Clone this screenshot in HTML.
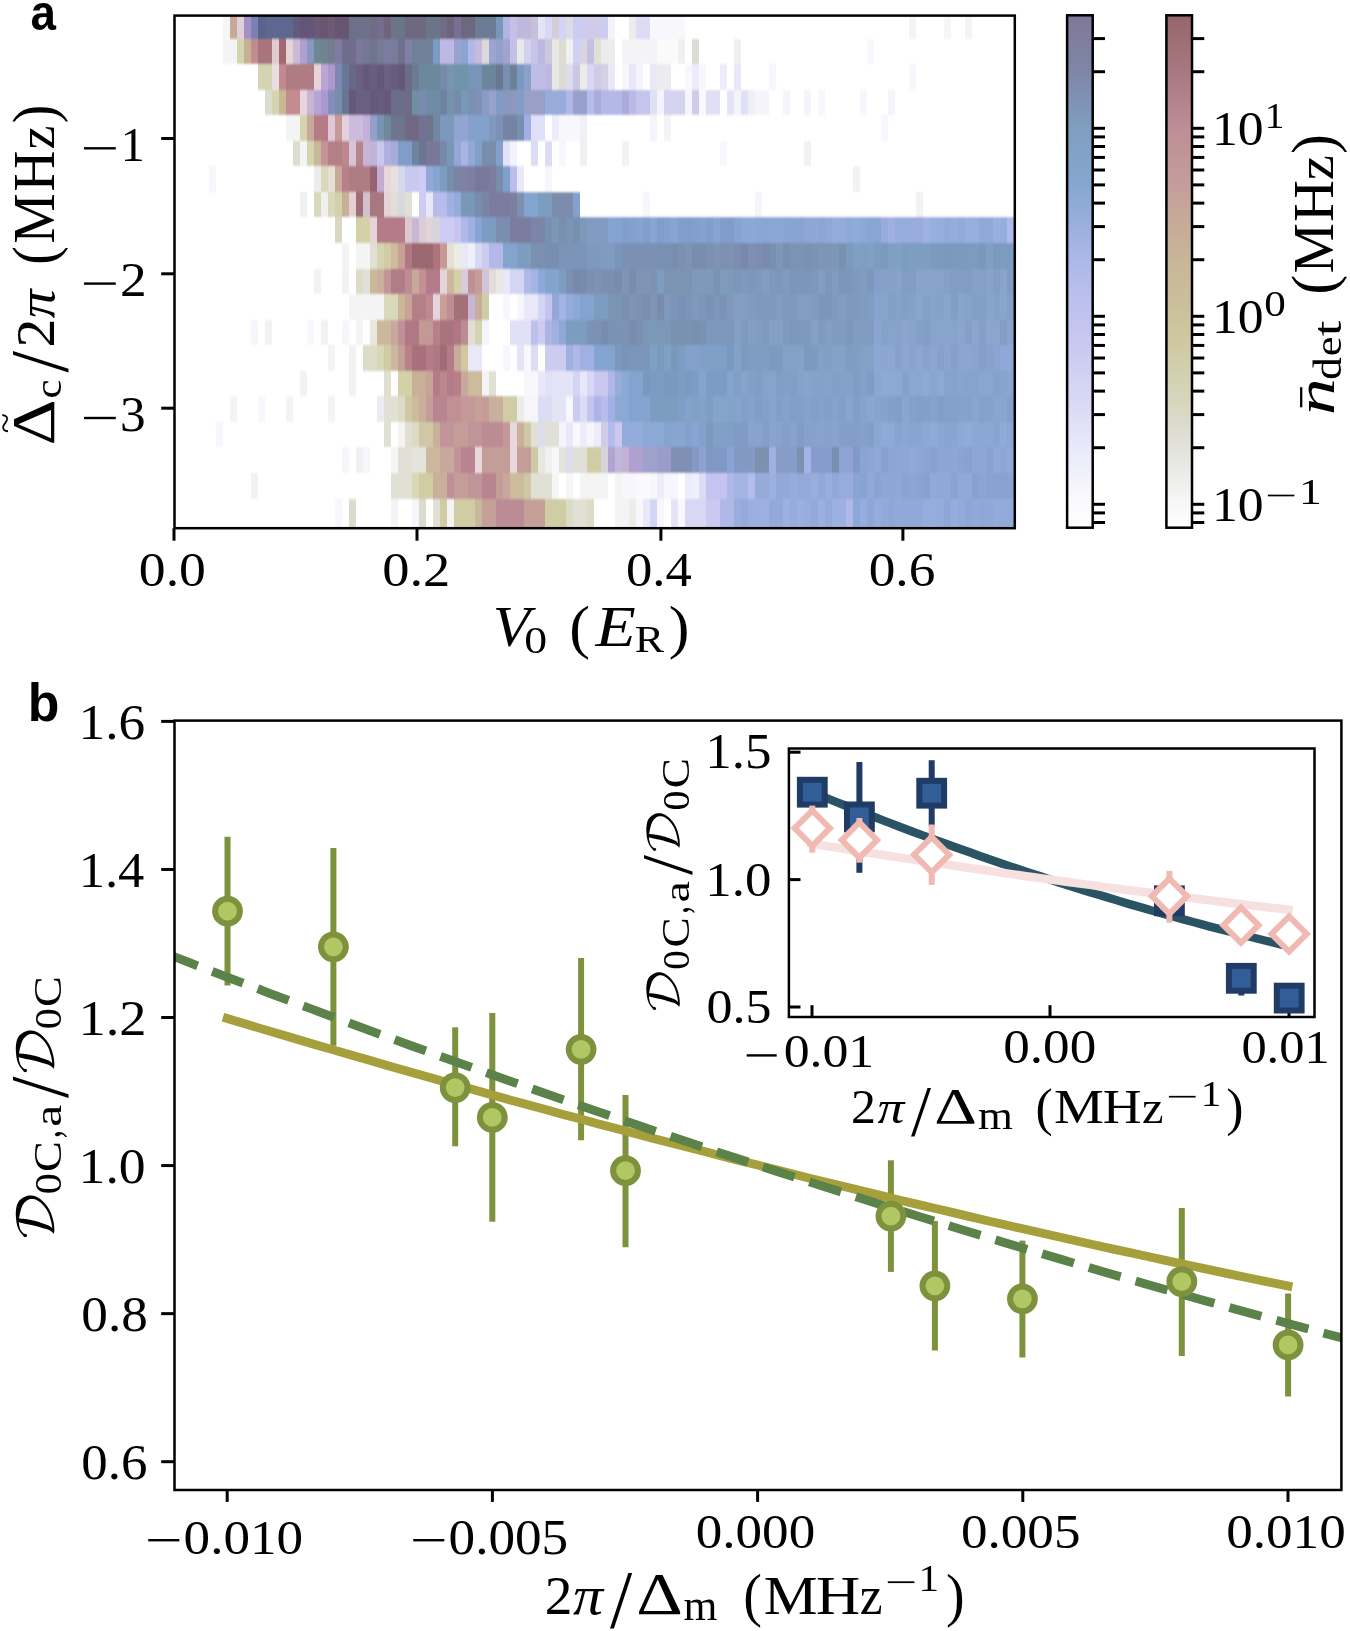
<!DOCTYPE html>
<html><head><meta charset="utf-8"><title>figure</title><style>html,body{margin:0;padding:0;background:#fff}svg{display:block}text{font-kerning:none;white-space:pre}</style>
</head><body>
<svg width="1350" height="1631" viewBox="0 0 1350 1631">
<rect width="1350" height="1631" fill="#fff"/>
<defs><filter id="vb" x="0" y="0" width="1350" height="560" filterUnits="userSpaceOnUse"><feGaussianBlur stdDeviation="0 1.3"/></filter><clipPath id="ca"><rect x="174.5" y="15.6" width="840.3" height="512.6"/></clipPath></defs>
<g clip-path="url(#ca)"><g filter="url(#vb)" shape-rendering="crispEdges">
<rect x="172.50" y="0.00" width="844.30" height="545.00" fill="#fff" stroke="none" stroke-width="0" />
<rect x="223.20" y="8.00" width="7.00" height="30.50" fill="#f6f6f6" stroke="none" stroke-width="0" />
<rect x="230.20" y="8.00" width="7.00" height="30.50" fill="#c8a896" stroke="none" stroke-width="0" />
<rect x="237.20" y="8.00" width="7.00" height="30.50" fill="#e0d0d8" stroke="none" stroke-width="0" />
<rect x="244.20" y="8.00" width="7.00" height="30.50" fill="#a490c4" stroke="none" stroke-width="0" />
<rect x="251.20" y="8.00" width="7.00" height="30.50" fill="#7c80b8" stroke="none" stroke-width="0" />
<rect x="258.20" y="8.00" width="7.00" height="30.50" fill="#5a648c" stroke="none" stroke-width="0" />
<rect x="265.20" y="8.00" width="28.00" height="30.50" fill="#5c6890" stroke="none" stroke-width="0" />
<rect x="293.20" y="8.00" width="7.00" height="30.50" fill="#605c80" stroke="none" stroke-width="0" />
<rect x="300.20" y="8.00" width="14.00" height="30.50" fill="#645478" stroke="none" stroke-width="0" />
<rect x="314.20" y="8.00" width="7.00" height="30.50" fill="#6b5975" stroke="none" stroke-width="0" />
<rect x="321.20" y="8.00" width="7.00" height="30.50" fill="#685672" stroke="none" stroke-width="0" />
<rect x="328.20" y="8.00" width="7.00" height="30.50" fill="#6c5a76" stroke="none" stroke-width="0" />
<rect x="335.20" y="8.00" width="7.00" height="30.50" fill="#665470" stroke="none" stroke-width="0" />
<rect x="342.20" y="8.00" width="7.00" height="30.50" fill="#675571" stroke="none" stroke-width="0" />
<rect x="349.20" y="8.00" width="21.00" height="30.50" fill="#6c7088" stroke="none" stroke-width="0" />
<rect x="370.20" y="8.00" width="7.00" height="30.50" fill="#706c84" stroke="none" stroke-width="0" />
<rect x="377.20" y="8.00" width="7.00" height="30.50" fill="#746c90" stroke="none" stroke-width="0" />
<rect x="384.20" y="8.00" width="7.00" height="30.50" fill="#70647c" stroke="none" stroke-width="0" />
<rect x="391.20" y="8.00" width="14.00" height="30.50" fill="#6c7488" stroke="none" stroke-width="0" />
<rect x="405.20" y="8.00" width="21.00" height="30.50" fill="#6e6880" stroke="none" stroke-width="0" />
<rect x="426.20" y="8.00" width="14.00" height="30.50" fill="#6c7488" stroke="none" stroke-width="0" />
<rect x="440.20" y="8.00" width="7.00" height="30.50" fill="#706c88" stroke="none" stroke-width="0" />
<rect x="447.20" y="8.00" width="7.00" height="30.50" fill="#6c647c" stroke="none" stroke-width="0" />
<rect x="454.20" y="8.00" width="7.00" height="30.50" fill="#787094" stroke="none" stroke-width="0" />
<rect x="461.20" y="8.00" width="14.00" height="30.50" fill="#6c6880" stroke="none" stroke-width="0" />
<rect x="475.20" y="8.00" width="21.00" height="30.50" fill="#6c7c94" stroke="none" stroke-width="0" />
<rect x="496.20" y="8.00" width="7.00" height="30.50" fill="#7898b8" stroke="none" stroke-width="0" />
<rect x="503.20" y="8.00" width="7.00" height="30.50" fill="#b4b4e4" stroke="none" stroke-width="0" />
<rect x="510.20" y="8.00" width="7.00" height="30.50" fill="#c4c0e8" stroke="none" stroke-width="0" />
<rect x="517.20" y="8.00" width="14.00" height="30.50" fill="#c0b8dc" stroke="none" stroke-width="0" />
<rect x="531.20" y="8.00" width="7.00" height="30.50" fill="#c8c0d8" stroke="none" stroke-width="0" />
<rect x="538.20" y="8.00" width="7.00" height="30.50" fill="#e4e4f8" stroke="none" stroke-width="0" />
<rect x="545.20" y="8.00" width="7.00" height="30.50" fill="#d8d8f4" stroke="none" stroke-width="0" />
<rect x="552.20" y="8.00" width="7.00" height="30.50" fill="#d4ccd8" stroke="none" stroke-width="0" />
<rect x="559.20" y="8.00" width="7.00" height="30.50" fill="#d4d4f4" stroke="none" stroke-width="0" />
<rect x="566.20" y="8.00" width="7.00" height="30.50" fill="#dcdce8" stroke="none" stroke-width="0" />
<rect x="573.20" y="8.00" width="14.00" height="30.50" fill="#ccccf0" stroke="none" stroke-width="0" />
<rect x="587.20" y="8.00" width="14.00" height="30.50" fill="#d0cce8" stroke="none" stroke-width="0" />
<rect x="601.20" y="8.00" width="7.00" height="30.50" fill="#ccccf0" stroke="none" stroke-width="0" />
<rect x="608.20" y="8.00" width="7.00" height="30.50" fill="#f4f4f8" stroke="none" stroke-width="0" />
<rect x="629.20" y="8.00" width="7.00" height="30.50" fill="#ececec" stroke="none" stroke-width="0" />
<rect x="636.20" y="8.00" width="14.00" height="30.50" fill="#dcdcf4" stroke="none" stroke-width="0" />
<rect x="650.20" y="8.00" width="35.00" height="30.50" fill="#f8f8fc" stroke="none" stroke-width="0" />
<rect x="909.20" y="8.00" width="7.00" height="30.50" fill="#f4f4f4" stroke="none" stroke-width="0" />
<rect x="944.20" y="8.00" width="7.00" height="30.50" fill="#f6f6f6" stroke="none" stroke-width="0" />
<rect x="965.20" y="8.00" width="7.00" height="30.50" fill="#f4f4f4" stroke="none" stroke-width="0" />
<rect x="223.20" y="38.50" width="14.00" height="25.56" fill="#f4f4f4" stroke="none" stroke-width="0" />
<rect x="237.20" y="38.50" width="7.00" height="25.56" fill="#d4d4b0" stroke="none" stroke-width="0" />
<rect x="244.20" y="38.50" width="7.00" height="25.56" fill="#c8b094" stroke="none" stroke-width="0" />
<rect x="251.20" y="38.50" width="7.00" height="25.56" fill="#c08c90" stroke="none" stroke-width="0" />
<rect x="258.20" y="38.50" width="14.00" height="25.56" fill="#a8747c" stroke="none" stroke-width="0" />
<rect x="272.20" y="38.50" width="7.00" height="25.56" fill="#e0ccd0" stroke="none" stroke-width="0" />
<rect x="279.20" y="38.50" width="7.00" height="25.56" fill="#a06870" stroke="none" stroke-width="0" />
<rect x="286.20" y="38.50" width="7.00" height="25.56" fill="#e4d4d8" stroke="none" stroke-width="0" />
<rect x="293.20" y="38.50" width="7.00" height="25.56" fill="#ccb8d8" stroke="none" stroke-width="0" />
<rect x="300.20" y="38.50" width="7.00" height="25.56" fill="#b0a0d0" stroke="none" stroke-width="0" />
<rect x="307.20" y="38.50" width="7.00" height="25.56" fill="#8898c0" stroke="none" stroke-width="0" />
<rect x="314.20" y="38.50" width="7.00" height="25.56" fill="#6c8894" stroke="none" stroke-width="0" />
<rect x="321.20" y="38.50" width="7.00" height="25.56" fill="#708490" stroke="none" stroke-width="0" />
<rect x="328.20" y="38.50" width="7.00" height="25.56" fill="#747c90" stroke="none" stroke-width="0" />
<rect x="335.20" y="38.50" width="7.00" height="25.56" fill="#807ca0" stroke="none" stroke-width="0" />
<rect x="342.20" y="38.50" width="14.00" height="25.56" fill="#706c8c" stroke="none" stroke-width="0" />
<rect x="356.20" y="38.50" width="7.00" height="25.56" fill="#7c789c" stroke="none" stroke-width="0" />
<rect x="363.20" y="38.50" width="7.00" height="25.56" fill="#747894" stroke="none" stroke-width="0" />
<rect x="370.20" y="38.50" width="7.00" height="25.56" fill="#70748c" stroke="none" stroke-width="0" />
<rect x="377.20" y="38.50" width="7.00" height="25.56" fill="#747c94" stroke="none" stroke-width="0" />
<rect x="384.20" y="38.50" width="7.00" height="25.56" fill="#7c7ca0" stroke="none" stroke-width="0" />
<rect x="391.20" y="38.50" width="7.00" height="25.56" fill="#787c9c" stroke="none" stroke-width="0" />
<rect x="398.20" y="38.50" width="7.00" height="25.56" fill="#70708c" stroke="none" stroke-width="0" />
<rect x="405.20" y="38.50" width="7.00" height="25.56" fill="#8080a4" stroke="none" stroke-width="0" />
<rect x="412.20" y="38.50" width="21.00" height="25.56" fill="#708098" stroke="none" stroke-width="0" />
<rect x="433.20" y="38.50" width="7.00" height="25.56" fill="#7c9cc4" stroke="none" stroke-width="0" />
<rect x="440.20" y="38.50" width="14.00" height="25.56" fill="#c0b8e4" stroke="none" stroke-width="0" />
<rect x="454.20" y="38.50" width="7.00" height="25.56" fill="#98a4d0" stroke="none" stroke-width="0" />
<rect x="461.20" y="38.50" width="7.00" height="25.56" fill="#8ca4d4" stroke="none" stroke-width="0" />
<rect x="468.20" y="38.50" width="7.00" height="25.56" fill="#b0b8e8" stroke="none" stroke-width="0" />
<rect x="475.20" y="38.50" width="7.00" height="25.56" fill="#c4bcdc" stroke="none" stroke-width="0" />
<rect x="482.20" y="38.50" width="7.00" height="25.56" fill="#dcd8dc" stroke="none" stroke-width="0" />
<rect x="489.20" y="38.50" width="7.00" height="25.56" fill="#9ca4d0" stroke="none" stroke-width="0" />
<rect x="496.20" y="38.50" width="7.00" height="25.56" fill="#94a0cc" stroke="none" stroke-width="0" />
<rect x="503.20" y="38.50" width="7.00" height="25.56" fill="#a0a4d0" stroke="none" stroke-width="0" />
<rect x="510.20" y="38.50" width="7.00" height="25.56" fill="#c4c0e4" stroke="none" stroke-width="0" />
<rect x="517.20" y="38.50" width="7.00" height="25.56" fill="#e8e8e8" stroke="none" stroke-width="0" />
<rect x="524.20" y="38.50" width="7.00" height="25.56" fill="#d4d0f0" stroke="none" stroke-width="0" />
<rect x="531.20" y="38.50" width="7.00" height="25.56" fill="#c8c4e8" stroke="none" stroke-width="0" />
<rect x="538.20" y="38.50" width="7.00" height="25.56" fill="#bcb8e0" stroke="none" stroke-width="0" />
<rect x="545.20" y="38.50" width="7.00" height="25.56" fill="#ccc8dc" stroke="none" stroke-width="0" />
<rect x="552.20" y="38.50" width="7.00" height="25.56" fill="#e8e8e4" stroke="none" stroke-width="0" />
<rect x="559.20" y="38.50" width="7.00" height="25.56" fill="#dcdcd4" stroke="none" stroke-width="0" />
<rect x="566.20" y="38.50" width="7.00" height="25.56" fill="#f0f0f0" stroke="none" stroke-width="0" />
<rect x="573.20" y="38.50" width="7.00" height="25.56" fill="#d0d0f4" stroke="none" stroke-width="0" />
<rect x="580.20" y="38.50" width="7.00" height="25.56" fill="#d8d4e4" stroke="none" stroke-width="0" />
<rect x="587.20" y="38.50" width="7.00" height="25.56" fill="#c4c0e0" stroke="none" stroke-width="0" />
<rect x="594.20" y="38.50" width="7.00" height="25.56" fill="#e0e0d4" stroke="none" stroke-width="0" />
<rect x="601.20" y="38.50" width="14.00" height="25.56" fill="#ececec" stroke="none" stroke-width="0" />
<rect x="622.20" y="38.50" width="35.00" height="25.56" fill="#f4f4f6" stroke="none" stroke-width="0" />
<rect x="657.20" y="38.50" width="21.00" height="25.56" fill="#fafafa" stroke="none" stroke-width="0" />
<rect x="678.20" y="38.50" width="7.00" height="25.56" fill="#f0f0f0" stroke="none" stroke-width="0" />
<rect x="692.20" y="38.50" width="7.00" height="25.56" fill="#dcdcd4" stroke="none" stroke-width="0" />
<rect x="734.20" y="38.50" width="7.00" height="25.56" fill="#f0f0f0" stroke="none" stroke-width="0" />
<rect x="867.20" y="38.50" width="7.00" height="25.56" fill="#f8f8fc" stroke="none" stroke-width="0" />
<rect x="258.20" y="64.06" width="14.00" height="25.56" fill="#d4d4b4" stroke="none" stroke-width="0" />
<rect x="272.20" y="64.06" width="7.00" height="25.56" fill="#e8e0e0" stroke="none" stroke-width="0" />
<rect x="279.20" y="64.06" width="7.00" height="25.56" fill="#c48890" stroke="none" stroke-width="0" />
<rect x="286.20" y="64.06" width="28.00" height="25.56" fill="#b07c84" stroke="none" stroke-width="0" />
<rect x="314.20" y="64.06" width="7.00" height="25.56" fill="#e8d4d8" stroke="none" stroke-width="0" />
<rect x="321.20" y="64.06" width="7.00" height="25.56" fill="#bca4d4" stroke="none" stroke-width="0" />
<rect x="328.20" y="64.06" width="7.00" height="25.56" fill="#ac98cc" stroke="none" stroke-width="0" />
<rect x="335.20" y="64.06" width="7.00" height="25.56" fill="#7c88b4" stroke="none" stroke-width="0" />
<rect x="342.20" y="64.06" width="7.00" height="25.56" fill="#687898" stroke="none" stroke-width="0" />
<rect x="349.20" y="64.06" width="7.00" height="25.56" fill="#686888" stroke="none" stroke-width="0" />
<rect x="356.20" y="64.06" width="7.00" height="25.56" fill="#6c6080" stroke="none" stroke-width="0" />
<rect x="363.20" y="64.06" width="7.00" height="25.56" fill="#655979" stroke="none" stroke-width="0" />
<rect x="370.20" y="64.06" width="7.00" height="25.56" fill="#695d7d" stroke="none" stroke-width="0" />
<rect x="377.20" y="64.06" width="7.00" height="25.56" fill="#645878" stroke="none" stroke-width="0" />
<rect x="384.20" y="64.06" width="7.00" height="25.56" fill="#6c6080" stroke="none" stroke-width="0" />
<rect x="391.20" y="64.06" width="7.00" height="25.56" fill="#675b7b" stroke="none" stroke-width="0" />
<rect x="398.20" y="64.06" width="7.00" height="25.56" fill="#645878" stroke="none" stroke-width="0" />
<rect x="405.20" y="64.06" width="7.00" height="25.56" fill="#6c6c84" stroke="none" stroke-width="0" />
<rect x="412.20" y="64.06" width="7.00" height="25.56" fill="#6c7c90" stroke="none" stroke-width="0" />
<rect x="419.20" y="64.06" width="21.00" height="25.56" fill="#6c889c" stroke="none" stroke-width="0" />
<rect x="440.20" y="64.06" width="7.00" height="25.56" fill="#748ca8" stroke="none" stroke-width="0" />
<rect x="447.20" y="64.06" width="7.00" height="25.56" fill="#7894b0" stroke="none" stroke-width="0" />
<rect x="454.20" y="64.06" width="14.00" height="25.56" fill="#7094ac" stroke="none" stroke-width="0" />
<rect x="468.20" y="64.06" width="14.00" height="25.56" fill="#7894b8" stroke="none" stroke-width="0" />
<rect x="482.20" y="64.06" width="14.00" height="25.56" fill="#6c849c" stroke="none" stroke-width="0" />
<rect x="496.20" y="64.06" width="7.00" height="25.56" fill="#687890" stroke="none" stroke-width="0" />
<rect x="503.20" y="64.06" width="7.00" height="25.56" fill="#788eb2" stroke="none" stroke-width="0" />
<rect x="510.20" y="64.06" width="7.00" height="25.56" fill="#6c8098" stroke="none" stroke-width="0" />
<rect x="517.20" y="64.06" width="7.00" height="25.56" fill="#7c98c0" stroke="none" stroke-width="0" />
<rect x="524.20" y="64.06" width="7.00" height="25.56" fill="#88a0cc" stroke="none" stroke-width="0" />
<rect x="531.20" y="64.06" width="14.00" height="25.56" fill="#c0bce8" stroke="none" stroke-width="0" />
<rect x="545.20" y="64.06" width="7.00" height="25.56" fill="#bcb8e0" stroke="none" stroke-width="0" />
<rect x="552.20" y="64.06" width="7.00" height="25.56" fill="#e8e8e4" stroke="none" stroke-width="0" />
<rect x="559.20" y="64.06" width="7.00" height="25.56" fill="#dcdcd4" stroke="none" stroke-width="0" />
<rect x="566.20" y="64.06" width="7.00" height="25.56" fill="#dcdcec" stroke="none" stroke-width="0" />
<rect x="573.20" y="64.06" width="7.00" height="25.56" fill="#ccc8e4" stroke="none" stroke-width="0" />
<rect x="580.20" y="64.06" width="7.00" height="25.56" fill="#ecece8" stroke="none" stroke-width="0" />
<rect x="587.20" y="64.06" width="7.00" height="25.56" fill="#d8d8f4" stroke="none" stroke-width="0" />
<rect x="594.20" y="64.06" width="7.00" height="25.56" fill="#d0cce8" stroke="none" stroke-width="0" />
<rect x="601.20" y="64.06" width="7.00" height="25.56" fill="#d4d0e8" stroke="none" stroke-width="0" />
<rect x="608.20" y="64.06" width="7.00" height="25.56" fill="#e8e8f8" stroke="none" stroke-width="0" />
<rect x="622.20" y="64.06" width="7.00" height="25.56" fill="#f8f8fc" stroke="none" stroke-width="0" />
<rect x="629.20" y="64.06" width="7.00" height="25.56" fill="#e8e8f8" stroke="none" stroke-width="0" />
<rect x="636.20" y="64.06" width="7.00" height="25.56" fill="#f4f4fc" stroke="none" stroke-width="0" />
<rect x="650.20" y="64.06" width="7.00" height="25.56" fill="#e8e8f8" stroke="none" stroke-width="0" />
<rect x="657.20" y="64.06" width="14.00" height="25.56" fill="#ececf0" stroke="none" stroke-width="0" />
<rect x="685.20" y="64.06" width="7.00" height="25.56" fill="#f8f8fc" stroke="none" stroke-width="0" />
<rect x="692.20" y="64.06" width="7.00" height="25.56" fill="#ececfa" stroke="none" stroke-width="0" />
<rect x="699.20" y="64.06" width="7.00" height="25.56" fill="#f8f8fc" stroke="none" stroke-width="0" />
<rect x="720.20" y="64.06" width="7.00" height="25.56" fill="#ececfa" stroke="none" stroke-width="0" />
<rect x="734.20" y="64.06" width="7.00" height="25.56" fill="#e8e8f8" stroke="none" stroke-width="0" />
<rect x="769.20" y="64.06" width="7.00" height="25.56" fill="#f6f6fc" stroke="none" stroke-width="0" />
<rect x="909.20" y="64.06" width="7.00" height="25.56" fill="#f6f6fc" stroke="none" stroke-width="0" />
<rect x="265.20" y="89.62" width="7.00" height="25.56" fill="#dcdccc" stroke="none" stroke-width="0" />
<rect x="272.20" y="89.62" width="7.00" height="25.56" fill="#d4d4b0" stroke="none" stroke-width="0" />
<rect x="279.20" y="89.62" width="7.00" height="25.56" fill="#c8b894" stroke="none" stroke-width="0" />
<rect x="286.20" y="89.62" width="14.00" height="25.56" fill="#c48c90" stroke="none" stroke-width="0" />
<rect x="300.20" y="89.62" width="7.00" height="25.56" fill="#e8d4dc" stroke="none" stroke-width="0" />
<rect x="307.20" y="89.62" width="7.00" height="25.56" fill="#c8b4d4" stroke="none" stroke-width="0" />
<rect x="314.20" y="89.62" width="7.00" height="25.56" fill="#b8a4d4" stroke="none" stroke-width="0" />
<rect x="321.20" y="89.62" width="7.00" height="25.56" fill="#ac98d0" stroke="none" stroke-width="0" />
<rect x="328.20" y="89.62" width="7.00" height="25.56" fill="#848cbc" stroke="none" stroke-width="0" />
<rect x="335.20" y="89.62" width="7.00" height="25.56" fill="#788cac" stroke="none" stroke-width="0" />
<rect x="342.20" y="89.62" width="7.00" height="25.56" fill="#687494" stroke="none" stroke-width="0" />
<rect x="349.20" y="89.62" width="7.00" height="25.56" fill="#655979" stroke="none" stroke-width="0" />
<rect x="356.20" y="89.62" width="14.00" height="25.56" fill="#6a5e7e" stroke="none" stroke-width="0" />
<rect x="370.20" y="89.62" width="7.00" height="25.56" fill="#655979" stroke="none" stroke-width="0" />
<rect x="377.20" y="89.62" width="7.00" height="25.56" fill="#675b7b" stroke="none" stroke-width="0" />
<rect x="384.20" y="89.62" width="7.00" height="25.56" fill="#655979" stroke="none" stroke-width="0" />
<rect x="391.20" y="89.62" width="21.00" height="25.56" fill="#6c6c88" stroke="none" stroke-width="0" />
<rect x="412.20" y="89.62" width="7.00" height="25.56" fill="#7090a0" stroke="none" stroke-width="0" />
<rect x="419.20" y="89.62" width="7.00" height="25.56" fill="#788cb0" stroke="none" stroke-width="0" />
<rect x="426.20" y="89.62" width="14.00" height="25.56" fill="#708ca4" stroke="none" stroke-width="0" />
<rect x="440.20" y="89.62" width="7.00" height="25.56" fill="#7080a0" stroke="none" stroke-width="0" />
<rect x="447.20" y="89.62" width="7.00" height="25.56" fill="#7494ac" stroke="none" stroke-width="0" />
<rect x="454.20" y="89.62" width="7.00" height="25.56" fill="#748cac" stroke="none" stroke-width="0" />
<rect x="461.20" y="89.62" width="7.00" height="25.56" fill="#7898b8" stroke="none" stroke-width="0" />
<rect x="468.20" y="89.62" width="7.00" height="25.56" fill="#7c90b4" stroke="none" stroke-width="0" />
<rect x="475.20" y="89.62" width="7.00" height="25.56" fill="#8090b8" stroke="none" stroke-width="0" />
<rect x="482.20" y="89.62" width="7.00" height="25.56" fill="#889cc4" stroke="none" stroke-width="0" />
<rect x="489.20" y="89.62" width="7.00" height="25.56" fill="#98a0cc" stroke="none" stroke-width="0" />
<rect x="496.20" y="89.62" width="7.00" height="25.56" fill="#809cc4" stroke="none" stroke-width="0" />
<rect x="503.20" y="89.62" width="7.00" height="25.56" fill="#8898c0" stroke="none" stroke-width="0" />
<rect x="510.20" y="89.62" width="7.00" height="25.56" fill="#8c98c0" stroke="none" stroke-width="0" />
<rect x="517.20" y="89.62" width="7.00" height="25.56" fill="#849cc8" stroke="none" stroke-width="0" />
<rect x="524.20" y="89.62" width="21.00" height="25.56" fill="#98a0c8" stroke="none" stroke-width="0" />
<rect x="545.20" y="89.62" width="21.00" height="25.56" fill="#98acdc" stroke="none" stroke-width="0" />
<rect x="566.20" y="89.62" width="7.00" height="25.56" fill="#b0b8e8" stroke="none" stroke-width="0" />
<rect x="573.20" y="89.62" width="14.00" height="25.56" fill="#98a0cc" stroke="none" stroke-width="0" />
<rect x="587.20" y="89.62" width="7.00" height="25.56" fill="#b8bcec" stroke="none" stroke-width="0" />
<rect x="594.20" y="89.62" width="7.00" height="25.56" fill="#a8acd8" stroke="none" stroke-width="0" />
<rect x="601.20" y="89.62" width="21.00" height="25.56" fill="#b4b8e8" stroke="none" stroke-width="0" />
<rect x="622.20" y="89.62" width="7.00" height="25.56" fill="#acacdc" stroke="none" stroke-width="0" />
<rect x="629.20" y="89.62" width="7.00" height="25.56" fill="#bcb8e8" stroke="none" stroke-width="0" />
<rect x="636.20" y="89.62" width="14.00" height="25.56" fill="#c4c4ec" stroke="none" stroke-width="0" />
<rect x="650.20" y="89.62" width="7.00" height="25.56" fill="#e0e0f4" stroke="none" stroke-width="0" />
<rect x="657.20" y="89.62" width="7.00" height="25.56" fill="#f4f4fc" stroke="none" stroke-width="0" />
<rect x="664.20" y="89.62" width="21.00" height="25.56" fill="#d4d4f0" stroke="none" stroke-width="0" />
<rect x="685.20" y="89.62" width="7.00" height="25.56" fill="#f4f4fc" stroke="none" stroke-width="0" />
<rect x="692.20" y="89.62" width="7.00" height="25.56" fill="#d0cce8" stroke="none" stroke-width="0" />
<rect x="699.20" y="89.62" width="7.00" height="25.56" fill="#f8f8fc" stroke="none" stroke-width="0" />
<rect x="706.20" y="89.62" width="14.00" height="25.56" fill="#e0e0f4" stroke="none" stroke-width="0" />
<rect x="727.20" y="89.62" width="7.00" height="25.56" fill="#e4e4f8" stroke="none" stroke-width="0" />
<rect x="734.20" y="89.62" width="7.00" height="25.56" fill="#f4f4fa" stroke="none" stroke-width="0" />
<rect x="741.20" y="89.62" width="7.00" height="25.56" fill="#e0e0f6" stroke="none" stroke-width="0" />
<rect x="748.20" y="89.62" width="7.00" height="25.56" fill="#f0f0f4" stroke="none" stroke-width="0" />
<rect x="755.20" y="89.62" width="14.00" height="25.56" fill="#f4f4fc" stroke="none" stroke-width="0" />
<rect x="783.20" y="89.62" width="7.00" height="25.56" fill="#f4f4fc" stroke="none" stroke-width="0" />
<rect x="804.20" y="89.62" width="7.00" height="25.56" fill="#f4f4fc" stroke="none" stroke-width="0" />
<rect x="818.20" y="89.62" width="7.00" height="25.56" fill="#f6f6fc" stroke="none" stroke-width="0" />
<rect x="860.20" y="89.62" width="7.00" height="25.56" fill="#f6f6fc" stroke="none" stroke-width="0" />
<rect x="888.20" y="89.62" width="7.00" height="25.56" fill="#f4f4fc" stroke="none" stroke-width="0" />
<rect x="286.20" y="115.18" width="14.00" height="25.56" fill="#f4f4f4" stroke="none" stroke-width="0" />
<rect x="300.20" y="115.18" width="7.00" height="25.56" fill="#d4d4b0" stroke="none" stroke-width="0" />
<rect x="307.20" y="115.18" width="7.00" height="25.56" fill="#c8a898" stroke="none" stroke-width="0" />
<rect x="314.20" y="115.18" width="14.00" height="25.56" fill="#b47c84" stroke="none" stroke-width="0" />
<rect x="328.20" y="115.18" width="7.00" height="25.56" fill="#e0c8d8" stroke="none" stroke-width="0" />
<rect x="335.20" y="115.18" width="7.00" height="25.56" fill="#c89894" stroke="none" stroke-width="0" />
<rect x="342.20" y="115.18" width="7.00" height="25.56" fill="#e4d0e0" stroke="none" stroke-width="0" />
<rect x="349.20" y="115.18" width="14.00" height="25.56" fill="#ccbcdc" stroke="none" stroke-width="0" />
<rect x="363.20" y="115.18" width="7.00" height="25.56" fill="#c4b0d8" stroke="none" stroke-width="0" />
<rect x="370.20" y="115.18" width="7.00" height="25.56" fill="#94a0cc" stroke="none" stroke-width="0" />
<rect x="377.20" y="115.18" width="7.00" height="25.56" fill="#7894b0" stroke="none" stroke-width="0" />
<rect x="384.20" y="115.18" width="7.00" height="25.56" fill="#70889c" stroke="none" stroke-width="0" />
<rect x="391.20" y="115.18" width="14.00" height="25.56" fill="#6c748c" stroke="none" stroke-width="0" />
<rect x="405.20" y="115.18" width="14.00" height="25.56" fill="#706884" stroke="none" stroke-width="0" />
<rect x="419.20" y="115.18" width="7.00" height="25.56" fill="#747094" stroke="none" stroke-width="0" />
<rect x="426.20" y="115.18" width="7.00" height="25.56" fill="#6c748c" stroke="none" stroke-width="0" />
<rect x="433.20" y="115.18" width="7.00" height="25.56" fill="#7088a0" stroke="none" stroke-width="0" />
<rect x="440.20" y="115.18" width="14.00" height="25.56" fill="#7c98bc" stroke="none" stroke-width="0" />
<rect x="454.20" y="115.18" width="14.00" height="25.56" fill="#94a4d0" stroke="none" stroke-width="0" />
<rect x="468.20" y="115.18" width="21.00" height="25.56" fill="#84a0cc" stroke="none" stroke-width="0" />
<rect x="489.20" y="115.18" width="7.00" height="25.56" fill="#8098c0" stroke="none" stroke-width="0" />
<rect x="496.20" y="115.18" width="7.00" height="25.56" fill="#7c90b8" stroke="none" stroke-width="0" />
<rect x="503.20" y="115.18" width="14.00" height="25.56" fill="#7484a4" stroke="none" stroke-width="0" />
<rect x="517.20" y="115.18" width="7.00" height="25.56" fill="#7890b0" stroke="none" stroke-width="0" />
<rect x="524.20" y="115.18" width="7.00" height="25.56" fill="#a0b0e4" stroke="none" stroke-width="0" />
<rect x="531.20" y="115.18" width="14.00" height="25.56" fill="#e0e0f8" stroke="none" stroke-width="0" />
<rect x="552.20" y="115.18" width="7.00" height="25.56" fill="#ececfa" stroke="none" stroke-width="0" />
<rect x="559.20" y="115.18" width="21.00" height="25.56" fill="#f8f8fc" stroke="none" stroke-width="0" />
<rect x="580.20" y="115.18" width="7.00" height="25.56" fill="#f0f0f8" stroke="none" stroke-width="0" />
<rect x="650.20" y="115.18" width="7.00" height="25.56" fill="#f4f4fa" stroke="none" stroke-width="0" />
<rect x="664.20" y="115.18" width="7.00" height="25.56" fill="#f4f4f8" stroke="none" stroke-width="0" />
<rect x="881.20" y="115.18" width="7.00" height="25.56" fill="#f8f8fe" stroke="none" stroke-width="0" />
<rect x="293.20" y="140.74" width="7.00" height="25.56" fill="#dcdcd0" stroke="none" stroke-width="0" />
<rect x="300.20" y="140.74" width="7.00" height="25.56" fill="#f4f4f4" stroke="none" stroke-width="0" />
<rect x="307.20" y="140.74" width="7.00" height="25.56" fill="#d4d4b0" stroke="none" stroke-width="0" />
<rect x="314.20" y="140.74" width="7.00" height="25.56" fill="#c8b898" stroke="none" stroke-width="0" />
<rect x="321.20" y="140.74" width="7.00" height="25.56" fill="#c49494" stroke="none" stroke-width="0" />
<rect x="328.20" y="140.74" width="14.00" height="25.56" fill="#b48088" stroke="none" stroke-width="0" />
<rect x="342.20" y="140.74" width="7.00" height="25.56" fill="#bc888c" stroke="none" stroke-width="0" />
<rect x="349.20" y="140.74" width="7.00" height="25.56" fill="#d8c4d8" stroke="none" stroke-width="0" />
<rect x="356.20" y="140.74" width="7.00" height="25.56" fill="#b8848c" stroke="none" stroke-width="0" />
<rect x="363.20" y="140.74" width="7.00" height="25.56" fill="#c8b4d4" stroke="none" stroke-width="0" />
<rect x="370.20" y="140.74" width="7.00" height="25.56" fill="#c0b4d8" stroke="none" stroke-width="0" />
<rect x="377.20" y="140.74" width="7.00" height="25.56" fill="#ccc8ec" stroke="none" stroke-width="0" />
<rect x="384.20" y="140.74" width="7.00" height="25.56" fill="#b0b0e0" stroke="none" stroke-width="0" />
<rect x="391.20" y="140.74" width="7.00" height="25.56" fill="#a8acd8" stroke="none" stroke-width="0" />
<rect x="398.20" y="140.74" width="14.00" height="25.56" fill="#809cc8" stroke="none" stroke-width="0" />
<rect x="412.20" y="140.74" width="7.00" height="25.56" fill="#6c84a0" stroke="none" stroke-width="0" />
<rect x="419.20" y="140.74" width="7.00" height="25.56" fill="#6c7494" stroke="none" stroke-width="0" />
<rect x="426.20" y="140.74" width="14.00" height="25.56" fill="#787898" stroke="none" stroke-width="0" />
<rect x="440.20" y="140.74" width="7.00" height="25.56" fill="#7888a8" stroke="none" stroke-width="0" />
<rect x="447.20" y="140.74" width="7.00" height="25.56" fill="#7898b8" stroke="none" stroke-width="0" />
<rect x="454.20" y="140.74" width="7.00" height="25.56" fill="#94a8d8" stroke="none" stroke-width="0" />
<rect x="461.20" y="140.74" width="7.00" height="25.56" fill="#a8b4e4" stroke="none" stroke-width="0" />
<rect x="468.20" y="140.74" width="7.00" height="25.56" fill="#94a8d8" stroke="none" stroke-width="0" />
<rect x="475.20" y="140.74" width="7.00" height="25.56" fill="#80a0c8" stroke="none" stroke-width="0" />
<rect x="482.20" y="140.74" width="14.00" height="25.56" fill="#788cac" stroke="none" stroke-width="0" />
<rect x="496.20" y="140.74" width="7.00" height="25.56" fill="#84a0cc" stroke="none" stroke-width="0" />
<rect x="503.20" y="140.74" width="7.00" height="25.56" fill="#e4e4f8" stroke="none" stroke-width="0" />
<rect x="510.20" y="140.74" width="7.00" height="25.56" fill="#f4f4fc" stroke="none" stroke-width="0" />
<rect x="531.20" y="140.74" width="7.00" height="25.56" fill="#dcdcf4" stroke="none" stroke-width="0" />
<rect x="545.20" y="140.74" width="7.00" height="25.56" fill="#dcdcf4" stroke="none" stroke-width="0" />
<rect x="559.20" y="140.74" width="7.00" height="25.56" fill="#f6f6fc" stroke="none" stroke-width="0" />
<rect x="580.20" y="140.74" width="7.00" height="25.56" fill="#f0f0f0" stroke="none" stroke-width="0" />
<rect x="622.20" y="140.74" width="7.00" height="25.56" fill="#f2f2f2" stroke="none" stroke-width="0" />
<rect x="720.20" y="140.74" width="7.00" height="25.56" fill="#f8f8fc" stroke="none" stroke-width="0" />
<rect x="804.20" y="140.74" width="7.00" height="25.56" fill="#f2f2f2" stroke="none" stroke-width="0" />
<rect x="209.20" y="166.30" width="7.00" height="25.56" fill="#f6f6fc" stroke="none" stroke-width="0" />
<rect x="314.20" y="166.30" width="7.00" height="25.56" fill="#ececec" stroke="none" stroke-width="0" />
<rect x="321.20" y="166.30" width="7.00" height="25.56" fill="#d8d8bc" stroke="none" stroke-width="0" />
<rect x="328.20" y="166.30" width="7.00" height="25.56" fill="#e4e0d4" stroke="none" stroke-width="0" />
<rect x="335.20" y="166.30" width="7.00" height="25.56" fill="#c8a898" stroke="none" stroke-width="0" />
<rect x="342.20" y="166.30" width="7.00" height="25.56" fill="#b88088" stroke="none" stroke-width="0" />
<rect x="349.20" y="166.30" width="21.00" height="25.56" fill="#b07c84" stroke="none" stroke-width="0" />
<rect x="370.20" y="166.30" width="7.00" height="25.56" fill="#986470" stroke="none" stroke-width="0" />
<rect x="377.20" y="166.30" width="7.00" height="25.56" fill="#c4acd0" stroke="none" stroke-width="0" />
<rect x="384.20" y="166.30" width="7.00" height="25.56" fill="#e8d8dc" stroke="none" stroke-width="0" />
<rect x="391.20" y="166.30" width="7.00" height="25.56" fill="#e8e0dc" stroke="none" stroke-width="0" />
<rect x="398.20" y="166.30" width="7.00" height="25.56" fill="#d8d8ec" stroke="none" stroke-width="0" />
<rect x="405.20" y="166.30" width="14.00" height="25.56" fill="#c8c8f0" stroke="none" stroke-width="0" />
<rect x="419.20" y="166.30" width="7.00" height="25.56" fill="#ccccf4" stroke="none" stroke-width="0" />
<rect x="426.20" y="166.30" width="7.00" height="25.56" fill="#94a8d8" stroke="none" stroke-width="0" />
<rect x="433.20" y="166.30" width="7.00" height="25.56" fill="#88a4d0" stroke="none" stroke-width="0" />
<rect x="440.20" y="166.30" width="7.00" height="25.56" fill="#7c9cc0" stroke="none" stroke-width="0" />
<rect x="447.20" y="166.30" width="7.00" height="25.56" fill="#788cac" stroke="none" stroke-width="0" />
<rect x="454.20" y="166.30" width="7.00" height="25.56" fill="#7884a4" stroke="none" stroke-width="0" />
<rect x="461.20" y="166.30" width="7.00" height="25.56" fill="#8080a4" stroke="none" stroke-width="0" />
<rect x="468.20" y="166.30" width="7.00" height="25.56" fill="#7e7ea2" stroke="none" stroke-width="0" />
<rect x="475.20" y="166.30" width="7.00" height="25.56" fill="#78789c" stroke="none" stroke-width="0" />
<rect x="482.20" y="166.30" width="7.00" height="25.56" fill="#79799d" stroke="none" stroke-width="0" />
<rect x="489.20" y="166.30" width="7.00" height="25.56" fill="#7b7b9f" stroke="none" stroke-width="0" />
<rect x="496.20" y="166.30" width="7.00" height="25.56" fill="#788cac" stroke="none" stroke-width="0" />
<rect x="503.20" y="166.30" width="7.00" height="25.56" fill="#80a0cc" stroke="none" stroke-width="0" />
<rect x="510.20" y="166.30" width="7.00" height="25.56" fill="#bcbcec" stroke="none" stroke-width="0" />
<rect x="517.20" y="166.30" width="7.00" height="25.56" fill="#e8e8f8" stroke="none" stroke-width="0" />
<rect x="545.20" y="166.30" width="7.00" height="25.56" fill="#f6f6fc" stroke="none" stroke-width="0" />
<rect x="853.20" y="166.30" width="7.00" height="25.56" fill="#f2f2f2" stroke="none" stroke-width="0" />
<rect x="300.20" y="191.86" width="7.00" height="25.56" fill="#f0f0f0" stroke="none" stroke-width="0" />
<rect x="314.20" y="191.86" width="7.00" height="25.56" fill="#d8d8bc" stroke="none" stroke-width="0" />
<rect x="321.20" y="191.86" width="7.00" height="25.56" fill="#f0f0ec" stroke="none" stroke-width="0" />
<rect x="328.20" y="191.86" width="7.00" height="25.56" fill="#d8d8bc" stroke="none" stroke-width="0" />
<rect x="335.20" y="191.86" width="7.00" height="25.56" fill="#d4d0ac" stroke="none" stroke-width="0" />
<rect x="342.20" y="191.86" width="7.00" height="25.56" fill="#c8b098" stroke="none" stroke-width="0" />
<rect x="349.20" y="191.86" width="7.00" height="25.56" fill="#e4d0d4" stroke="none" stroke-width="0" />
<rect x="356.20" y="191.86" width="7.00" height="25.56" fill="#a06c74" stroke="none" stroke-width="0" />
<rect x="363.20" y="191.86" width="7.00" height="25.56" fill="#d4c0c8" stroke="none" stroke-width="0" />
<rect x="370.20" y="191.86" width="14.00" height="25.56" fill="#a87880" stroke="none" stroke-width="0" />
<rect x="384.20" y="191.86" width="7.00" height="25.56" fill="#e4d4d8" stroke="none" stroke-width="0" />
<rect x="391.20" y="191.86" width="7.00" height="25.56" fill="#e4dcd8" stroke="none" stroke-width="0" />
<rect x="398.20" y="191.86" width="7.00" height="25.56" fill="#d8d8e0" stroke="none" stroke-width="0" />
<rect x="405.20" y="191.86" width="7.00" height="25.56" fill="#e0e0d4" stroke="none" stroke-width="0" />
<rect x="419.20" y="191.86" width="7.00" height="25.56" fill="#ccccf4" stroke="none" stroke-width="0" />
<rect x="426.20" y="191.86" width="7.00" height="25.56" fill="#e8e8f8" stroke="none" stroke-width="0" />
<rect x="433.20" y="191.86" width="14.00" height="25.56" fill="#b8bcec" stroke="none" stroke-width="0" />
<rect x="447.20" y="191.86" width="7.00" height="25.56" fill="#a0b0e4" stroke="none" stroke-width="0" />
<rect x="454.20" y="191.86" width="7.00" height="25.56" fill="#94acdc" stroke="none" stroke-width="0" />
<rect x="461.20" y="191.86" width="14.00" height="25.56" fill="#7898b8" stroke="none" stroke-width="0" />
<rect x="475.20" y="191.86" width="7.00" height="25.56" fill="#788cac" stroke="none" stroke-width="0" />
<rect x="482.20" y="191.86" width="7.00" height="25.56" fill="#7c84a4" stroke="none" stroke-width="0" />
<rect x="489.20" y="191.86" width="21.00" height="25.56" fill="#7c7ca0" stroke="none" stroke-width="0" />
<rect x="510.20" y="191.86" width="7.00" height="25.56" fill="#7c80a0" stroke="none" stroke-width="0" />
<rect x="517.20" y="191.86" width="7.00" height="25.56" fill="#7c90b0" stroke="none" stroke-width="0" />
<rect x="524.20" y="191.86" width="14.00" height="25.56" fill="#84a4d0" stroke="none" stroke-width="0" />
<rect x="538.20" y="191.86" width="14.00" height="25.56" fill="#7c9cc0" stroke="none" stroke-width="0" />
<rect x="552.20" y="191.86" width="21.00" height="25.56" fill="#7c8cac" stroke="none" stroke-width="0" />
<rect x="573.20" y="191.86" width="7.00" height="25.56" fill="#84a0cc" stroke="none" stroke-width="0" />
<rect x="643.20" y="191.86" width="7.00" height="25.56" fill="#f6f6fc" stroke="none" stroke-width="0" />
<rect x="755.20" y="191.86" width="7.00" height="25.56" fill="#f6f6fa" stroke="none" stroke-width="0" />
<rect x="916.20" y="191.86" width="7.00" height="25.56" fill="#f2f2f2" stroke="none" stroke-width="0" />
<rect x="335.20" y="217.42" width="7.00" height="25.56" fill="#d8d8c4" stroke="none" stroke-width="0" />
<rect x="356.20" y="217.42" width="14.00" height="25.56" fill="#d4d0a8" stroke="none" stroke-width="0" />
<rect x="370.20" y="217.42" width="7.00" height="25.56" fill="#e8d4d8" stroke="none" stroke-width="0" />
<rect x="377.20" y="217.42" width="28.00" height="25.56" fill="#b47c88" stroke="none" stroke-width="0" />
<rect x="405.20" y="217.42" width="7.00" height="25.56" fill="#dcc8d0" stroke="none" stroke-width="0" />
<rect x="412.20" y="217.42" width="7.00" height="25.56" fill="#c8b8d4" stroke="none" stroke-width="0" />
<rect x="419.20" y="217.42" width="7.00" height="25.56" fill="#dcccd4" stroke="none" stroke-width="0" />
<rect x="426.20" y="217.42" width="7.00" height="25.56" fill="#e0d4d8" stroke="none" stroke-width="0" />
<rect x="433.20" y="217.42" width="7.00" height="25.56" fill="#d8d4dc" stroke="none" stroke-width="0" />
<rect x="440.20" y="217.42" width="14.00" height="25.56" fill="#ccccf4" stroke="none" stroke-width="0" />
<rect x="454.20" y="217.42" width="7.00" height="25.56" fill="#c8c4f0" stroke="none" stroke-width="0" />
<rect x="461.20" y="217.42" width="7.00" height="25.56" fill="#b0b8e8" stroke="none" stroke-width="0" />
<rect x="468.20" y="217.42" width="7.00" height="25.56" fill="#a0b0e4" stroke="none" stroke-width="0" />
<rect x="475.20" y="217.42" width="7.00" height="25.56" fill="#88a4d4" stroke="none" stroke-width="0" />
<rect x="482.20" y="217.42" width="14.00" height="25.56" fill="#7c9cc0" stroke="none" stroke-width="0" />
<rect x="496.20" y="217.42" width="14.00" height="25.56" fill="#7a8eb0" stroke="none" stroke-width="0" />
<rect x="510.20" y="217.42" width="21.00" height="25.56" fill="#7c7ca0" stroke="none" stroke-width="0" />
<rect x="531.20" y="217.42" width="14.00" height="25.56" fill="#7c84a8" stroke="none" stroke-width="0" />
<rect x="545.20" y="217.42" width="7.00" height="25.56" fill="#7890b0" stroke="none" stroke-width="0" />
<rect x="552.20" y="217.42" width="7.00" height="25.56" fill="#7e96b6" stroke="none" stroke-width="0" />
<rect x="559.20" y="217.42" width="7.00" height="25.56" fill="#7890b0" stroke="none" stroke-width="0" />
<rect x="566.20" y="217.42" width="7.00" height="25.56" fill="#7b93b3" stroke="none" stroke-width="0" />
<rect x="573.20" y="217.42" width="7.00" height="25.56" fill="#7890b0" stroke="none" stroke-width="0" />
<rect x="580.20" y="217.42" width="7.00" height="25.56" fill="#8098b8" stroke="none" stroke-width="0" />
<rect x="587.20" y="217.42" width="21.00" height="25.56" fill="#809cc4" stroke="none" stroke-width="0" />
<rect x="608.20" y="217.42" width="14.00" height="25.56" fill="#84a4d0" stroke="none" stroke-width="0" />
<rect x="622.20" y="217.42" width="7.00" height="25.56" fill="#829eca" stroke="none" stroke-width="0" />
<rect x="629.20" y="217.42" width="7.00" height="25.56" fill="#84a0cc" stroke="none" stroke-width="0" />
<rect x="636.20" y="217.42" width="7.00" height="25.56" fill="#86a2ce" stroke="none" stroke-width="0" />
<rect x="643.20" y="217.42" width="7.00" height="25.56" fill="#829eca" stroke="none" stroke-width="0" />
<rect x="650.20" y="217.42" width="7.00" height="25.56" fill="#88a4d0" stroke="none" stroke-width="0" />
<rect x="657.20" y="217.42" width="7.00" height="25.56" fill="#819dc9" stroke="none" stroke-width="0" />
<rect x="664.20" y="217.42" width="7.00" height="25.56" fill="#84a0cc" stroke="none" stroke-width="0" />
<rect x="671.20" y="217.42" width="7.00" height="25.56" fill="#88a4d0" stroke="none" stroke-width="0" />
<rect x="678.20" y="217.42" width="7.00" height="25.56" fill="#829eca" stroke="none" stroke-width="0" />
<rect x="685.20" y="217.42" width="7.00" height="25.56" fill="#819dc9" stroke="none" stroke-width="0" />
<rect x="692.20" y="217.42" width="7.00" height="25.56" fill="#839fcb" stroke="none" stroke-width="0" />
<rect x="699.20" y="217.42" width="7.00" height="25.56" fill="#85a1cd" stroke="none" stroke-width="0" />
<rect x="706.20" y="217.42" width="7.00" height="25.56" fill="#819dc9" stroke="none" stroke-width="0" />
<rect x="713.20" y="217.42" width="7.00" height="25.56" fill="#88a4d0" stroke="none" stroke-width="0" />
<rect x="720.20" y="217.42" width="7.00" height="25.56" fill="#819dc9" stroke="none" stroke-width="0" />
<rect x="727.20" y="217.42" width="7.00" height="25.56" fill="#809cc8" stroke="none" stroke-width="0" />
<rect x="734.20" y="217.42" width="7.00" height="25.56" fill="#87a3cf" stroke="none" stroke-width="0" />
<rect x="741.20" y="217.42" width="7.00" height="25.56" fill="#8ba7d3" stroke="none" stroke-width="0" />
<rect x="748.20" y="217.42" width="7.00" height="25.56" fill="#8ca8d4" stroke="none" stroke-width="0" />
<rect x="755.20" y="217.42" width="7.00" height="25.56" fill="#8aa6d2" stroke="none" stroke-width="0" />
<rect x="762.20" y="217.42" width="7.00" height="25.56" fill="#89a5d1" stroke="none" stroke-width="0" />
<rect x="769.20" y="217.42" width="14.00" height="25.56" fill="#8ba7d3" stroke="none" stroke-width="0" />
<rect x="783.20" y="217.42" width="7.00" height="25.56" fill="#89a5d1" stroke="none" stroke-width="0" />
<rect x="790.20" y="217.42" width="7.00" height="25.56" fill="#88a4d0" stroke="none" stroke-width="0" />
<rect x="797.20" y="217.42" width="7.00" height="25.56" fill="#87a3cf" stroke="none" stroke-width="0" />
<rect x="804.20" y="217.42" width="7.00" height="25.56" fill="#8ea6d6" stroke="none" stroke-width="0" />
<rect x="811.20" y="217.42" width="7.00" height="25.56" fill="#8fa7d7" stroke="none" stroke-width="0" />
<rect x="818.20" y="217.42" width="7.00" height="25.56" fill="#8da5d5" stroke="none" stroke-width="0" />
<rect x="825.20" y="217.42" width="7.00" height="25.56" fill="#90a8d8" stroke="none" stroke-width="0" />
<rect x="832.20" y="217.42" width="7.00" height="25.56" fill="#94acdc" stroke="none" stroke-width="0" />
<rect x="839.20" y="217.42" width="7.00" height="25.56" fill="#93abdb" stroke="none" stroke-width="0" />
<rect x="846.20" y="217.42" width="7.00" height="25.56" fill="#8da9d5" stroke="none" stroke-width="0" />
<rect x="853.20" y="217.42" width="7.00" height="25.56" fill="#8fabd7" stroke="none" stroke-width="0" />
<rect x="860.20" y="217.42" width="7.00" height="25.56" fill="#8ca8d4" stroke="none" stroke-width="0" />
<rect x="867.20" y="217.42" width="14.00" height="25.56" fill="#89a5d1" stroke="none" stroke-width="0" />
<rect x="881.20" y="217.42" width="7.00" height="25.56" fill="#98acdc" stroke="none" stroke-width="0" />
<rect x="888.20" y="217.42" width="7.00" height="25.56" fill="#a0b0e4" stroke="none" stroke-width="0" />
<rect x="895.20" y="217.42" width="28.00" height="25.56" fill="#98acdc" stroke="none" stroke-width="0" />
<rect x="923.20" y="217.42" width="7.00" height="25.56" fill="#a0b0e4" stroke="none" stroke-width="0" />
<rect x="930.20" y="217.42" width="7.00" height="25.56" fill="#98b0e0" stroke="none" stroke-width="0" />
<rect x="937.20" y="217.42" width="7.00" height="25.56" fill="#96aede" stroke="none" stroke-width="0" />
<rect x="944.20" y="217.42" width="7.00" height="25.56" fill="#92aada" stroke="none" stroke-width="0" />
<rect x="951.20" y="217.42" width="7.00" height="25.56" fill="#95addd" stroke="none" stroke-width="0" />
<rect x="958.20" y="217.42" width="7.00" height="25.56" fill="#92aada" stroke="none" stroke-width="0" />
<rect x="965.20" y="217.42" width="7.00" height="25.56" fill="#97afdf" stroke="none" stroke-width="0" />
<rect x="972.20" y="217.42" width="7.00" height="25.56" fill="#96aede" stroke="none" stroke-width="0" />
<rect x="979.20" y="217.42" width="7.00" height="25.56" fill="#90a8d8" stroke="none" stroke-width="0" />
<rect x="986.20" y="217.42" width="7.00" height="25.56" fill="#91a9d9" stroke="none" stroke-width="0" />
<rect x="993.20" y="217.42" width="7.00" height="25.56" fill="#98b0e0" stroke="none" stroke-width="0" />
<rect x="1000.20" y="217.42" width="7.00" height="25.56" fill="#95addd" stroke="none" stroke-width="0" />
<rect x="1007.20" y="217.42" width="7.00" height="25.56" fill="#b0b8ec" stroke="none" stroke-width="0" />
<rect x="342.20" y="242.98" width="7.00" height="25.56" fill="#f4f4f4" stroke="none" stroke-width="0" />
<rect x="356.20" y="242.98" width="14.00" height="25.56" fill="#f4f4f4" stroke="none" stroke-width="0" />
<rect x="370.20" y="242.98" width="7.00" height="25.56" fill="#e0e0d4" stroke="none" stroke-width="0" />
<rect x="377.20" y="242.98" width="7.00" height="25.56" fill="#d4d4b0" stroke="none" stroke-width="0" />
<rect x="384.20" y="242.98" width="7.00" height="25.56" fill="#d0cca4" stroke="none" stroke-width="0" />
<rect x="391.20" y="242.98" width="7.00" height="25.56" fill="#ccbc9c" stroke="none" stroke-width="0" />
<rect x="398.20" y="242.98" width="7.00" height="25.56" fill="#c8a098" stroke="none" stroke-width="0" />
<rect x="405.20" y="242.98" width="7.00" height="25.56" fill="#b07880" stroke="none" stroke-width="0" />
<rect x="412.20" y="242.98" width="21.00" height="25.56" fill="#9c6870" stroke="none" stroke-width="0" />
<rect x="433.20" y="242.98" width="7.00" height="25.56" fill="#ac747c" stroke="none" stroke-width="0" />
<rect x="440.20" y="242.98" width="7.00" height="25.56" fill="#c89894" stroke="none" stroke-width="0" />
<rect x="447.20" y="242.98" width="7.00" height="25.56" fill="#e4e0d8" stroke="none" stroke-width="0" />
<rect x="454.20" y="242.98" width="7.00" height="25.56" fill="#ecece4" stroke="none" stroke-width="0" />
<rect x="461.20" y="242.98" width="7.00" height="25.56" fill="#e8e8f8" stroke="none" stroke-width="0" />
<rect x="468.20" y="242.98" width="7.00" height="25.56" fill="#f0f0fa" stroke="none" stroke-width="0" />
<rect x="475.20" y="242.98" width="7.00" height="25.56" fill="#d8d8f4" stroke="none" stroke-width="0" />
<rect x="482.20" y="242.98" width="7.00" height="25.56" fill="#ccccf0" stroke="none" stroke-width="0" />
<rect x="489.20" y="242.98" width="14.00" height="25.56" fill="#b4b8e8" stroke="none" stroke-width="0" />
<rect x="503.20" y="242.98" width="14.00" height="25.56" fill="#84a4d0" stroke="none" stroke-width="0" />
<rect x="517.20" y="242.98" width="14.00" height="25.56" fill="#7c9cc0" stroke="none" stroke-width="0" />
<rect x="531.20" y="242.98" width="14.00" height="25.56" fill="#7c90b0" stroke="none" stroke-width="0" />
<rect x="545.20" y="242.98" width="14.00" height="25.56" fill="#788eb2" stroke="none" stroke-width="0" />
<rect x="559.20" y="242.98" width="28.00" height="25.56" fill="#7c94b8" stroke="none" stroke-width="0" />
<rect x="587.20" y="242.98" width="14.00" height="25.56" fill="#7d99bd" stroke="none" stroke-width="0" />
<rect x="601.20" y="242.98" width="14.00" height="25.56" fill="#7f9bbf" stroke="none" stroke-width="0" />
<rect x="615.20" y="242.98" width="7.00" height="25.56" fill="#7995b9" stroke="none" stroke-width="0" />
<rect x="622.20" y="242.98" width="28.00" height="25.56" fill="#7c90b4" stroke="none" stroke-width="0" />
<rect x="650.20" y="242.98" width="21.00" height="25.56" fill="#7a90b2" stroke="none" stroke-width="0" />
<rect x="671.20" y="242.98" width="7.00" height="25.56" fill="#798dad" stroke="none" stroke-width="0" />
<rect x="678.20" y="242.98" width="7.00" height="25.56" fill="#7c90b0" stroke="none" stroke-width="0" />
<rect x="685.20" y="242.98" width="7.00" height="25.56" fill="#7f93b3" stroke="none" stroke-width="0" />
<rect x="692.20" y="242.98" width="7.00" height="25.56" fill="#798dad" stroke="none" stroke-width="0" />
<rect x="699.20" y="242.98" width="7.00" height="25.56" fill="#788cac" stroke="none" stroke-width="0" />
<rect x="706.20" y="242.98" width="7.00" height="25.56" fill="#7c90b0" stroke="none" stroke-width="0" />
<rect x="713.20" y="242.98" width="7.00" height="25.56" fill="#7f93b3" stroke="none" stroke-width="0" />
<rect x="720.20" y="242.98" width="7.00" height="25.56" fill="#7c90b0" stroke="none" stroke-width="0" />
<rect x="727.20" y="242.98" width="7.00" height="25.56" fill="#7e92b2" stroke="none" stroke-width="0" />
<rect x="734.20" y="242.98" width="7.00" height="25.56" fill="#7d8db1" stroke="none" stroke-width="0" />
<rect x="741.20" y="242.98" width="7.00" height="25.56" fill="#7888ac" stroke="none" stroke-width="0" />
<rect x="748.20" y="242.98" width="7.00" height="25.56" fill="#7f8fb3" stroke="none" stroke-width="0" />
<rect x="755.20" y="242.98" width="7.00" height="25.56" fill="#7d8db1" stroke="none" stroke-width="0" />
<rect x="762.20" y="242.98" width="7.00" height="25.56" fill="#7a8aae" stroke="none" stroke-width="0" />
<rect x="769.20" y="242.98" width="7.00" height="25.56" fill="#7991b1" stroke="none" stroke-width="0" />
<rect x="776.20" y="242.98" width="7.00" height="25.56" fill="#7f97b7" stroke="none" stroke-width="0" />
<rect x="783.20" y="242.98" width="7.00" height="25.56" fill="#7890b0" stroke="none" stroke-width="0" />
<rect x="790.20" y="242.98" width="7.00" height="25.56" fill="#7b93b3" stroke="none" stroke-width="0" />
<rect x="797.20" y="242.98" width="7.00" height="25.56" fill="#7c94b4" stroke="none" stroke-width="0" />
<rect x="804.20" y="242.98" width="7.00" height="25.56" fill="#7a92b2" stroke="none" stroke-width="0" />
<rect x="811.20" y="242.98" width="7.00" height="25.56" fill="#7b93b3" stroke="none" stroke-width="0" />
<rect x="818.20" y="242.98" width="14.00" height="25.56" fill="#7e96b6" stroke="none" stroke-width="0" />
<rect x="832.20" y="242.98" width="7.00" height="25.56" fill="#7f97b7" stroke="none" stroke-width="0" />
<rect x="839.20" y="242.98" width="7.00" height="25.56" fill="#7991b1" stroke="none" stroke-width="0" />
<rect x="846.20" y="242.98" width="7.00" height="25.56" fill="#7a9abe" stroke="none" stroke-width="0" />
<rect x="853.20" y="242.98" width="7.00" height="25.56" fill="#7f9fc3" stroke="none" stroke-width="0" />
<rect x="860.20" y="242.98" width="7.00" height="25.56" fill="#7e9ec2" stroke="none" stroke-width="0" />
<rect x="867.20" y="242.98" width="7.00" height="25.56" fill="#80a0c4" stroke="none" stroke-width="0" />
<rect x="874.20" y="242.98" width="7.00" height="25.56" fill="#7c9cc0" stroke="none" stroke-width="0" />
<rect x="881.20" y="242.98" width="7.00" height="25.56" fill="#7a9abe" stroke="none" stroke-width="0" />
<rect x="888.20" y="242.98" width="7.00" height="25.56" fill="#7e9ec2" stroke="none" stroke-width="0" />
<rect x="895.20" y="242.98" width="7.00" height="25.56" fill="#80a0c4" stroke="none" stroke-width="0" />
<rect x="902.20" y="242.98" width="7.00" height="25.56" fill="#7c9cc0" stroke="none" stroke-width="0" />
<rect x="909.20" y="242.98" width="7.00" height="25.56" fill="#7e9ec2" stroke="none" stroke-width="0" />
<rect x="916.20" y="242.98" width="7.00" height="25.56" fill="#7d9dc1" stroke="none" stroke-width="0" />
<rect x="923.20" y="242.98" width="7.00" height="25.56" fill="#7e9ec2" stroke="none" stroke-width="0" />
<rect x="930.20" y="242.98" width="7.00" height="25.56" fill="#7b9bbf" stroke="none" stroke-width="0" />
<rect x="937.20" y="242.98" width="7.00" height="25.56" fill="#7a9abe" stroke="none" stroke-width="0" />
<rect x="944.20" y="242.98" width="7.00" height="25.56" fill="#7999bd" stroke="none" stroke-width="0" />
<rect x="951.20" y="242.98" width="14.00" height="25.56" fill="#7a9abe" stroke="none" stroke-width="0" />
<rect x="965.20" y="242.98" width="14.00" height="25.56" fill="#7b9bbf" stroke="none" stroke-width="0" />
<rect x="979.20" y="242.98" width="7.00" height="25.56" fill="#7898bc" stroke="none" stroke-width="0" />
<rect x="986.20" y="242.98" width="7.00" height="25.56" fill="#7f9fc3" stroke="none" stroke-width="0" />
<rect x="993.20" y="242.98" width="7.00" height="25.56" fill="#7a9abe" stroke="none" stroke-width="0" />
<rect x="1000.20" y="242.98" width="14.00" height="25.56" fill="#7c9cc0" stroke="none" stroke-width="0" />
<rect x="314.20" y="268.54" width="7.00" height="25.56" fill="#f2f2f2" stroke="none" stroke-width="0" />
<rect x="342.20" y="268.54" width="7.00" height="25.56" fill="#f2f2f2" stroke="none" stroke-width="0" />
<rect x="356.20" y="268.54" width="7.00" height="25.56" fill="#dcdcc8" stroke="none" stroke-width="0" />
<rect x="363.20" y="268.54" width="7.00" height="25.56" fill="#e0e0d8" stroke="none" stroke-width="0" />
<rect x="370.20" y="268.54" width="7.00" height="25.56" fill="#ccb898" stroke="none" stroke-width="0" />
<rect x="377.20" y="268.54" width="7.00" height="25.56" fill="#c8b09c" stroke="none" stroke-width="0" />
<rect x="384.20" y="268.54" width="7.00" height="25.56" fill="#c49498" stroke="none" stroke-width="0" />
<rect x="391.20" y="268.54" width="14.00" height="25.56" fill="#b07c88" stroke="none" stroke-width="0" />
<rect x="405.20" y="268.54" width="7.00" height="25.56" fill="#c08c94" stroke="none" stroke-width="0" />
<rect x="412.20" y="268.54" width="7.00" height="25.56" fill="#c8a898" stroke="none" stroke-width="0" />
<rect x="419.20" y="268.54" width="7.00" height="25.56" fill="#c49094" stroke="none" stroke-width="0" />
<rect x="426.20" y="268.54" width="14.00" height="25.56" fill="#b47c88" stroke="none" stroke-width="0" />
<rect x="440.20" y="268.54" width="7.00" height="25.56" fill="#e4d4dc" stroke="none" stroke-width="0" />
<rect x="447.20" y="268.54" width="7.00" height="25.56" fill="#ccb89c" stroke="none" stroke-width="0" />
<rect x="454.20" y="268.54" width="7.00" height="25.56" fill="#d4d0a8" stroke="none" stroke-width="0" />
<rect x="461.20" y="268.54" width="7.00" height="25.56" fill="#d8ccdc" stroke="none" stroke-width="0" />
<rect x="468.20" y="268.54" width="7.00" height="25.56" fill="#c09094" stroke="none" stroke-width="0" />
<rect x="475.20" y="268.54" width="7.00" height="25.56" fill="#c49c98" stroke="none" stroke-width="0" />
<rect x="482.20" y="268.54" width="7.00" height="25.56" fill="#d0c4d8" stroke="none" stroke-width="0" />
<rect x="489.20" y="268.54" width="7.00" height="25.56" fill="#e4dcd8" stroke="none" stroke-width="0" />
<rect x="496.20" y="268.54" width="7.00" height="25.56" fill="#e8e8e4" stroke="none" stroke-width="0" />
<rect x="503.20" y="268.54" width="7.00" height="25.56" fill="#e8e8f8" stroke="none" stroke-width="0" />
<rect x="510.20" y="268.54" width="14.00" height="25.56" fill="#d4d4f4" stroke="none" stroke-width="0" />
<rect x="524.20" y="268.54" width="7.00" height="25.56" fill="#b0b8e8" stroke="none" stroke-width="0" />
<rect x="531.20" y="268.54" width="7.00" height="25.56" fill="#a4b4e4" stroke="none" stroke-width="0" />
<rect x="538.20" y="268.54" width="7.00" height="25.56" fill="#90a8d8" stroke="none" stroke-width="0" />
<rect x="545.20" y="268.54" width="14.00" height="25.56" fill="#84a4d0" stroke="none" stroke-width="0" />
<rect x="559.20" y="268.54" width="7.00" height="25.56" fill="#7c9cc0" stroke="none" stroke-width="0" />
<rect x="566.20" y="268.54" width="7.00" height="25.56" fill="#7c90b4" stroke="none" stroke-width="0" />
<rect x="573.20" y="268.54" width="7.00" height="25.56" fill="#768aac" stroke="none" stroke-width="0" />
<rect x="580.20" y="268.54" width="7.00" height="25.56" fill="#788cae" stroke="none" stroke-width="0" />
<rect x="587.20" y="268.54" width="7.00" height="25.56" fill="#7c90b2" stroke="none" stroke-width="0" />
<rect x="594.20" y="268.54" width="7.00" height="25.56" fill="#7e92b4" stroke="none" stroke-width="0" />
<rect x="601.20" y="268.54" width="14.00" height="25.56" fill="#7b8fb1" stroke="none" stroke-width="0" />
<rect x="615.20" y="268.54" width="7.00" height="25.56" fill="#788cae" stroke="none" stroke-width="0" />
<rect x="622.20" y="268.54" width="7.00" height="25.56" fill="#8094b4" stroke="none" stroke-width="0" />
<rect x="629.20" y="268.54" width="7.00" height="25.56" fill="#788cac" stroke="none" stroke-width="0" />
<rect x="636.20" y="268.54" width="7.00" height="25.56" fill="#7f93b3" stroke="none" stroke-width="0" />
<rect x="643.20" y="268.54" width="7.00" height="25.56" fill="#8094b4" stroke="none" stroke-width="0" />
<rect x="650.20" y="268.54" width="7.00" height="25.56" fill="#7e92b2" stroke="none" stroke-width="0" />
<rect x="657.20" y="268.54" width="7.00" height="25.56" fill="#7c9cc0" stroke="none" stroke-width="0" />
<rect x="664.20" y="268.54" width="28.00" height="25.56" fill="#7c94b4" stroke="none" stroke-width="0" />
<rect x="692.20" y="268.54" width="21.00" height="25.56" fill="#7e9aba" stroke="none" stroke-width="0" />
<rect x="713.20" y="268.54" width="7.00" height="25.56" fill="#7995b5" stroke="none" stroke-width="0" />
<rect x="720.20" y="268.54" width="7.00" height="25.56" fill="#7f9bbb" stroke="none" stroke-width="0" />
<rect x="727.20" y="268.54" width="7.00" height="25.56" fill="#7e9aba" stroke="none" stroke-width="0" />
<rect x="734.20" y="268.54" width="7.00" height="25.56" fill="#7a96ba" stroke="none" stroke-width="0" />
<rect x="741.20" y="268.54" width="7.00" height="25.56" fill="#7d99bd" stroke="none" stroke-width="0" />
<rect x="748.20" y="268.54" width="7.00" height="25.56" fill="#7b97bb" stroke="none" stroke-width="0" />
<rect x="755.20" y="268.54" width="7.00" height="25.56" fill="#7d99bd" stroke="none" stroke-width="0" />
<rect x="762.20" y="268.54" width="7.00" height="25.56" fill="#819dc1" stroke="none" stroke-width="0" />
<rect x="769.20" y="268.54" width="7.00" height="25.56" fill="#7c98bc" stroke="none" stroke-width="0" />
<rect x="776.20" y="268.54" width="7.00" height="25.56" fill="#7b97bb" stroke="none" stroke-width="0" />
<rect x="783.20" y="268.54" width="7.00" height="25.56" fill="#7f9bbf" stroke="none" stroke-width="0" />
<rect x="790.20" y="268.54" width="7.00" height="25.56" fill="#7a96ba" stroke="none" stroke-width="0" />
<rect x="797.20" y="268.54" width="7.00" height="25.56" fill="#7b97bb" stroke="none" stroke-width="0" />
<rect x="804.20" y="268.54" width="7.00" height="25.56" fill="#7a96ba" stroke="none" stroke-width="0" />
<rect x="811.20" y="268.54" width="7.00" height="25.56" fill="#7c98bc" stroke="none" stroke-width="0" />
<rect x="818.20" y="268.54" width="7.00" height="25.56" fill="#829ec2" stroke="none" stroke-width="0" />
<rect x="825.20" y="268.54" width="7.00" height="25.56" fill="#7b97bb" stroke="none" stroke-width="0" />
<rect x="832.20" y="268.54" width="7.00" height="25.56" fill="#7f9bbf" stroke="none" stroke-width="0" />
<rect x="839.20" y="268.54" width="7.00" height="25.56" fill="#7a96ba" stroke="none" stroke-width="0" />
<rect x="846.20" y="268.54" width="7.00" height="25.56" fill="#7b97bb" stroke="none" stroke-width="0" />
<rect x="853.20" y="268.54" width="7.00" height="25.56" fill="#7d99bd" stroke="none" stroke-width="0" />
<rect x="860.20" y="268.54" width="7.00" height="25.56" fill="#809cc0" stroke="none" stroke-width="0" />
<rect x="867.20" y="268.54" width="7.00" height="25.56" fill="#7c98bc" stroke="none" stroke-width="0" />
<rect x="874.20" y="268.54" width="7.00" height="25.56" fill="#84a0c8" stroke="none" stroke-width="0" />
<rect x="881.20" y="268.54" width="14.00" height="25.56" fill="#85a1c9" stroke="none" stroke-width="0" />
<rect x="895.20" y="268.54" width="7.00" height="25.56" fill="#87a3cb" stroke="none" stroke-width="0" />
<rect x="902.20" y="268.54" width="14.00" height="25.56" fill="#819dc5" stroke="none" stroke-width="0" />
<rect x="916.20" y="268.54" width="28.00" height="25.56" fill="#87a3cb" stroke="none" stroke-width="0" />
<rect x="944.20" y="268.54" width="7.00" height="25.56" fill="#84a0c8" stroke="none" stroke-width="0" />
<rect x="951.20" y="268.54" width="7.00" height="25.56" fill="#819dc5" stroke="none" stroke-width="0" />
<rect x="958.20" y="268.54" width="7.00" height="25.56" fill="#829ec6" stroke="none" stroke-width="0" />
<rect x="965.20" y="268.54" width="7.00" height="25.56" fill="#819dc5" stroke="none" stroke-width="0" />
<rect x="972.20" y="268.54" width="7.00" height="25.56" fill="#85a1c9" stroke="none" stroke-width="0" />
<rect x="979.20" y="268.54" width="7.00" height="25.56" fill="#84a0c8" stroke="none" stroke-width="0" />
<rect x="986.20" y="268.54" width="7.00" height="25.56" fill="#87a3cb" stroke="none" stroke-width="0" />
<rect x="993.20" y="268.54" width="7.00" height="25.56" fill="#829ec6" stroke="none" stroke-width="0" />
<rect x="1000.20" y="268.54" width="7.00" height="25.56" fill="#88a4cc" stroke="none" stroke-width="0" />
<rect x="1007.20" y="268.54" width="7.00" height="25.56" fill="#809cc4" stroke="none" stroke-width="0" />
<rect x="349.20" y="294.10" width="35.00" height="25.56" fill="#f4f4f4" stroke="none" stroke-width="0" />
<rect x="384.20" y="294.10" width="14.00" height="25.56" fill="#d8d8bc" stroke="none" stroke-width="0" />
<rect x="398.20" y="294.10" width="7.00" height="25.56" fill="#ccb898" stroke="none" stroke-width="0" />
<rect x="405.20" y="294.10" width="7.00" height="25.56" fill="#c8a498" stroke="none" stroke-width="0" />
<rect x="412.20" y="294.10" width="14.00" height="25.56" fill="#b48088" stroke="none" stroke-width="0" />
<rect x="426.20" y="294.10" width="7.00" height="25.56" fill="#c08890" stroke="none" stroke-width="0" />
<rect x="433.20" y="294.10" width="7.00" height="25.56" fill="#e4d4dc" stroke="none" stroke-width="0" />
<rect x="440.20" y="294.10" width="7.00" height="25.56" fill="#c8a098" stroke="none" stroke-width="0" />
<rect x="447.20" y="294.10" width="7.00" height="25.56" fill="#c08c94" stroke="none" stroke-width="0" />
<rect x="454.20" y="294.10" width="14.00" height="25.56" fill="#a47078" stroke="none" stroke-width="0" />
<rect x="468.20" y="294.10" width="7.00" height="25.56" fill="#c8b4d4" stroke="none" stroke-width="0" />
<rect x="475.20" y="294.10" width="7.00" height="25.56" fill="#c8ac9c" stroke="none" stroke-width="0" />
<rect x="482.20" y="294.10" width="7.00" height="25.56" fill="#d0cca4" stroke="none" stroke-width="0" />
<rect x="503.20" y="294.10" width="7.00" height="25.56" fill="#f6f6fc" stroke="none" stroke-width="0" />
<rect x="517.20" y="294.10" width="7.00" height="25.56" fill="#f6f6fc" stroke="none" stroke-width="0" />
<rect x="524.20" y="294.10" width="14.00" height="25.56" fill="#e8e8f8" stroke="none" stroke-width="0" />
<rect x="538.20" y="294.10" width="7.00" height="25.56" fill="#d4d4f4" stroke="none" stroke-width="0" />
<rect x="545.20" y="294.10" width="7.00" height="25.56" fill="#c4c4f0" stroke="none" stroke-width="0" />
<rect x="552.20" y="294.10" width="7.00" height="25.56" fill="#94a8d8" stroke="none" stroke-width="0" />
<rect x="559.20" y="294.10" width="7.00" height="25.56" fill="#a4b4e4" stroke="none" stroke-width="0" />
<rect x="566.20" y="294.10" width="7.00" height="25.56" fill="#94acdc" stroke="none" stroke-width="0" />
<rect x="573.20" y="294.10" width="7.00" height="25.56" fill="#8ca8d4" stroke="none" stroke-width="0" />
<rect x="580.20" y="294.10" width="14.00" height="25.56" fill="#84a4d0" stroke="none" stroke-width="0" />
<rect x="594.20" y="294.10" width="14.00" height="25.56" fill="#7c9cc0" stroke="none" stroke-width="0" />
<rect x="608.20" y="294.10" width="14.00" height="25.56" fill="#7c94b4" stroke="none" stroke-width="0" />
<rect x="622.20" y="294.10" width="7.00" height="25.56" fill="#7b8faf" stroke="none" stroke-width="0" />
<rect x="629.20" y="294.10" width="7.00" height="25.56" fill="#8094b4" stroke="none" stroke-width="0" />
<rect x="636.20" y="294.10" width="7.00" height="25.56" fill="#7d91b1" stroke="none" stroke-width="0" />
<rect x="643.20" y="294.10" width="7.00" height="25.56" fill="#7a8eae" stroke="none" stroke-width="0" />
<rect x="650.20" y="294.10" width="7.00" height="25.56" fill="#8094b4" stroke="none" stroke-width="0" />
<rect x="657.20" y="294.10" width="7.00" height="25.56" fill="#788cac" stroke="none" stroke-width="0" />
<rect x="664.20" y="294.10" width="7.00" height="25.56" fill="#8098bc" stroke="none" stroke-width="0" />
<rect x="671.20" y="294.10" width="7.00" height="25.56" fill="#7c94b8" stroke="none" stroke-width="0" />
<rect x="678.20" y="294.10" width="7.00" height="25.56" fill="#7991b5" stroke="none" stroke-width="0" />
<rect x="685.20" y="294.10" width="7.00" height="25.56" fill="#7c94b8" stroke="none" stroke-width="0" />
<rect x="692.20" y="294.10" width="7.00" height="25.56" fill="#8098bc" stroke="none" stroke-width="0" />
<rect x="699.20" y="294.10" width="7.00" height="25.56" fill="#7d95b9" stroke="none" stroke-width="0" />
<rect x="706.20" y="294.10" width="7.00" height="25.56" fill="#7a92b6" stroke="none" stroke-width="0" />
<rect x="713.20" y="294.10" width="7.00" height="25.56" fill="#7d95b9" stroke="none" stroke-width="0" />
<rect x="720.20" y="294.10" width="7.00" height="25.56" fill="#7b93b7" stroke="none" stroke-width="0" />
<rect x="727.20" y="294.10" width="7.00" height="25.56" fill="#8098bc" stroke="none" stroke-width="0" />
<rect x="734.20" y="294.10" width="14.00" height="25.56" fill="#829ec2" stroke="none" stroke-width="0" />
<rect x="748.20" y="294.10" width="7.00" height="25.56" fill="#7f9bbf" stroke="none" stroke-width="0" />
<rect x="755.20" y="294.10" width="21.00" height="25.56" fill="#7d99bd" stroke="none" stroke-width="0" />
<rect x="776.20" y="294.10" width="7.00" height="25.56" fill="#809cc0" stroke="none" stroke-width="0" />
<rect x="783.20" y="294.10" width="14.00" height="25.56" fill="#7d99bd" stroke="none" stroke-width="0" />
<rect x="797.20" y="294.10" width="7.00" height="25.56" fill="#829ec2" stroke="none" stroke-width="0" />
<rect x="804.20" y="294.10" width="7.00" height="25.56" fill="#819dc1" stroke="none" stroke-width="0" />
<rect x="811.20" y="294.10" width="7.00" height="25.56" fill="#7f9bbf" stroke="none" stroke-width="0" />
<rect x="818.20" y="294.10" width="14.00" height="25.56" fill="#7a96ba" stroke="none" stroke-width="0" />
<rect x="832.20" y="294.10" width="7.00" height="25.56" fill="#7e9abe" stroke="none" stroke-width="0" />
<rect x="839.20" y="294.10" width="7.00" height="25.56" fill="#819dc1" stroke="none" stroke-width="0" />
<rect x="846.20" y="294.10" width="7.00" height="25.56" fill="#7e9abe" stroke="none" stroke-width="0" />
<rect x="853.20" y="294.10" width="7.00" height="25.56" fill="#7d99bd" stroke="none" stroke-width="0" />
<rect x="860.20" y="294.10" width="7.00" height="25.56" fill="#7f9bbf" stroke="none" stroke-width="0" />
<rect x="867.20" y="294.10" width="7.00" height="25.56" fill="#819dc1" stroke="none" stroke-width="0" />
<rect x="874.20" y="294.10" width="14.00" height="25.56" fill="#85a3cb" stroke="none" stroke-width="0" />
<rect x="888.20" y="294.10" width="7.00" height="25.56" fill="#819fc7" stroke="none" stroke-width="0" />
<rect x="895.20" y="294.10" width="7.00" height="25.56" fill="#83a1c9" stroke="none" stroke-width="0" />
<rect x="902.20" y="294.10" width="7.00" height="25.56" fill="#819fc7" stroke="none" stroke-width="0" />
<rect x="909.20" y="294.10" width="7.00" height="25.56" fill="#83a1c9" stroke="none" stroke-width="0" />
<rect x="916.20" y="294.10" width="7.00" height="25.56" fill="#87a5cd" stroke="none" stroke-width="0" />
<rect x="923.20" y="294.10" width="7.00" height="25.56" fill="#83a1c9" stroke="none" stroke-width="0" />
<rect x="930.20" y="294.10" width="7.00" height="25.56" fill="#85a3cb" stroke="none" stroke-width="0" />
<rect x="937.20" y="294.10" width="7.00" height="25.56" fill="#83a1c9" stroke="none" stroke-width="0" />
<rect x="944.20" y="294.10" width="7.00" height="25.56" fill="#87a5cd" stroke="none" stroke-width="0" />
<rect x="951.20" y="294.10" width="7.00" height="25.56" fill="#809ec6" stroke="none" stroke-width="0" />
<rect x="958.20" y="294.10" width="7.00" height="25.56" fill="#87a5cd" stroke="none" stroke-width="0" />
<rect x="965.20" y="294.10" width="7.00" height="25.56" fill="#85a3cb" stroke="none" stroke-width="0" />
<rect x="972.20" y="294.10" width="14.00" height="25.56" fill="#819fc7" stroke="none" stroke-width="0" />
<rect x="986.20" y="294.10" width="7.00" height="25.56" fill="#86a4cc" stroke="none" stroke-width="0" />
<rect x="993.20" y="294.10" width="7.00" height="25.56" fill="#83a1c9" stroke="none" stroke-width="0" />
<rect x="1000.20" y="294.10" width="7.00" height="25.56" fill="#87a5cd" stroke="none" stroke-width="0" />
<rect x="1007.20" y="294.10" width="7.00" height="25.56" fill="#82a0c8" stroke="none" stroke-width="0" />
<rect x="251.20" y="319.66" width="7.00" height="25.56" fill="#f6f6fc" stroke="none" stroke-width="0" />
<rect x="265.20" y="319.66" width="7.00" height="25.56" fill="#f2f2f2" stroke="none" stroke-width="0" />
<rect x="307.20" y="319.66" width="7.00" height="25.56" fill="#f8f8fc" stroke="none" stroke-width="0" />
<rect x="321.20" y="319.66" width="7.00" height="25.56" fill="#f2f2f2" stroke="none" stroke-width="0" />
<rect x="342.20" y="319.66" width="7.00" height="25.56" fill="#f6f6fc" stroke="none" stroke-width="0" />
<rect x="356.20" y="319.66" width="7.00" height="25.56" fill="#f4f4f4" stroke="none" stroke-width="0" />
<rect x="370.20" y="319.66" width="7.00" height="25.56" fill="#e8e8e0" stroke="none" stroke-width="0" />
<rect x="377.20" y="319.66" width="14.00" height="25.56" fill="#ccb89c" stroke="none" stroke-width="0" />
<rect x="391.20" y="319.66" width="7.00" height="25.56" fill="#c8a89c" stroke="none" stroke-width="0" />
<rect x="398.20" y="319.66" width="7.00" height="25.56" fill="#c09098" stroke="none" stroke-width="0" />
<rect x="405.20" y="319.66" width="14.00" height="25.56" fill="#b07884" stroke="none" stroke-width="0" />
<rect x="419.20" y="319.66" width="14.00" height="25.56" fill="#c49894" stroke="none" stroke-width="0" />
<rect x="433.20" y="319.66" width="7.00" height="25.56" fill="#b88088" stroke="none" stroke-width="0" />
<rect x="440.20" y="319.66" width="14.00" height="25.56" fill="#a8747c" stroke="none" stroke-width="0" />
<rect x="454.20" y="319.66" width="7.00" height="25.56" fill="#b07884" stroke="none" stroke-width="0" />
<rect x="461.20" y="319.66" width="7.00" height="25.56" fill="#bc8c94" stroke="none" stroke-width="0" />
<rect x="468.20" y="319.66" width="7.00" height="25.56" fill="#e4dcd8" stroke="none" stroke-width="0" />
<rect x="475.20" y="319.66" width="7.00" height="25.56" fill="#d4d4b0" stroke="none" stroke-width="0" />
<rect x="482.20" y="319.66" width="7.00" height="25.56" fill="#f4f4fa" stroke="none" stroke-width="0" />
<rect x="510.20" y="319.66" width="21.00" height="25.56" fill="#e0e0f6" stroke="none" stroke-width="0" />
<rect x="531.20" y="319.66" width="7.00" height="25.56" fill="#bcc0ec" stroke="none" stroke-width="0" />
<rect x="538.20" y="319.66" width="7.00" height="25.56" fill="#ccccf0" stroke="none" stroke-width="0" />
<rect x="545.20" y="319.66" width="7.00" height="25.56" fill="#acb4e4" stroke="none" stroke-width="0" />
<rect x="552.20" y="319.66" width="7.00" height="25.56" fill="#a0b0e0" stroke="none" stroke-width="0" />
<rect x="559.20" y="319.66" width="7.00" height="25.56" fill="#90a8d8" stroke="none" stroke-width="0" />
<rect x="566.20" y="319.66" width="21.00" height="25.56" fill="#7c9cc0" stroke="none" stroke-width="0" />
<rect x="587.20" y="319.66" width="7.00" height="25.56" fill="#7c92b4" stroke="none" stroke-width="0" />
<rect x="594.20" y="319.66" width="7.00" height="25.56" fill="#7b91b3" stroke="none" stroke-width="0" />
<rect x="601.20" y="319.66" width="7.00" height="25.56" fill="#778daf" stroke="none" stroke-width="0" />
<rect x="608.20" y="319.66" width="7.00" height="25.56" fill="#7c92b4" stroke="none" stroke-width="0" />
<rect x="615.20" y="319.66" width="7.00" height="25.56" fill="#7d93b5" stroke="none" stroke-width="0" />
<rect x="622.20" y="319.66" width="7.00" height="25.56" fill="#7c92b4" stroke="none" stroke-width="0" />
<rect x="629.20" y="319.66" width="7.00" height="25.56" fill="#778daf" stroke="none" stroke-width="0" />
<rect x="636.20" y="319.66" width="7.00" height="25.56" fill="#7c90b0" stroke="none" stroke-width="0" />
<rect x="643.20" y="319.66" width="28.00" height="25.56" fill="#7c98b8" stroke="none" stroke-width="0" />
<rect x="671.20" y="319.66" width="21.00" height="25.56" fill="#7a92b2" stroke="none" stroke-width="0" />
<rect x="692.20" y="319.66" width="7.00" height="25.56" fill="#7890b0" stroke="none" stroke-width="0" />
<rect x="699.20" y="319.66" width="7.00" height="25.56" fill="#7a92b2" stroke="none" stroke-width="0" />
<rect x="706.20" y="319.66" width="28.00" height="25.56" fill="#7c98bc" stroke="none" stroke-width="0" />
<rect x="734.20" y="319.66" width="7.00" height="25.56" fill="#839fc3" stroke="none" stroke-width="0" />
<rect x="741.20" y="319.66" width="7.00" height="25.56" fill="#7e9abe" stroke="none" stroke-width="0" />
<rect x="748.20" y="319.66" width="7.00" height="25.56" fill="#839fc3" stroke="none" stroke-width="0" />
<rect x="755.20" y="319.66" width="7.00" height="25.56" fill="#819dc1" stroke="none" stroke-width="0" />
<rect x="762.20" y="319.66" width="7.00" height="25.56" fill="#7e9abe" stroke="none" stroke-width="0" />
<rect x="769.20" y="319.66" width="14.00" height="25.56" fill="#84a0c4" stroke="none" stroke-width="0" />
<rect x="783.20" y="319.66" width="7.00" height="25.56" fill="#7e9abe" stroke="none" stroke-width="0" />
<rect x="790.20" y="319.66" width="14.00" height="25.56" fill="#7c98bc" stroke="none" stroke-width="0" />
<rect x="804.20" y="319.66" width="7.00" height="25.56" fill="#7d99bd" stroke="none" stroke-width="0" />
<rect x="811.20" y="319.66" width="7.00" height="25.56" fill="#84a0c4" stroke="none" stroke-width="0" />
<rect x="818.20" y="319.66" width="7.00" height="25.56" fill="#7e9abe" stroke="none" stroke-width="0" />
<rect x="825.20" y="319.66" width="7.00" height="25.56" fill="#829ec2" stroke="none" stroke-width="0" />
<rect x="832.20" y="319.66" width="14.00" height="25.56" fill="#7f9bbf" stroke="none" stroke-width="0" />
<rect x="846.20" y="319.66" width="7.00" height="25.56" fill="#7c98bc" stroke="none" stroke-width="0" />
<rect x="853.20" y="319.66" width="7.00" height="25.56" fill="#809cc0" stroke="none" stroke-width="0" />
<rect x="860.20" y="319.66" width="7.00" height="25.56" fill="#7f9bbf" stroke="none" stroke-width="0" />
<rect x="867.20" y="319.66" width="7.00" height="25.56" fill="#809cc0" stroke="none" stroke-width="0" />
<rect x="874.20" y="319.66" width="7.00" height="25.56" fill="#8aa6ce" stroke="none" stroke-width="0" />
<rect x="881.20" y="319.66" width="7.00" height="25.56" fill="#85a1c9" stroke="none" stroke-width="0" />
<rect x="888.20" y="319.66" width="7.00" height="25.56" fill="#87a3cb" stroke="none" stroke-width="0" />
<rect x="895.20" y="319.66" width="7.00" height="25.56" fill="#86a2ca" stroke="none" stroke-width="0" />
<rect x="902.20" y="319.66" width="7.00" height="25.56" fill="#8aa6ce" stroke="none" stroke-width="0" />
<rect x="909.20" y="319.66" width="7.00" height="25.56" fill="#88a4cc" stroke="none" stroke-width="0" />
<rect x="916.20" y="319.66" width="7.00" height="25.56" fill="#84a0c8" stroke="none" stroke-width="0" />
<rect x="923.20" y="319.66" width="7.00" height="25.56" fill="#829ec6" stroke="none" stroke-width="0" />
<rect x="930.20" y="319.66" width="7.00" height="25.56" fill="#87a3cb" stroke="none" stroke-width="0" />
<rect x="937.20" y="319.66" width="7.00" height="25.56" fill="#89a5cd" stroke="none" stroke-width="0" />
<rect x="944.20" y="319.66" width="7.00" height="25.56" fill="#8aa6ce" stroke="none" stroke-width="0" />
<rect x="951.20" y="319.66" width="7.00" height="25.56" fill="#88a4cc" stroke="none" stroke-width="0" />
<rect x="958.20" y="319.66" width="7.00" height="25.56" fill="#8aa6ce" stroke="none" stroke-width="0" />
<rect x="965.20" y="319.66" width="7.00" height="25.56" fill="#84a0c8" stroke="none" stroke-width="0" />
<rect x="972.20" y="319.66" width="7.00" height="25.56" fill="#8aa6ce" stroke="none" stroke-width="0" />
<rect x="979.20" y="319.66" width="7.00" height="25.56" fill="#84a0c8" stroke="none" stroke-width="0" />
<rect x="986.20" y="319.66" width="14.00" height="25.56" fill="#8aa6ce" stroke="none" stroke-width="0" />
<rect x="1000.20" y="319.66" width="7.00" height="25.56" fill="#829ec6" stroke="none" stroke-width="0" />
<rect x="1007.20" y="319.66" width="7.00" height="25.56" fill="#89a5cd" stroke="none" stroke-width="0" />
<rect x="328.20" y="345.22" width="7.00" height="25.56" fill="#f4f4f4" stroke="none" stroke-width="0" />
<rect x="349.20" y="345.22" width="7.00" height="25.56" fill="#f2f2f2" stroke="none" stroke-width="0" />
<rect x="363.20" y="345.22" width="14.00" height="25.56" fill="#dcdcc8" stroke="none" stroke-width="0" />
<rect x="377.20" y="345.22" width="7.00" height="25.56" fill="#d8d8b8" stroke="none" stroke-width="0" />
<rect x="384.20" y="345.22" width="7.00" height="25.56" fill="#d0cca4" stroke="none" stroke-width="0" />
<rect x="391.20" y="345.22" width="7.00" height="25.56" fill="#ccb89c" stroke="none" stroke-width="0" />
<rect x="398.20" y="345.22" width="7.00" height="25.56" fill="#c4a098" stroke="none" stroke-width="0" />
<rect x="405.20" y="345.22" width="7.00" height="25.56" fill="#b88088" stroke="none" stroke-width="0" />
<rect x="412.20" y="345.22" width="14.00" height="25.56" fill="#a8707c" stroke="none" stroke-width="0" />
<rect x="426.20" y="345.22" width="7.00" height="25.56" fill="#b47c88" stroke="none" stroke-width="0" />
<rect x="433.20" y="345.22" width="7.00" height="25.56" fill="#b07884" stroke="none" stroke-width="0" />
<rect x="440.20" y="345.22" width="7.00" height="25.56" fill="#a06c74" stroke="none" stroke-width="0" />
<rect x="447.20" y="345.22" width="7.00" height="25.56" fill="#b47c88" stroke="none" stroke-width="0" />
<rect x="454.20" y="345.22" width="7.00" height="25.56" fill="#c8ac9c" stroke="none" stroke-width="0" />
<rect x="461.20" y="345.22" width="7.00" height="25.56" fill="#d0c8a0" stroke="none" stroke-width="0" />
<rect x="468.20" y="345.22" width="14.00" height="25.56" fill="#e8e8f8" stroke="none" stroke-width="0" />
<rect x="503.20" y="345.22" width="7.00" height="25.56" fill="#f8f8fc" stroke="none" stroke-width="0" />
<rect x="517.20" y="345.22" width="7.00" height="25.56" fill="#e4e4f6" stroke="none" stroke-width="0" />
<rect x="524.20" y="345.22" width="7.00" height="25.56" fill="#f8f8fc" stroke="none" stroke-width="0" />
<rect x="531.20" y="345.22" width="7.00" height="25.56" fill="#dcdcf4" stroke="none" stroke-width="0" />
<rect x="545.20" y="345.22" width="21.00" height="25.56" fill="#ccccf0" stroke="none" stroke-width="0" />
<rect x="566.20" y="345.22" width="7.00" height="25.56" fill="#a0b0e0" stroke="none" stroke-width="0" />
<rect x="573.20" y="345.22" width="7.00" height="25.56" fill="#b0b8e8" stroke="none" stroke-width="0" />
<rect x="580.20" y="345.22" width="14.00" height="25.56" fill="#a0b0e4" stroke="none" stroke-width="0" />
<rect x="594.20" y="345.22" width="21.00" height="25.56" fill="#84a4d0" stroke="none" stroke-width="0" />
<rect x="615.20" y="345.22" width="7.00" height="25.56" fill="#7a96ba" stroke="none" stroke-width="0" />
<rect x="622.20" y="345.22" width="7.00" height="25.56" fill="#7894b8" stroke="none" stroke-width="0" />
<rect x="629.20" y="345.22" width="21.00" height="25.56" fill="#7a96ba" stroke="none" stroke-width="0" />
<rect x="650.20" y="345.22" width="7.00" height="25.56" fill="#7f9fc3" stroke="none" stroke-width="0" />
<rect x="657.20" y="345.22" width="7.00" height="25.56" fill="#7999bd" stroke="none" stroke-width="0" />
<rect x="664.20" y="345.22" width="7.00" height="25.56" fill="#80a0c4" stroke="none" stroke-width="0" />
<rect x="671.20" y="345.22" width="7.00" height="25.56" fill="#7898bc" stroke="none" stroke-width="0" />
<rect x="678.20" y="345.22" width="7.00" height="25.56" fill="#7d9dc1" stroke="none" stroke-width="0" />
<rect x="685.20" y="345.22" width="14.00" height="25.56" fill="#84a0cc" stroke="none" stroke-width="0" />
<rect x="699.20" y="345.22" width="21.00" height="25.56" fill="#80a0c8" stroke="none" stroke-width="0" />
<rect x="720.20" y="345.22" width="7.00" height="25.56" fill="#7f9fc7" stroke="none" stroke-width="0" />
<rect x="727.20" y="345.22" width="7.00" height="25.56" fill="#7999c1" stroke="none" stroke-width="0" />
<rect x="734.20" y="345.22" width="7.00" height="25.56" fill="#84a2c8" stroke="none" stroke-width="0" />
<rect x="741.20" y="345.22" width="7.00" height="25.56" fill="#7c9ac0" stroke="none" stroke-width="0" />
<rect x="748.20" y="345.22" width="14.00" height="25.56" fill="#7f9dc3" stroke="none" stroke-width="0" />
<rect x="762.20" y="345.22" width="7.00" height="25.56" fill="#809ec4" stroke="none" stroke-width="0" />
<rect x="769.20" y="345.22" width="7.00" height="25.56" fill="#7c9ac0" stroke="none" stroke-width="0" />
<rect x="776.20" y="345.22" width="7.00" height="25.56" fill="#7d9bc1" stroke="none" stroke-width="0" />
<rect x="783.20" y="345.22" width="7.00" height="25.56" fill="#84a2c8" stroke="none" stroke-width="0" />
<rect x="790.20" y="345.22" width="7.00" height="25.56" fill="#83a1c7" stroke="none" stroke-width="0" />
<rect x="797.20" y="345.22" width="7.00" height="25.56" fill="#84a2c8" stroke="none" stroke-width="0" />
<rect x="804.20" y="345.22" width="7.00" height="25.56" fill="#7c9ac0" stroke="none" stroke-width="0" />
<rect x="811.20" y="345.22" width="7.00" height="25.56" fill="#7d9bc1" stroke="none" stroke-width="0" />
<rect x="818.20" y="345.22" width="7.00" height="25.56" fill="#83a1c7" stroke="none" stroke-width="0" />
<rect x="825.20" y="345.22" width="7.00" height="25.56" fill="#819fc5" stroke="none" stroke-width="0" />
<rect x="832.20" y="345.22" width="14.00" height="25.56" fill="#84a2c8" stroke="none" stroke-width="0" />
<rect x="846.20" y="345.22" width="7.00" height="25.56" fill="#7f9dc3" stroke="none" stroke-width="0" />
<rect x="853.20" y="345.22" width="7.00" height="25.56" fill="#809ec4" stroke="none" stroke-width="0" />
<rect x="860.20" y="345.22" width="7.00" height="25.56" fill="#83a1c7" stroke="none" stroke-width="0" />
<rect x="867.20" y="345.22" width="7.00" height="25.56" fill="#84a2c8" stroke="none" stroke-width="0" />
<rect x="874.20" y="345.22" width="7.00" height="25.56" fill="#8ca8d2" stroke="none" stroke-width="0" />
<rect x="881.20" y="345.22" width="7.00" height="25.56" fill="#8ba7d1" stroke="none" stroke-width="0" />
<rect x="888.20" y="345.22" width="7.00" height="25.56" fill="#8ca8d2" stroke="none" stroke-width="0" />
<rect x="895.20" y="345.22" width="7.00" height="25.56" fill="#87a3cd" stroke="none" stroke-width="0" />
<rect x="902.20" y="345.22" width="7.00" height="25.56" fill="#8ca8d2" stroke="none" stroke-width="0" />
<rect x="909.20" y="345.22" width="7.00" height="25.56" fill="#88a4ce" stroke="none" stroke-width="0" />
<rect x="916.20" y="345.22" width="7.00" height="25.56" fill="#8ca8d2" stroke="none" stroke-width="0" />
<rect x="923.20" y="345.22" width="7.00" height="25.56" fill="#87a3cd" stroke="none" stroke-width="0" />
<rect x="930.20" y="345.22" width="7.00" height="25.56" fill="#8ba7d1" stroke="none" stroke-width="0" />
<rect x="937.20" y="345.22" width="7.00" height="25.56" fill="#86a2cc" stroke="none" stroke-width="0" />
<rect x="944.20" y="345.22" width="7.00" height="25.56" fill="#8aa6d0" stroke="none" stroke-width="0" />
<rect x="951.20" y="345.22" width="7.00" height="25.56" fill="#85a1cb" stroke="none" stroke-width="0" />
<rect x="958.20" y="345.22" width="7.00" height="25.56" fill="#8aa6d0" stroke="none" stroke-width="0" />
<rect x="965.20" y="345.22" width="7.00" height="25.56" fill="#8ba7d1" stroke="none" stroke-width="0" />
<rect x="972.20" y="345.22" width="7.00" height="25.56" fill="#89a5cf" stroke="none" stroke-width="0" />
<rect x="979.20" y="345.22" width="7.00" height="25.56" fill="#85a1cb" stroke="none" stroke-width="0" />
<rect x="986.20" y="345.22" width="7.00" height="25.56" fill="#87a3cd" stroke="none" stroke-width="0" />
<rect x="993.20" y="345.22" width="7.00" height="25.56" fill="#8aa6d0" stroke="none" stroke-width="0" />
<rect x="1000.20" y="345.22" width="14.00" height="25.56" fill="#90a8d8" stroke="none" stroke-width="0" />
<rect x="300.20" y="370.78" width="7.00" height="25.56" fill="#f2f2f2" stroke="none" stroke-width="0" />
<rect x="349.20" y="370.78" width="7.00" height="25.56" fill="#f2f2f2" stroke="none" stroke-width="0" />
<rect x="384.20" y="370.78" width="7.00" height="25.56" fill="#e0e0d0" stroke="none" stroke-width="0" />
<rect x="398.20" y="370.78" width="14.00" height="25.56" fill="#d4d0a8" stroke="none" stroke-width="0" />
<rect x="412.20" y="370.78" width="14.00" height="25.56" fill="#c8b098" stroke="none" stroke-width="0" />
<rect x="426.20" y="370.78" width="7.00" height="25.56" fill="#c8a498" stroke="none" stroke-width="0" />
<rect x="433.20" y="370.78" width="7.00" height="25.56" fill="#b47c88" stroke="none" stroke-width="0" />
<rect x="440.20" y="370.78" width="7.00" height="25.56" fill="#bc8890" stroke="none" stroke-width="0" />
<rect x="447.20" y="370.78" width="7.00" height="25.56" fill="#b47c88" stroke="none" stroke-width="0" />
<rect x="454.20" y="370.78" width="7.00" height="25.56" fill="#b88088" stroke="none" stroke-width="0" />
<rect x="461.20" y="370.78" width="7.00" height="25.56" fill="#c8a89c" stroke="none" stroke-width="0" />
<rect x="468.20" y="370.78" width="14.00" height="25.56" fill="#ccbc9c" stroke="none" stroke-width="0" />
<rect x="482.20" y="370.78" width="7.00" height="25.56" fill="#f4f4f4" stroke="none" stroke-width="0" />
<rect x="489.20" y="370.78" width="7.00" height="25.56" fill="#e0e0d4" stroke="none" stroke-width="0" />
<rect x="524.20" y="370.78" width="14.00" height="25.56" fill="#f8f8fc" stroke="none" stroke-width="0" />
<rect x="538.20" y="370.78" width="7.00" height="25.56" fill="#e8e8f8" stroke="none" stroke-width="0" />
<rect x="545.20" y="370.78" width="7.00" height="25.56" fill="#e0e0f6" stroke="none" stroke-width="0" />
<rect x="552.20" y="370.78" width="21.00" height="25.56" fill="#e4e4f6" stroke="none" stroke-width="0" />
<rect x="573.20" y="370.78" width="7.00" height="25.56" fill="#d4d4f4" stroke="none" stroke-width="0" />
<rect x="580.20" y="370.78" width="7.00" height="25.56" fill="#e8e8f8" stroke="none" stroke-width="0" />
<rect x="587.20" y="370.78" width="7.00" height="25.56" fill="#d8d8f4" stroke="none" stroke-width="0" />
<rect x="594.20" y="370.78" width="14.00" height="25.56" fill="#c8c8f0" stroke="none" stroke-width="0" />
<rect x="608.20" y="370.78" width="7.00" height="25.56" fill="#b0b8e8" stroke="none" stroke-width="0" />
<rect x="615.20" y="370.78" width="7.00" height="25.56" fill="#98acdc" stroke="none" stroke-width="0" />
<rect x="622.20" y="370.78" width="7.00" height="25.56" fill="#8ca8d4" stroke="none" stroke-width="0" />
<rect x="629.20" y="370.78" width="14.00" height="25.56" fill="#84a4d0" stroke="none" stroke-width="0" />
<rect x="643.20" y="370.78" width="7.00" height="25.56" fill="#7999c1" stroke="none" stroke-width="0" />
<rect x="650.20" y="370.78" width="7.00" height="25.56" fill="#7b9bc3" stroke="none" stroke-width="0" />
<rect x="657.20" y="370.78" width="7.00" height="25.56" fill="#7c9cc4" stroke="none" stroke-width="0" />
<rect x="664.20" y="370.78" width="7.00" height="25.56" fill="#7999c1" stroke="none" stroke-width="0" />
<rect x="671.20" y="370.78" width="7.00" height="25.56" fill="#7a9ac2" stroke="none" stroke-width="0" />
<rect x="678.20" y="370.78" width="7.00" height="25.56" fill="#7d9dc5" stroke="none" stroke-width="0" />
<rect x="685.20" y="370.78" width="7.00" height="25.56" fill="#7a9ac2" stroke="none" stroke-width="0" />
<rect x="692.20" y="370.78" width="7.00" height="25.56" fill="#7c9cc4" stroke="none" stroke-width="0" />
<rect x="699.20" y="370.78" width="7.00" height="25.56" fill="#84a4d0" stroke="none" stroke-width="0" />
<rect x="706.20" y="370.78" width="21.00" height="25.56" fill="#7c9cc4" stroke="none" stroke-width="0" />
<rect x="727.20" y="370.78" width="7.00" height="25.56" fill="#84a4d0" stroke="none" stroke-width="0" />
<rect x="734.20" y="370.78" width="7.00" height="25.56" fill="#809ec6" stroke="none" stroke-width="0" />
<rect x="741.20" y="370.78" width="7.00" height="25.56" fill="#85a3cb" stroke="none" stroke-width="0" />
<rect x="748.20" y="370.78" width="7.00" height="25.56" fill="#819fc7" stroke="none" stroke-width="0" />
<rect x="755.20" y="370.78" width="7.00" height="25.56" fill="#7f9dc5" stroke="none" stroke-width="0" />
<rect x="762.20" y="370.78" width="7.00" height="25.56" fill="#84a2ca" stroke="none" stroke-width="0" />
<rect x="769.20" y="370.78" width="7.00" height="25.56" fill="#85a3cb" stroke="none" stroke-width="0" />
<rect x="776.20" y="370.78" width="7.00" height="25.56" fill="#809ec6" stroke="none" stroke-width="0" />
<rect x="783.20" y="370.78" width="7.00" height="25.56" fill="#819fc7" stroke="none" stroke-width="0" />
<rect x="790.20" y="370.78" width="7.00" height="25.56" fill="#809ec6" stroke="none" stroke-width="0" />
<rect x="797.20" y="370.78" width="7.00" height="25.56" fill="#84a2ca" stroke="none" stroke-width="0" />
<rect x="804.20" y="370.78" width="7.00" height="25.56" fill="#86a4cc" stroke="none" stroke-width="0" />
<rect x="811.20" y="370.78" width="7.00" height="25.56" fill="#84a2ca" stroke="none" stroke-width="0" />
<rect x="818.20" y="370.78" width="7.00" height="25.56" fill="#83a1c9" stroke="none" stroke-width="0" />
<rect x="825.20" y="370.78" width="7.00" height="25.56" fill="#84a2ca" stroke="none" stroke-width="0" />
<rect x="832.20" y="370.78" width="7.00" height="25.56" fill="#819fc7" stroke="none" stroke-width="0" />
<rect x="839.20" y="370.78" width="14.00" height="25.56" fill="#83a1c9" stroke="none" stroke-width="0" />
<rect x="853.20" y="370.78" width="7.00" height="25.56" fill="#7f9dc5" stroke="none" stroke-width="0" />
<rect x="860.20" y="370.78" width="7.00" height="25.56" fill="#83a1c9" stroke="none" stroke-width="0" />
<rect x="867.20" y="370.78" width="7.00" height="25.56" fill="#7e9cc4" stroke="none" stroke-width="0" />
<rect x="874.20" y="370.78" width="7.00" height="25.56" fill="#89a7d1" stroke="none" stroke-width="0" />
<rect x="881.20" y="370.78" width="7.00" height="25.56" fill="#8caad4" stroke="none" stroke-width="0" />
<rect x="888.20" y="370.78" width="14.00" height="25.56" fill="#8ba9d3" stroke="none" stroke-width="0" />
<rect x="902.20" y="370.78" width="7.00" height="25.56" fill="#84a2cc" stroke="none" stroke-width="0" />
<rect x="909.20" y="370.78" width="7.00" height="25.56" fill="#8aa8d2" stroke="none" stroke-width="0" />
<rect x="916.20" y="370.78" width="7.00" height="25.56" fill="#89a7d1" stroke="none" stroke-width="0" />
<rect x="923.20" y="370.78" width="7.00" height="25.56" fill="#8caad4" stroke="none" stroke-width="0" />
<rect x="930.20" y="370.78" width="7.00" height="25.56" fill="#88a6d0" stroke="none" stroke-width="0" />
<rect x="937.20" y="370.78" width="7.00" height="25.56" fill="#8caad4" stroke="none" stroke-width="0" />
<rect x="944.20" y="370.78" width="14.00" height="25.56" fill="#85a3cd" stroke="none" stroke-width="0" />
<rect x="958.20" y="370.78" width="7.00" height="25.56" fill="#87a5cf" stroke="none" stroke-width="0" />
<rect x="965.20" y="370.78" width="14.00" height="25.56" fill="#85a3cd" stroke="none" stroke-width="0" />
<rect x="979.20" y="370.78" width="14.00" height="25.56" fill="#88a6d0" stroke="none" stroke-width="0" />
<rect x="993.20" y="370.78" width="7.00" height="25.56" fill="#84a2cc" stroke="none" stroke-width="0" />
<rect x="1000.20" y="370.78" width="7.00" height="25.56" fill="#86a4ce" stroke="none" stroke-width="0" />
<rect x="1007.20" y="370.78" width="7.00" height="25.56" fill="#88a6d0" stroke="none" stroke-width="0" />
<rect x="230.20" y="396.34" width="7.00" height="25.56" fill="#f4f4f4" stroke="none" stroke-width="0" />
<rect x="258.20" y="396.34" width="7.00" height="25.56" fill="#f6f6fc" stroke="none" stroke-width="0" />
<rect x="286.20" y="396.34" width="7.00" height="25.56" fill="#f4f4f4" stroke="none" stroke-width="0" />
<rect x="328.20" y="396.34" width="7.00" height="25.56" fill="#f4f4f4" stroke="none" stroke-width="0" />
<rect x="377.20" y="396.34" width="7.00" height="25.56" fill="#ececf0" stroke="none" stroke-width="0" />
<rect x="384.20" y="396.34" width="14.00" height="25.56" fill="#e0e0d4" stroke="none" stroke-width="0" />
<rect x="398.20" y="396.34" width="7.00" height="25.56" fill="#dcdcc4" stroke="none" stroke-width="0" />
<rect x="405.20" y="396.34" width="7.00" height="25.56" fill="#d0c8a4" stroke="none" stroke-width="0" />
<rect x="412.20" y="396.34" width="7.00" height="25.56" fill="#ccbc9c" stroke="none" stroke-width="0" />
<rect x="419.20" y="396.34" width="7.00" height="25.56" fill="#c8b09c" stroke="none" stroke-width="0" />
<rect x="426.20" y="396.34" width="7.00" height="25.56" fill="#c49c98" stroke="none" stroke-width="0" />
<rect x="433.20" y="396.34" width="14.00" height="25.56" fill="#b88490" stroke="none" stroke-width="0" />
<rect x="447.20" y="396.34" width="14.00" height="25.56" fill="#c09094" stroke="none" stroke-width="0" />
<rect x="461.20" y="396.34" width="14.00" height="25.56" fill="#c49898" stroke="none" stroke-width="0" />
<rect x="475.20" y="396.34" width="7.00" height="25.56" fill="#c4a098" stroke="none" stroke-width="0" />
<rect x="482.20" y="396.34" width="7.00" height="25.56" fill="#c49c98" stroke="none" stroke-width="0" />
<rect x="489.20" y="396.34" width="14.00" height="25.56" fill="#c8b09c" stroke="none" stroke-width="0" />
<rect x="503.20" y="396.34" width="14.00" height="25.56" fill="#d0cca4" stroke="none" stroke-width="0" />
<rect x="517.20" y="396.34" width="7.00" height="25.56" fill="#ecece8" stroke="none" stroke-width="0" />
<rect x="524.20" y="396.34" width="14.00" height="25.56" fill="#f6f6fa" stroke="none" stroke-width="0" />
<rect x="538.20" y="396.34" width="14.00" height="25.56" fill="#dcdcf4" stroke="none" stroke-width="0" />
<rect x="552.20" y="396.34" width="14.00" height="25.56" fill="#e4e4f6" stroke="none" stroke-width="0" />
<rect x="566.20" y="396.34" width="7.00" height="25.56" fill="#f8f8fc" stroke="none" stroke-width="0" />
<rect x="573.20" y="396.34" width="7.00" height="25.56" fill="#ccccf0" stroke="none" stroke-width="0" />
<rect x="580.20" y="396.34" width="7.00" height="25.56" fill="#dcdcf4" stroke="none" stroke-width="0" />
<rect x="587.20" y="396.34" width="7.00" height="25.56" fill="#c4c4f0" stroke="none" stroke-width="0" />
<rect x="594.20" y="396.34" width="7.00" height="25.56" fill="#acb4e8" stroke="none" stroke-width="0" />
<rect x="601.20" y="396.34" width="7.00" height="25.56" fill="#b8bcec" stroke="none" stroke-width="0" />
<rect x="608.20" y="396.34" width="7.00" height="25.56" fill="#a0b0e4" stroke="none" stroke-width="0" />
<rect x="615.20" y="396.34" width="14.00" height="25.56" fill="#8ca8d4" stroke="none" stroke-width="0" />
<rect x="629.20" y="396.34" width="21.00" height="25.56" fill="#84a4d0" stroke="none" stroke-width="0" />
<rect x="650.20" y="396.34" width="28.00" height="25.56" fill="#7c9cc0" stroke="none" stroke-width="0" />
<rect x="678.20" y="396.34" width="7.00" height="25.56" fill="#7e9ec6" stroke="none" stroke-width="0" />
<rect x="685.20" y="396.34" width="7.00" height="25.56" fill="#82a2ca" stroke="none" stroke-width="0" />
<rect x="692.20" y="396.34" width="7.00" height="25.56" fill="#80a0c8" stroke="none" stroke-width="0" />
<rect x="699.20" y="396.34" width="7.00" height="25.56" fill="#82a2ca" stroke="none" stroke-width="0" />
<rect x="706.20" y="396.34" width="7.00" height="25.56" fill="#7e9ec6" stroke="none" stroke-width="0" />
<rect x="713.20" y="396.34" width="14.00" height="25.56" fill="#84a4cc" stroke="none" stroke-width="0" />
<rect x="727.20" y="396.34" width="7.00" height="25.56" fill="#83a3cb" stroke="none" stroke-width="0" />
<rect x="734.20" y="396.34" width="7.00" height="25.56" fill="#85a3cd" stroke="none" stroke-width="0" />
<rect x="741.20" y="396.34" width="7.00" height="25.56" fill="#819fc9" stroke="none" stroke-width="0" />
<rect x="748.20" y="396.34" width="7.00" height="25.56" fill="#84a2cc" stroke="none" stroke-width="0" />
<rect x="755.20" y="396.34" width="7.00" height="25.56" fill="#809ec8" stroke="none" stroke-width="0" />
<rect x="762.20" y="396.34" width="7.00" height="25.56" fill="#82a0ca" stroke="none" stroke-width="0" />
<rect x="769.20" y="396.34" width="7.00" height="25.56" fill="#86a4ce" stroke="none" stroke-width="0" />
<rect x="776.20" y="396.34" width="7.00" height="25.56" fill="#819fc9" stroke="none" stroke-width="0" />
<rect x="783.20" y="396.34" width="7.00" height="25.56" fill="#84a2cc" stroke="none" stroke-width="0" />
<rect x="790.20" y="396.34" width="7.00" height="25.56" fill="#809ec8" stroke="none" stroke-width="0" />
<rect x="797.20" y="396.34" width="7.00" height="25.56" fill="#819fc9" stroke="none" stroke-width="0" />
<rect x="804.20" y="396.34" width="7.00" height="25.56" fill="#84a2cc" stroke="none" stroke-width="0" />
<rect x="811.20" y="396.34" width="7.00" height="25.56" fill="#819fc9" stroke="none" stroke-width="0" />
<rect x="818.20" y="396.34" width="7.00" height="25.56" fill="#83a1cb" stroke="none" stroke-width="0" />
<rect x="825.20" y="396.34" width="7.00" height="25.56" fill="#819fc9" stroke="none" stroke-width="0" />
<rect x="832.20" y="396.34" width="7.00" height="25.56" fill="#84a2cc" stroke="none" stroke-width="0" />
<rect x="839.20" y="396.34" width="7.00" height="25.56" fill="#819fc9" stroke="none" stroke-width="0" />
<rect x="846.20" y="396.34" width="7.00" height="25.56" fill="#87a5cf" stroke="none" stroke-width="0" />
<rect x="853.20" y="396.34" width="7.00" height="25.56" fill="#809ec8" stroke="none" stroke-width="0" />
<rect x="860.20" y="396.34" width="7.00" height="25.56" fill="#85a3cd" stroke="none" stroke-width="0" />
<rect x="867.20" y="396.34" width="7.00" height="25.56" fill="#88a6d0" stroke="none" stroke-width="0" />
<rect x="874.20" y="396.34" width="7.00" height="25.56" fill="#86a4ce" stroke="none" stroke-width="0" />
<rect x="881.20" y="396.34" width="7.00" height="25.56" fill="#84a2cc" stroke="none" stroke-width="0" />
<rect x="888.20" y="396.34" width="7.00" height="25.56" fill="#82a0ca" stroke="none" stroke-width="0" />
<rect x="895.20" y="396.34" width="7.00" height="25.56" fill="#809ec8" stroke="none" stroke-width="0" />
<rect x="902.20" y="396.34" width="7.00" height="25.56" fill="#88a6d0" stroke="none" stroke-width="0" />
<rect x="909.20" y="396.34" width="7.00" height="25.56" fill="#83a1cb" stroke="none" stroke-width="0" />
<rect x="916.20" y="396.34" width="7.00" height="25.56" fill="#819fc9" stroke="none" stroke-width="0" />
<rect x="923.20" y="396.34" width="7.00" height="25.56" fill="#82a0ca" stroke="none" stroke-width="0" />
<rect x="930.20" y="396.34" width="7.00" height="25.56" fill="#84a2cc" stroke="none" stroke-width="0" />
<rect x="937.20" y="396.34" width="7.00" height="25.56" fill="#809ec8" stroke="none" stroke-width="0" />
<rect x="944.20" y="396.34" width="7.00" height="25.56" fill="#82a0ca" stroke="none" stroke-width="0" />
<rect x="951.20" y="396.34" width="7.00" height="25.56" fill="#83a1cb" stroke="none" stroke-width="0" />
<rect x="958.20" y="396.34" width="14.00" height="25.56" fill="#84a2cc" stroke="none" stroke-width="0" />
<rect x="972.20" y="396.34" width="7.00" height="25.56" fill="#88a6d0" stroke="none" stroke-width="0" />
<rect x="979.20" y="396.34" width="7.00" height="25.56" fill="#83a1cb" stroke="none" stroke-width="0" />
<rect x="986.20" y="396.34" width="7.00" height="25.56" fill="#84a2cc" stroke="none" stroke-width="0" />
<rect x="993.20" y="396.34" width="7.00" height="25.56" fill="#87a5cf" stroke="none" stroke-width="0" />
<rect x="1000.20" y="396.34" width="7.00" height="25.56" fill="#88a6d0" stroke="none" stroke-width="0" />
<rect x="1007.20" y="396.34" width="7.00" height="25.56" fill="#82a0ca" stroke="none" stroke-width="0" />
<rect x="216.20" y="421.90" width="7.00" height="25.56" fill="#f6f6fc" stroke="none" stroke-width="0" />
<rect x="384.20" y="421.90" width="7.00" height="25.56" fill="#e0e0d4" stroke="none" stroke-width="0" />
<rect x="398.20" y="421.90" width="7.00" height="25.56" fill="#f4f4f4" stroke="none" stroke-width="0" />
<rect x="405.20" y="421.90" width="7.00" height="25.56" fill="#e0e0d0" stroke="none" stroke-width="0" />
<rect x="412.20" y="421.90" width="7.00" height="25.56" fill="#dcdcc4" stroke="none" stroke-width="0" />
<rect x="419.20" y="421.90" width="14.00" height="25.56" fill="#d0c8a4" stroke="none" stroke-width="0" />
<rect x="433.20" y="421.90" width="7.00" height="25.56" fill="#c8b09c" stroke="none" stroke-width="0" />
<rect x="440.20" y="421.90" width="14.00" height="25.56" fill="#c09498" stroke="none" stroke-width="0" />
<rect x="454.20" y="421.90" width="14.00" height="25.56" fill="#c49c98" stroke="none" stroke-width="0" />
<rect x="468.20" y="421.90" width="14.00" height="25.56" fill="#c09498" stroke="none" stroke-width="0" />
<rect x="482.20" y="421.90" width="21.00" height="25.56" fill="#bc8c94" stroke="none" stroke-width="0" />
<rect x="503.20" y="421.90" width="7.00" height="25.56" fill="#c49898" stroke="none" stroke-width="0" />
<rect x="510.20" y="421.90" width="7.00" height="25.56" fill="#e8d8dc" stroke="none" stroke-width="0" />
<rect x="517.20" y="421.90" width="7.00" height="25.56" fill="#c8b09c" stroke="none" stroke-width="0" />
<rect x="524.20" y="421.90" width="7.00" height="25.56" fill="#d0c8a4" stroke="none" stroke-width="0" />
<rect x="531.20" y="421.90" width="7.00" height="25.56" fill="#e0e0d4" stroke="none" stroke-width="0" />
<rect x="538.20" y="421.90" width="7.00" height="25.56" fill="#dcdcec" stroke="none" stroke-width="0" />
<rect x="545.20" y="421.90" width="14.00" height="25.56" fill="#e0e0d8" stroke="none" stroke-width="0" />
<rect x="559.20" y="421.90" width="7.00" height="25.56" fill="#f4f4fa" stroke="none" stroke-width="0" />
<rect x="566.20" y="421.90" width="7.00" height="25.56" fill="#e8e8f8" stroke="none" stroke-width="0" />
<rect x="573.20" y="421.90" width="7.00" height="25.56" fill="#f8f8fc" stroke="none" stroke-width="0" />
<rect x="580.20" y="421.90" width="7.00" height="25.56" fill="#ececfa" stroke="none" stroke-width="0" />
<rect x="587.20" y="421.90" width="7.00" height="25.56" fill="#f6f6fa" stroke="none" stroke-width="0" />
<rect x="594.20" y="421.90" width="7.00" height="25.56" fill="#ececfa" stroke="none" stroke-width="0" />
<rect x="601.20" y="421.90" width="7.00" height="25.56" fill="#d0cce8" stroke="none" stroke-width="0" />
<rect x="608.20" y="421.90" width="7.00" height="25.56" fill="#b4bcec" stroke="none" stroke-width="0" />
<rect x="615.20" y="421.90" width="7.00" height="25.56" fill="#ccc8f0" stroke="none" stroke-width="0" />
<rect x="622.20" y="421.90" width="21.00" height="25.56" fill="#94acdc" stroke="none" stroke-width="0" />
<rect x="643.20" y="421.90" width="21.00" height="25.56" fill="#8ca8d4" stroke="none" stroke-width="0" />
<rect x="664.20" y="421.90" width="7.00" height="25.56" fill="#84a4d0" stroke="none" stroke-width="0" />
<rect x="671.20" y="421.90" width="7.00" height="25.56" fill="#88a4d0" stroke="none" stroke-width="0" />
<rect x="678.20" y="421.90" width="7.00" height="25.56" fill="#89a5d1" stroke="none" stroke-width="0" />
<rect x="685.20" y="421.90" width="7.00" height="25.56" fill="#84a0cc" stroke="none" stroke-width="0" />
<rect x="692.20" y="421.90" width="7.00" height="25.56" fill="#88a4d0" stroke="none" stroke-width="0" />
<rect x="699.20" y="421.90" width="7.00" height="25.56" fill="#84a0cc" stroke="none" stroke-width="0" />
<rect x="706.20" y="421.90" width="7.00" height="25.56" fill="#7c98bc" stroke="none" stroke-width="0" />
<rect x="713.20" y="421.90" width="21.00" height="25.56" fill="#80a0c8" stroke="none" stroke-width="0" />
<rect x="734.20" y="421.90" width="14.00" height="25.56" fill="#809cc6" stroke="none" stroke-width="0" />
<rect x="748.20" y="421.90" width="14.00" height="25.56" fill="#88a4ce" stroke="none" stroke-width="0" />
<rect x="762.20" y="421.90" width="7.00" height="25.56" fill="#839fc9" stroke="none" stroke-width="0" />
<rect x="769.20" y="421.90" width="7.00" height="25.56" fill="#88a4ce" stroke="none" stroke-width="0" />
<rect x="776.20" y="421.90" width="7.00" height="25.56" fill="#87a3cd" stroke="none" stroke-width="0" />
<rect x="783.20" y="421.90" width="7.00" height="25.56" fill="#839fc9" stroke="none" stroke-width="0" />
<rect x="790.20" y="421.90" width="7.00" height="25.56" fill="#87a3cd" stroke="none" stroke-width="0" />
<rect x="797.20" y="421.90" width="7.00" height="25.56" fill="#819dc7" stroke="none" stroke-width="0" />
<rect x="804.20" y="421.90" width="7.00" height="25.56" fill="#86a2cc" stroke="none" stroke-width="0" />
<rect x="811.20" y="421.90" width="7.00" height="25.56" fill="#87a3cd" stroke="none" stroke-width="0" />
<rect x="818.20" y="421.90" width="7.00" height="25.56" fill="#88a4ce" stroke="none" stroke-width="0" />
<rect x="825.20" y="421.90" width="7.00" height="25.56" fill="#86a2cc" stroke="none" stroke-width="0" />
<rect x="832.20" y="421.90" width="7.00" height="25.56" fill="#88a4ce" stroke="none" stroke-width="0" />
<rect x="839.20" y="421.90" width="7.00" height="25.56" fill="#84a0ca" stroke="none" stroke-width="0" />
<rect x="846.20" y="421.90" width="14.00" height="25.56" fill="#839fc9" stroke="none" stroke-width="0" />
<rect x="860.20" y="421.90" width="7.00" height="25.56" fill="#85a1cb" stroke="none" stroke-width="0" />
<rect x="867.20" y="421.90" width="7.00" height="25.56" fill="#839fc9" stroke="none" stroke-width="0" />
<rect x="874.20" y="421.90" width="7.00" height="25.56" fill="#8aa6d2" stroke="none" stroke-width="0" />
<rect x="881.20" y="421.90" width="7.00" height="25.56" fill="#8eaad6" stroke="none" stroke-width="0" />
<rect x="888.20" y="421.90" width="7.00" height="25.56" fill="#8da9d5" stroke="none" stroke-width="0" />
<rect x="895.20" y="421.90" width="7.00" height="25.56" fill="#88a4d0" stroke="none" stroke-width="0" />
<rect x="902.20" y="421.90" width="7.00" height="25.56" fill="#8aa6d2" stroke="none" stroke-width="0" />
<rect x="909.20" y="421.90" width="7.00" height="25.56" fill="#88a4d0" stroke="none" stroke-width="0" />
<rect x="916.20" y="421.90" width="7.00" height="25.56" fill="#89a5d1" stroke="none" stroke-width="0" />
<rect x="923.20" y="421.90" width="7.00" height="25.56" fill="#8ca8d4" stroke="none" stroke-width="0" />
<rect x="930.20" y="421.90" width="7.00" height="25.56" fill="#8eaad6" stroke="none" stroke-width="0" />
<rect x="937.20" y="421.90" width="7.00" height="25.56" fill="#8aa6d2" stroke="none" stroke-width="0" />
<rect x="944.20" y="421.90" width="7.00" height="25.56" fill="#88a4d0" stroke="none" stroke-width="0" />
<rect x="951.20" y="421.90" width="7.00" height="25.56" fill="#89a5d1" stroke="none" stroke-width="0" />
<rect x="958.20" y="421.90" width="7.00" height="25.56" fill="#8eaad6" stroke="none" stroke-width="0" />
<rect x="965.20" y="421.90" width="7.00" height="25.56" fill="#90acd8" stroke="none" stroke-width="0" />
<rect x="972.20" y="421.90" width="7.00" height="25.56" fill="#8ca8d4" stroke="none" stroke-width="0" />
<rect x="979.20" y="421.90" width="7.00" height="25.56" fill="#8ba7d3" stroke="none" stroke-width="0" />
<rect x="986.20" y="421.90" width="7.00" height="25.56" fill="#8ca8d4" stroke="none" stroke-width="0" />
<rect x="993.20" y="421.90" width="7.00" height="25.56" fill="#88a4d0" stroke="none" stroke-width="0" />
<rect x="1000.20" y="421.90" width="7.00" height="25.56" fill="#8fabd7" stroke="none" stroke-width="0" />
<rect x="1007.20" y="421.90" width="7.00" height="25.56" fill="#8aa6d2" stroke="none" stroke-width="0" />
<rect x="342.20" y="447.46" width="7.00" height="25.56" fill="#f6f6fc" stroke="none" stroke-width="0" />
<rect x="356.20" y="447.46" width="7.00" height="25.56" fill="#f0f0f0" stroke="none" stroke-width="0" />
<rect x="363.20" y="447.46" width="7.00" height="25.56" fill="#f6f6fc" stroke="none" stroke-width="0" />
<rect x="391.20" y="447.46" width="7.00" height="25.56" fill="#f4f4f4" stroke="none" stroke-width="0" />
<rect x="398.20" y="447.46" width="14.00" height="25.56" fill="#e0e0d4" stroke="none" stroke-width="0" />
<rect x="412.20" y="447.46" width="14.00" height="25.56" fill="#e4e4dc" stroke="none" stroke-width="0" />
<rect x="426.20" y="447.46" width="14.00" height="25.56" fill="#ccb89c" stroke="none" stroke-width="0" />
<rect x="440.20" y="447.46" width="14.00" height="25.56" fill="#c8a89c" stroke="none" stroke-width="0" />
<rect x="454.20" y="447.46" width="7.00" height="25.56" fill="#c09498" stroke="none" stroke-width="0" />
<rect x="461.20" y="447.46" width="14.00" height="25.56" fill="#b88490" stroke="none" stroke-width="0" />
<rect x="475.20" y="447.46" width="7.00" height="25.56" fill="#e8d8dc" stroke="none" stroke-width="0" />
<rect x="482.20" y="447.46" width="28.00" height="25.56" fill="#c49c98" stroke="none" stroke-width="0" />
<rect x="510.20" y="447.46" width="7.00" height="25.56" fill="#e8d8dc" stroke="none" stroke-width="0" />
<rect x="517.20" y="447.46" width="14.00" height="25.56" fill="#c49c98" stroke="none" stroke-width="0" />
<rect x="531.20" y="447.46" width="7.00" height="25.56" fill="#d0c8a4" stroke="none" stroke-width="0" />
<rect x="538.20" y="447.46" width="7.00" height="25.56" fill="#e8e8e0" stroke="none" stroke-width="0" />
<rect x="545.20" y="447.46" width="7.00" height="25.56" fill="#f0f0f0" stroke="none" stroke-width="0" />
<rect x="552.20" y="447.46" width="7.00" height="25.56" fill="#f8f8fa" stroke="none" stroke-width="0" />
<rect x="559.20" y="447.46" width="7.00" height="25.56" fill="#e4e4dc" stroke="none" stroke-width="0" />
<rect x="566.20" y="447.46" width="7.00" height="25.56" fill="#dcdcec" stroke="none" stroke-width="0" />
<rect x="573.20" y="447.46" width="14.00" height="25.56" fill="#e0e0d8" stroke="none" stroke-width="0" />
<rect x="587.20" y="447.46" width="14.00" height="25.56" fill="#d0cca4" stroke="none" stroke-width="0" />
<rect x="601.20" y="447.46" width="7.00" height="25.56" fill="#d8d4dc" stroke="none" stroke-width="0" />
<rect x="608.20" y="447.46" width="7.00" height="25.56" fill="#b0a4d0" stroke="none" stroke-width="0" />
<rect x="615.20" y="447.46" width="7.00" height="25.56" fill="#c0b8d8" stroke="none" stroke-width="0" />
<rect x="622.20" y="447.46" width="7.00" height="25.56" fill="#c4b0d4" stroke="none" stroke-width="0" />
<rect x="629.20" y="447.46" width="14.00" height="25.56" fill="#b0a0d0" stroke="none" stroke-width="0" />
<rect x="643.20" y="447.46" width="14.00" height="25.56" fill="#a0a0cc" stroke="none" stroke-width="0" />
<rect x="657.20" y="447.46" width="14.00" height="25.56" fill="#9c9cc8" stroke="none" stroke-width="0" />
<rect x="671.20" y="447.46" width="21.00" height="25.56" fill="#8090b4" stroke="none" stroke-width="0" />
<rect x="692.20" y="447.46" width="7.00" height="25.56" fill="#8498c4" stroke="none" stroke-width="0" />
<rect x="699.20" y="447.46" width="7.00" height="25.56" fill="#90a0d0" stroke="none" stroke-width="0" />
<rect x="706.20" y="447.46" width="21.00" height="25.56" fill="#8098c4" stroke="none" stroke-width="0" />
<rect x="727.20" y="447.46" width="7.00" height="25.56" fill="#88a4d4" stroke="none" stroke-width="0" />
<rect x="734.20" y="447.46" width="21.00" height="25.56" fill="#8498c4" stroke="none" stroke-width="0" />
<rect x="755.20" y="447.46" width="14.00" height="25.56" fill="#7c90b0" stroke="none" stroke-width="0" />
<rect x="769.20" y="447.46" width="7.00" height="25.56" fill="#a0b0e4" stroke="none" stroke-width="0" />
<rect x="776.20" y="447.46" width="21.00" height="25.56" fill="#889cc8" stroke="none" stroke-width="0" />
<rect x="797.20" y="447.46" width="7.00" height="25.56" fill="#7c90b0" stroke="none" stroke-width="0" />
<rect x="804.20" y="447.46" width="7.00" height="25.56" fill="#a4b4e8" stroke="none" stroke-width="0" />
<rect x="811.20" y="447.46" width="21.00" height="25.56" fill="#889ccc" stroke="none" stroke-width="0" />
<rect x="832.20" y="447.46" width="7.00" height="25.56" fill="#7890b0" stroke="none" stroke-width="0" />
<rect x="839.20" y="447.46" width="14.00" height="25.56" fill="#90a4d4" stroke="none" stroke-width="0" />
<rect x="853.20" y="447.46" width="7.00" height="25.56" fill="#8498c8" stroke="none" stroke-width="0" />
<rect x="860.20" y="447.46" width="7.00" height="25.56" fill="#8aa4d2" stroke="none" stroke-width="0" />
<rect x="867.20" y="447.46" width="7.00" height="25.56" fill="#8ca6d4" stroke="none" stroke-width="0" />
<rect x="874.20" y="447.46" width="7.00" height="25.56" fill="#8fa9d7" stroke="none" stroke-width="0" />
<rect x="881.20" y="447.46" width="7.00" height="25.56" fill="#88a2d0" stroke="none" stroke-width="0" />
<rect x="888.20" y="447.46" width="7.00" height="25.56" fill="#8ca6d4" stroke="none" stroke-width="0" />
<rect x="895.20" y="447.46" width="14.00" height="25.56" fill="#8da7d5" stroke="none" stroke-width="0" />
<rect x="909.20" y="447.46" width="7.00" height="25.56" fill="#90aad8" stroke="none" stroke-width="0" />
<rect x="916.20" y="447.46" width="7.00" height="25.56" fill="#8da7d5" stroke="none" stroke-width="0" />
<rect x="923.20" y="447.46" width="7.00" height="25.56" fill="#8ba5d3" stroke="none" stroke-width="0" />
<rect x="930.20" y="447.46" width="7.00" height="25.56" fill="#88a2d0" stroke="none" stroke-width="0" />
<rect x="937.20" y="447.46" width="7.00" height="25.56" fill="#8ca6d4" stroke="none" stroke-width="0" />
<rect x="944.20" y="447.46" width="7.00" height="25.56" fill="#8ba5d3" stroke="none" stroke-width="0" />
<rect x="951.20" y="447.46" width="7.00" height="25.56" fill="#8da7d5" stroke="none" stroke-width="0" />
<rect x="958.20" y="447.46" width="7.00" height="25.56" fill="#8aa4d2" stroke="none" stroke-width="0" />
<rect x="965.20" y="447.46" width="7.00" height="25.56" fill="#88a2d0" stroke="none" stroke-width="0" />
<rect x="972.20" y="447.46" width="7.00" height="25.56" fill="#8da7d5" stroke="none" stroke-width="0" />
<rect x="979.20" y="447.46" width="7.00" height="25.56" fill="#8ea8d6" stroke="none" stroke-width="0" />
<rect x="986.20" y="447.46" width="7.00" height="25.56" fill="#89a3d1" stroke="none" stroke-width="0" />
<rect x="993.20" y="447.46" width="7.00" height="25.56" fill="#8fa9d7" stroke="none" stroke-width="0" />
<rect x="1000.20" y="447.46" width="7.00" height="25.56" fill="#8ca6d4" stroke="none" stroke-width="0" />
<rect x="1007.20" y="447.46" width="7.00" height="25.56" fill="#90aad8" stroke="none" stroke-width="0" />
<rect x="251.20" y="473.02" width="7.00" height="25.56" fill="#f2f2f2" stroke="none" stroke-width="0" />
<rect x="391.20" y="473.02" width="21.00" height="25.56" fill="#e0e0d4" stroke="none" stroke-width="0" />
<rect x="412.20" y="473.02" width="7.00" height="25.56" fill="#d8d8b4" stroke="none" stroke-width="0" />
<rect x="419.20" y="473.02" width="14.00" height="25.56" fill="#d0cca4" stroke="none" stroke-width="0" />
<rect x="433.20" y="473.02" width="14.00" height="25.56" fill="#c8b09c" stroke="none" stroke-width="0" />
<rect x="447.20" y="473.02" width="7.00" height="25.56" fill="#c09098" stroke="none" stroke-width="0" />
<rect x="454.20" y="473.02" width="14.00" height="25.56" fill="#c49c98" stroke="none" stroke-width="0" />
<rect x="468.20" y="473.02" width="14.00" height="25.56" fill="#c09498" stroke="none" stroke-width="0" />
<rect x="482.20" y="473.02" width="14.00" height="25.56" fill="#b88490" stroke="none" stroke-width="0" />
<rect x="496.20" y="473.02" width="7.00" height="25.56" fill="#c49c98" stroke="none" stroke-width="0" />
<rect x="503.20" y="473.02" width="7.00" height="25.56" fill="#c8a89c" stroke="none" stroke-width="0" />
<rect x="510.20" y="473.02" width="14.00" height="25.56" fill="#ccbc9c" stroke="none" stroke-width="0" />
<rect x="524.20" y="473.02" width="7.00" height="25.56" fill="#d0c8a4" stroke="none" stroke-width="0" />
<rect x="531.20" y="473.02" width="21.00" height="25.56" fill="#e0e0d4" stroke="none" stroke-width="0" />
<rect x="552.20" y="473.02" width="7.00" height="25.56" fill="#f6f6f6" stroke="none" stroke-width="0" />
<rect x="566.20" y="473.02" width="7.00" height="25.56" fill="#f6f6f6" stroke="none" stroke-width="0" />
<rect x="580.20" y="473.02" width="28.00" height="25.56" fill="#f4f4f4" stroke="none" stroke-width="0" />
<rect x="615.20" y="473.02" width="7.00" height="25.56" fill="#f4f4f4" stroke="none" stroke-width="0" />
<rect x="622.20" y="473.02" width="14.00" height="25.56" fill="#f6f6fc" stroke="none" stroke-width="0" />
<rect x="636.20" y="473.02" width="14.00" height="25.56" fill="#fafafc" stroke="none" stroke-width="0" />
<rect x="650.20" y="473.02" width="7.00" height="25.56" fill="#f8f8fa" stroke="none" stroke-width="0" />
<rect x="657.20" y="473.02" width="7.00" height="25.56" fill="#ececfa" stroke="none" stroke-width="0" />
<rect x="664.20" y="473.02" width="14.00" height="25.56" fill="#f6f6fc" stroke="none" stroke-width="0" />
<rect x="685.20" y="473.02" width="7.00" height="25.56" fill="#ececfa" stroke="none" stroke-width="0" />
<rect x="692.20" y="473.02" width="7.00" height="25.56" fill="#f0f0fc" stroke="none" stroke-width="0" />
<rect x="699.20" y="473.02" width="7.00" height="25.56" fill="#dcdcf4" stroke="none" stroke-width="0" />
<rect x="706.20" y="473.02" width="21.00" height="25.56" fill="#c4c4f0" stroke="none" stroke-width="0" />
<rect x="727.20" y="473.02" width="7.00" height="25.56" fill="#b0b8e8" stroke="none" stroke-width="0" />
<rect x="734.20" y="473.02" width="14.00" height="25.56" fill="#a4b4e4" stroke="none" stroke-width="0" />
<rect x="748.20" y="473.02" width="7.00" height="25.56" fill="#b4bcec" stroke="none" stroke-width="0" />
<rect x="755.20" y="473.02" width="14.00" height="25.56" fill="#97abdb" stroke="none" stroke-width="0" />
<rect x="769.20" y="473.02" width="7.00" height="25.56" fill="#9cb0e0" stroke="none" stroke-width="0" />
<rect x="776.20" y="473.02" width="7.00" height="25.56" fill="#94a8d8" stroke="none" stroke-width="0" />
<rect x="783.20" y="473.02" width="7.00" height="25.56" fill="#95a9d9" stroke="none" stroke-width="0" />
<rect x="790.20" y="473.02" width="7.00" height="25.56" fill="#98acdc" stroke="none" stroke-width="0" />
<rect x="797.20" y="473.02" width="7.00" height="25.56" fill="#95a9d9" stroke="none" stroke-width="0" />
<rect x="804.20" y="473.02" width="7.00" height="25.56" fill="#96aada" stroke="none" stroke-width="0" />
<rect x="811.20" y="473.02" width="7.00" height="25.56" fill="#9aaede" stroke="none" stroke-width="0" />
<rect x="818.20" y="473.02" width="7.00" height="25.56" fill="#94a8d8" stroke="none" stroke-width="0" />
<rect x="825.20" y="473.02" width="7.00" height="25.56" fill="#9aaede" stroke="none" stroke-width="0" />
<rect x="832.20" y="473.02" width="7.00" height="25.56" fill="#94a8d8" stroke="none" stroke-width="0" />
<rect x="839.20" y="473.02" width="14.00" height="25.56" fill="#98acdc" stroke="none" stroke-width="0" />
<rect x="853.20" y="473.02" width="7.00" height="25.56" fill="#8ba5d3" stroke="none" stroke-width="0" />
<rect x="860.20" y="473.02" width="7.00" height="25.56" fill="#89a3d1" stroke="none" stroke-width="0" />
<rect x="867.20" y="473.02" width="7.00" height="25.56" fill="#90aad8" stroke="none" stroke-width="0" />
<rect x="874.20" y="473.02" width="7.00" height="25.56" fill="#8aa4d2" stroke="none" stroke-width="0" />
<rect x="881.20" y="473.02" width="7.00" height="25.56" fill="#8ea8d6" stroke="none" stroke-width="0" />
<rect x="888.20" y="473.02" width="7.00" height="25.56" fill="#8da7d5" stroke="none" stroke-width="0" />
<rect x="895.20" y="473.02" width="7.00" height="25.56" fill="#8fa9d7" stroke="none" stroke-width="0" />
<rect x="902.20" y="473.02" width="7.00" height="25.56" fill="#8aa4d2" stroke="none" stroke-width="0" />
<rect x="909.20" y="473.02" width="7.00" height="25.56" fill="#8ca6d4" stroke="none" stroke-width="0" />
<rect x="916.20" y="473.02" width="7.00" height="25.56" fill="#8aa4d2" stroke="none" stroke-width="0" />
<rect x="923.20" y="473.02" width="7.00" height="25.56" fill="#88a2d0" stroke="none" stroke-width="0" />
<rect x="930.20" y="473.02" width="7.00" height="25.56" fill="#90aad8" stroke="none" stroke-width="0" />
<rect x="937.20" y="473.02" width="7.00" height="25.56" fill="#8ea8d6" stroke="none" stroke-width="0" />
<rect x="944.20" y="473.02" width="7.00" height="25.56" fill="#90aad8" stroke="none" stroke-width="0" />
<rect x="951.20" y="473.02" width="7.00" height="25.56" fill="#8aa4d2" stroke="none" stroke-width="0" />
<rect x="958.20" y="473.02" width="14.00" height="25.56" fill="#90aad8" stroke="none" stroke-width="0" />
<rect x="972.20" y="473.02" width="7.00" height="25.56" fill="#88a2d0" stroke="none" stroke-width="0" />
<rect x="979.20" y="473.02" width="7.00" height="25.56" fill="#8ba5d3" stroke="none" stroke-width="0" />
<rect x="986.20" y="473.02" width="7.00" height="25.56" fill="#89a3d1" stroke="none" stroke-width="0" />
<rect x="993.20" y="473.02" width="14.00" height="25.56" fill="#88a2d0" stroke="none" stroke-width="0" />
<rect x="1007.20" y="473.02" width="7.00" height="25.56" fill="#8aa4d2" stroke="none" stroke-width="0" />
<rect x="335.20" y="498.58" width="7.00" height="36.92" fill="#f8f8fc" stroke="none" stroke-width="0" />
<rect x="349.20" y="498.58" width="7.00" height="36.92" fill="#dcdccc" stroke="none" stroke-width="0" />
<rect x="391.20" y="498.58" width="7.00" height="36.92" fill="#f4f4f4" stroke="none" stroke-width="0" />
<rect x="412.20" y="498.58" width="7.00" height="36.92" fill="#f6f6fc" stroke="none" stroke-width="0" />
<rect x="419.20" y="498.58" width="7.00" height="36.92" fill="#dcdccc" stroke="none" stroke-width="0" />
<rect x="433.20" y="498.58" width="7.00" height="36.92" fill="#e0e0d4" stroke="none" stroke-width="0" />
<rect x="440.20" y="498.58" width="7.00" height="36.92" fill="#d0cca4" stroke="none" stroke-width="0" />
<rect x="447.20" y="498.58" width="7.00" height="36.92" fill="#f4f4f4" stroke="none" stroke-width="0" />
<rect x="454.20" y="498.58" width="21.00" height="36.92" fill="#d0cca4" stroke="none" stroke-width="0" />
<rect x="475.20" y="498.58" width="7.00" height="36.92" fill="#c8b89c" stroke="none" stroke-width="0" />
<rect x="482.20" y="498.58" width="14.00" height="36.92" fill="#c4a098" stroke="none" stroke-width="0" />
<rect x="496.20" y="498.58" width="28.00" height="36.92" fill="#bc8c94" stroke="none" stroke-width="0" />
<rect x="524.20" y="498.58" width="21.00" height="36.92" fill="#c4a098" stroke="none" stroke-width="0" />
<rect x="545.20" y="498.58" width="21.00" height="36.92" fill="#d0cca4" stroke="none" stroke-width="0" />
<rect x="566.20" y="498.58" width="7.00" height="36.92" fill="#dcdcc4" stroke="none" stroke-width="0" />
<rect x="573.20" y="498.58" width="14.00" height="36.92" fill="#e0e0d4" stroke="none" stroke-width="0" />
<rect x="587.20" y="498.58" width="7.00" height="36.92" fill="#dcdcc8" stroke="none" stroke-width="0" />
<rect x="615.20" y="498.58" width="14.00" height="36.92" fill="#f4f4f4" stroke="none" stroke-width="0" />
<rect x="629.20" y="498.58" width="7.00" height="36.92" fill="#ecece8" stroke="none" stroke-width="0" />
<rect x="636.20" y="498.58" width="7.00" height="36.92" fill="#f8f8fc" stroke="none" stroke-width="0" />
<rect x="643.20" y="498.58" width="7.00" height="36.92" fill="#e8e8f8" stroke="none" stroke-width="0" />
<rect x="650.20" y="498.58" width="7.00" height="36.92" fill="#d4d4f4" stroke="none" stroke-width="0" />
<rect x="657.20" y="498.58" width="7.00" height="36.92" fill="#f6f6fc" stroke="none" stroke-width="0" />
<rect x="671.20" y="498.58" width="7.00" height="36.92" fill="#e4e4f6" stroke="none" stroke-width="0" />
<rect x="678.20" y="498.58" width="7.00" height="36.92" fill="#f8f8fc" stroke="none" stroke-width="0" />
<rect x="685.20" y="498.58" width="21.00" height="36.92" fill="#d8d8f4" stroke="none" stroke-width="0" />
<rect x="706.20" y="498.58" width="14.00" height="36.92" fill="#ccc8f0" stroke="none" stroke-width="0" />
<rect x="720.20" y="498.58" width="14.00" height="36.92" fill="#b0b8e8" stroke="none" stroke-width="0" />
<rect x="734.20" y="498.58" width="7.00" height="36.92" fill="#99addf" stroke="none" stroke-width="0" />
<rect x="741.20" y="498.58" width="7.00" height="36.92" fill="#95a9db" stroke="none" stroke-width="0" />
<rect x="748.20" y="498.58" width="7.00" height="36.92" fill="#9aaee0" stroke="none" stroke-width="0" />
<rect x="755.20" y="498.58" width="7.00" height="36.92" fill="#9bafe1" stroke="none" stroke-width="0" />
<rect x="762.20" y="498.58" width="7.00" height="36.92" fill="#9cb0e2" stroke="none" stroke-width="0" />
<rect x="769.20" y="498.58" width="14.00" height="36.92" fill="#94a8da" stroke="none" stroke-width="0" />
<rect x="783.20" y="498.58" width="7.00" height="36.92" fill="#9cb0e2" stroke="none" stroke-width="0" />
<rect x="790.20" y="498.58" width="7.00" height="36.92" fill="#97abdd" stroke="none" stroke-width="0" />
<rect x="797.20" y="498.58" width="7.00" height="36.92" fill="#9bafe1" stroke="none" stroke-width="0" />
<rect x="804.20" y="498.58" width="7.00" height="36.92" fill="#98acde" stroke="none" stroke-width="0" />
<rect x="811.20" y="498.58" width="7.00" height="36.92" fill="#94a8da" stroke="none" stroke-width="0" />
<rect x="818.20" y="498.58" width="7.00" height="36.92" fill="#9bafe1" stroke="none" stroke-width="0" />
<rect x="825.20" y="498.58" width="7.00" height="36.92" fill="#95a9db" stroke="none" stroke-width="0" />
<rect x="832.20" y="498.58" width="14.00" height="36.92" fill="#9cb0e2" stroke="none" stroke-width="0" />
<rect x="846.20" y="498.58" width="7.00" height="36.92" fill="#b0b8e8" stroke="none" stroke-width="0" />
<rect x="853.20" y="498.58" width="7.00" height="36.92" fill="#8fa7d7" stroke="none" stroke-width="0" />
<rect x="860.20" y="498.58" width="7.00" height="36.92" fill="#96aede" stroke="none" stroke-width="0" />
<rect x="867.20" y="498.58" width="7.00" height="36.92" fill="#8fa7d7" stroke="none" stroke-width="0" />
<rect x="874.20" y="498.58" width="7.00" height="36.92" fill="#95addd" stroke="none" stroke-width="0" />
<rect x="881.20" y="498.58" width="7.00" height="36.92" fill="#92aada" stroke="none" stroke-width="0" />
<rect x="888.20" y="498.58" width="7.00" height="36.92" fill="#8fa7d7" stroke="none" stroke-width="0" />
<rect x="895.20" y="498.58" width="7.00" height="36.92" fill="#92aada" stroke="none" stroke-width="0" />
<rect x="902.20" y="498.58" width="21.00" height="36.92" fill="#91a9d9" stroke="none" stroke-width="0" />
<rect x="923.20" y="498.58" width="14.00" height="36.92" fill="#95addd" stroke="none" stroke-width="0" />
<rect x="937.20" y="498.58" width="7.00" height="36.92" fill="#94acdc" stroke="none" stroke-width="0" />
<rect x="944.20" y="498.58" width="7.00" height="36.92" fill="#8fa7d7" stroke="none" stroke-width="0" />
<rect x="951.20" y="498.58" width="7.00" height="36.92" fill="#95addd" stroke="none" stroke-width="0" />
<rect x="958.20" y="498.58" width="7.00" height="36.92" fill="#92aada" stroke="none" stroke-width="0" />
<rect x="965.20" y="498.58" width="7.00" height="36.92" fill="#8ea6d6" stroke="none" stroke-width="0" />
<rect x="972.20" y="498.58" width="7.00" height="36.92" fill="#91a9d9" stroke="none" stroke-width="0" />
<rect x="979.20" y="498.58" width="7.00" height="36.92" fill="#8fa7d7" stroke="none" stroke-width="0" />
<rect x="986.20" y="498.58" width="7.00" height="36.92" fill="#90a8d8" stroke="none" stroke-width="0" />
<rect x="993.20" y="498.58" width="7.00" height="36.92" fill="#93abdb" stroke="none" stroke-width="0" />
<rect x="1000.20" y="498.58" width="14.00" height="36.92" fill="#92aada" stroke="none" stroke-width="0" />
</g></g>
<rect x="174.50" y="15.60" width="840.30" height="512.60" fill="none" stroke="#000" stroke-width="2.5" />
<line x1="161.20" y1="138.50" x2="174.50" y2="138.50" stroke="#000" stroke-width="3.0" />
<line x1="161.20" y1="273.80" x2="174.50" y2="273.80" stroke="#000" stroke-width="3.0" />
<line x1="161.20" y1="408.20" x2="174.50" y2="408.20" stroke="#000" stroke-width="3.0" />
<line x1="174.00" y1="528.20" x2="174.00" y2="540.70" stroke="#000" stroke-width="3.0" />
<line x1="417.00" y1="528.20" x2="417.00" y2="540.70" stroke="#000" stroke-width="3.0" />
<line x1="660.90" y1="528.20" x2="660.90" y2="540.70" stroke="#000" stroke-width="3.0" />
<line x1="902.90" y1="528.20" x2="902.90" y2="540.70" stroke="#000" stroke-width="3.0" />
<defs><linearGradient id="g1" x1="0" y1="15.3" x2="0" y2="527.7" gradientUnits="userSpaceOnUse"><stop offset="0.0000" stop-color="#807898"/><stop offset="0.1068" stop-color="#7e86a6"/><stop offset="0.2199" stop-color="#809ec0"/><stop offset="0.3312" stop-color="#86a6d0"/><stop offset="0.4776" stop-color="#acb8e8"/><stop offset="0.5556" stop-color="#bcc0ee"/><stop offset="0.6337" stop-color="#c8c8f0"/><stop offset="0.7508" stop-color="#d8d8f5"/><stop offset="0.8484" stop-color="#eaeafa"/><stop offset="0.9459" stop-color="#f9f9fd"/><stop offset="1.0000" stop-color="#ffffff"/></linearGradient><linearGradient id="g2" x1="0" y1="15.3" x2="0" y2="527.7" gradientUnits="userSpaceOnUse"><stop offset="0.0000" stop-color="#96666c"/><stop offset="0.1068" stop-color="#a87880"/><stop offset="0.2199" stop-color="#be8e96"/><stop offset="0.3312" stop-color="#c49e9a"/><stop offset="0.4776" stop-color="#c8b698"/><stop offset="0.5556" stop-color="#cabe9a"/><stop offset="0.6337" stop-color="#cec8a0"/><stop offset="0.7117" stop-color="#d2d2b2"/><stop offset="0.7898" stop-color="#dadaca"/><stop offset="0.8679" stop-color="#e6e6e2"/><stop offset="0.9459" stop-color="#f6f6f6"/><stop offset="1.0000" stop-color="#ffffff"/></linearGradient></defs>
<rect x="1067.10" y="15.30" width="25.60" height="512.40" fill="url(#g1)" stroke="#000" stroke-width="2.5" />
<line x1="1092.70" y1="522.52" x2="1105.00" y2="522.52" stroke="#000" stroke-width="3.0" />
<line x1="1092.70" y1="512.90" x2="1105.00" y2="512.90" stroke="#000" stroke-width="3.0" />
<line x1="1092.70" y1="504.30" x2="1105.00" y2="504.30" stroke="#000" stroke-width="3.0" />
<line x1="1092.70" y1="447.71" x2="1105.00" y2="447.71" stroke="#000" stroke-width="3.0" />
<line x1="1092.70" y1="414.60" x2="1105.00" y2="414.60" stroke="#000" stroke-width="3.0" />
<line x1="1092.70" y1="391.11" x2="1105.00" y2="391.11" stroke="#000" stroke-width="3.0" />
<line x1="1092.70" y1="372.89" x2="1105.00" y2="372.89" stroke="#000" stroke-width="3.0" />
<line x1="1092.70" y1="358.01" x2="1105.00" y2="358.01" stroke="#000" stroke-width="3.0" />
<line x1="1092.70" y1="345.42" x2="1105.00" y2="345.42" stroke="#000" stroke-width="3.0" />
<line x1="1092.70" y1="334.52" x2="1105.00" y2="334.52" stroke="#000" stroke-width="3.0" />
<line x1="1092.70" y1="324.90" x2="1105.00" y2="324.90" stroke="#000" stroke-width="3.0" />
<line x1="1092.70" y1="316.30" x2="1105.00" y2="316.30" stroke="#000" stroke-width="3.0" />
<line x1="1092.70" y1="259.71" x2="1105.00" y2="259.71" stroke="#000" stroke-width="3.0" />
<line x1="1092.70" y1="226.60" x2="1105.00" y2="226.60" stroke="#000" stroke-width="3.0" />
<line x1="1092.70" y1="203.11" x2="1105.00" y2="203.11" stroke="#000" stroke-width="3.0" />
<line x1="1092.70" y1="184.89" x2="1105.00" y2="184.89" stroke="#000" stroke-width="3.0" />
<line x1="1092.70" y1="170.01" x2="1105.00" y2="170.01" stroke="#000" stroke-width="3.0" />
<line x1="1092.70" y1="157.42" x2="1105.00" y2="157.42" stroke="#000" stroke-width="3.0" />
<line x1="1092.70" y1="146.52" x2="1105.00" y2="146.52" stroke="#000" stroke-width="3.0" />
<line x1="1092.70" y1="136.90" x2="1105.00" y2="136.90" stroke="#000" stroke-width="3.0" />
<line x1="1092.70" y1="128.30" x2="1105.00" y2="128.30" stroke="#000" stroke-width="3.0" />
<line x1="1092.70" y1="71.71" x2="1105.00" y2="71.71" stroke="#000" stroke-width="3.0" />
<line x1="1092.70" y1="38.60" x2="1105.00" y2="38.60" stroke="#000" stroke-width="3.0" />
<rect x="1166.40" y="15.30" width="25.60" height="512.40" fill="url(#g2)" stroke="#000" stroke-width="2.5" />
<line x1="1192.00" y1="522.52" x2="1204.30" y2="522.52" stroke="#000" stroke-width="3.0" />
<line x1="1192.00" y1="512.90" x2="1204.30" y2="512.90" stroke="#000" stroke-width="3.0" />
<line x1="1192.00" y1="504.30" x2="1204.30" y2="504.30" stroke="#000" stroke-width="3.0" />
<line x1="1192.00" y1="447.71" x2="1204.30" y2="447.71" stroke="#000" stroke-width="3.0" />
<line x1="1192.00" y1="414.60" x2="1204.30" y2="414.60" stroke="#000" stroke-width="3.0" />
<line x1="1192.00" y1="391.11" x2="1204.30" y2="391.11" stroke="#000" stroke-width="3.0" />
<line x1="1192.00" y1="372.89" x2="1204.30" y2="372.89" stroke="#000" stroke-width="3.0" />
<line x1="1192.00" y1="358.01" x2="1204.30" y2="358.01" stroke="#000" stroke-width="3.0" />
<line x1="1192.00" y1="345.42" x2="1204.30" y2="345.42" stroke="#000" stroke-width="3.0" />
<line x1="1192.00" y1="334.52" x2="1204.30" y2="334.52" stroke="#000" stroke-width="3.0" />
<line x1="1192.00" y1="324.90" x2="1204.30" y2="324.90" stroke="#000" stroke-width="3.0" />
<line x1="1192.00" y1="316.30" x2="1204.30" y2="316.30" stroke="#000" stroke-width="3.0" />
<line x1="1192.00" y1="259.71" x2="1204.30" y2="259.71" stroke="#000" stroke-width="3.0" />
<line x1="1192.00" y1="226.60" x2="1204.30" y2="226.60" stroke="#000" stroke-width="3.0" />
<line x1="1192.00" y1="203.11" x2="1204.30" y2="203.11" stroke="#000" stroke-width="3.0" />
<line x1="1192.00" y1="184.89" x2="1204.30" y2="184.89" stroke="#000" stroke-width="3.0" />
<line x1="1192.00" y1="170.01" x2="1204.30" y2="170.01" stroke="#000" stroke-width="3.0" />
<line x1="1192.00" y1="157.42" x2="1204.30" y2="157.42" stroke="#000" stroke-width="3.0" />
<line x1="1192.00" y1="146.52" x2="1204.30" y2="146.52" stroke="#000" stroke-width="3.0" />
<line x1="1192.00" y1="136.90" x2="1204.30" y2="136.90" stroke="#000" stroke-width="3.0" />
<line x1="1192.00" y1="128.30" x2="1204.30" y2="128.30" stroke="#000" stroke-width="3.0" />
<line x1="1192.00" y1="71.71" x2="1204.30" y2="71.71" stroke="#000" stroke-width="3.0" />
<line x1="1192.00" y1="38.60" x2="1204.30" y2="38.60" stroke="#000" stroke-width="3.0" />
<clipPath id="cb"><rect x="174.5" y="720.6" width="1166.9" height="769.4"/></clipPath>
<g clip-path="url(#cb)">
<line x1="227.50" y1="836.70" x2="227.50" y2="985.50" stroke="#7e913c" stroke-width="6" />
<line x1="333.40" y1="848.00" x2="333.40" y2="1045.80" stroke="#7e913c" stroke-width="6" />
<line x1="455.20" y1="1027.30" x2="455.20" y2="1146.30" stroke="#7e913c" stroke-width="6" />
<line x1="492.30" y1="1013.10" x2="492.30" y2="1221.70" stroke="#7e913c" stroke-width="6" />
<line x1="581.10" y1="958.10" x2="581.10" y2="1140.20" stroke="#7e913c" stroke-width="6" />
<line x1="625.50" y1="1095.00" x2="625.50" y2="1247.30" stroke="#7e913c" stroke-width="6" />
<line x1="890.90" y1="1160.30" x2="890.90" y2="1271.90" stroke="#7e913c" stroke-width="6" />
<line x1="934.90" y1="1221.00" x2="934.90" y2="1350.60" stroke="#7e913c" stroke-width="6" />
<line x1="1022.40" y1="1240.60" x2="1022.40" y2="1357.50" stroke="#7e913c" stroke-width="6" />
<line x1="1181.80" y1="1208.00" x2="1181.80" y2="1355.90" stroke="#7e913c" stroke-width="6" />
<line x1="1288.10" y1="1293.50" x2="1288.10" y2="1396.60" stroke="#7e913c" stroke-width="6" />
<polyline fill="none" stroke="#a59f3c" stroke-width="8.8" stroke-linecap="square" points="227.2,1018.5 244.9,1023.8 262.6,1029.1 280.2,1034.3 297.9,1039.5 315.6,1044.7 333.3,1049.9 351.0,1055.0 368.6,1060.1 386.3,1065.2 404.0,1070.2 421.7,1075.3 439.4,1080.2 457.0,1085.2 474.7,1090.1 492.4,1095.0 510.1,1099.9 527.8,1104.8 545.4,1109.6 563.1,1114.4 580.8,1119.1 598.5,1123.9 616.2,1128.6 633.8,1133.2 651.5,1137.9 669.2,1142.5 686.9,1147.1 704.6,1151.6 722.2,1156.2 739.9,1160.7 757.6,1165.1 775.3,1169.6 793.0,1174.0 810.6,1178.4 828.3,1182.7 846.0,1187.1 863.7,1191.4 881.4,1195.6 899.0,1199.9 916.7,1204.1 934.4,1208.3 952.1,1212.4 969.8,1216.6 987.4,1220.7 1005.1,1224.7 1022.8,1228.8 1040.5,1232.8 1058.2,1236.8 1075.8,1240.7 1093.5,1244.7 1111.2,1248.6 1128.9,1252.4 1146.6,1256.3 1164.2,1260.1 1181.9,1263.9 1199.6,1267.6 1217.3,1271.4 1235.0,1275.1 1252.6,1278.7 1270.3,1282.4 1288.0,1286.0"/>
<polyline fill="none" stroke="#5a8249" stroke-width="8.8" stroke-dasharray="33.1 15.617" stroke-dashoffset="28.2" points="147.6,946.4 168.0,954.3 188.3,962.2 208.6,970.0 229.0,977.8 249.3,985.5 269.6,993.3 290.0,1000.9 310.3,1008.5 330.6,1016.1 351.0,1023.6 371.3,1031.1 391.6,1038.6 412.0,1046.0 432.3,1053.3 452.6,1060.7 473.0,1067.9 493.3,1075.2 513.6,1082.3 533.9,1089.5 554.3,1096.6 574.6,1103.6 594.9,1110.6 615.3,1117.6 635.6,1124.5 655.9,1131.4 676.3,1138.2 696.6,1145.0 716.9,1151.8 737.3,1158.5 757.6,1165.1 777.9,1171.8 798.3,1178.3 818.6,1184.9 838.9,1191.3 859.3,1197.8 879.6,1204.2 899.9,1210.5 920.3,1216.9 940.6,1223.1 960.9,1229.4 981.3,1235.5 1001.6,1241.7 1021.9,1247.8 1042.2,1253.8 1062.6,1259.8 1082.9,1265.8 1103.2,1271.7 1123.6,1277.6 1143.9,1283.4 1164.2,1289.2 1184.6,1294.9 1204.9,1300.7 1225.2,1306.3 1245.6,1311.9 1265.9,1317.5 1286.2,1323.0 1306.6,1328.5 1326.9,1333.9 1347.2,1339.3 1367.6,1344.7"/>
<circle cx="227.5" cy="911.2" r="12.4" fill="#b0c763" stroke="#7e913c" stroke-width="6"/>
<circle cx="333.4" cy="946.8" r="12.4" fill="#b0c763" stroke="#7e913c" stroke-width="6"/>
<circle cx="455.2" cy="1087.6" r="12.4" fill="#b0c763" stroke="#7e913c" stroke-width="6"/>
<circle cx="492.3" cy="1117.4" r="12.4" fill="#b0c763" stroke="#7e913c" stroke-width="6"/>
<circle cx="581.1" cy="1049.3" r="12.4" fill="#b0c763" stroke="#7e913c" stroke-width="6"/>
<circle cx="625.5" cy="1170.7" r="12.4" fill="#b0c763" stroke="#7e913c" stroke-width="6"/>
<circle cx="890.9" cy="1216.1" r="12.4" fill="#b0c763" stroke="#7e913c" stroke-width="6"/>
<circle cx="934.9" cy="1285.8" r="12.4" fill="#b0c763" stroke="#7e913c" stroke-width="6"/>
<circle cx="1022.4" cy="1298.8" r="12.4" fill="#b0c763" stroke="#7e913c" stroke-width="6"/>
<circle cx="1181.8" cy="1281.7" r="12.4" fill="#b0c763" stroke="#7e913c" stroke-width="6"/>
<circle cx="1288.1" cy="1344.9" r="12.4" fill="#b0c763" stroke="#7e913c" stroke-width="6"/>
</g>
<rect x="174.50" y="720.60" width="1166.90" height="769.40" fill="none" stroke="#000" stroke-width="2.5" />
<line x1="161.20" y1="721.40" x2="174.50" y2="721.40" stroke="#000" stroke-width="3.0" />
<line x1="161.20" y1="869.46" x2="174.50" y2="869.46" stroke="#000" stroke-width="3.0" />
<line x1="161.20" y1="1017.52" x2="174.50" y2="1017.52" stroke="#000" stroke-width="3.0" />
<line x1="161.20" y1="1165.58" x2="174.50" y2="1165.58" stroke="#000" stroke-width="3.0" />
<line x1="161.20" y1="1313.64" x2="174.50" y2="1313.64" stroke="#000" stroke-width="3.0" />
<line x1="161.20" y1="1461.70" x2="174.50" y2="1461.70" stroke="#000" stroke-width="3.0" />
<line x1="227.20" y1="1490.00" x2="227.20" y2="1501.90" stroke="#000" stroke-width="3.0" />
<line x1="492.40" y1="1490.00" x2="492.40" y2="1501.90" stroke="#000" stroke-width="3.0" />
<line x1="757.60" y1="1490.00" x2="757.60" y2="1501.90" stroke="#000" stroke-width="3.0" />
<line x1="1022.80" y1="1490.00" x2="1022.80" y2="1501.90" stroke="#000" stroke-width="3.0" />
<line x1="1288.00" y1="1490.00" x2="1288.00" y2="1501.90" stroke="#000" stroke-width="3.0" />
<rect x="788.90" y="748.50" width="525.60" height="268.50" fill="#fff" stroke="none" stroke-width="0" />
<line x1="788.90" y1="752.20" x2="800.50" y2="752.20" stroke="#000" stroke-width="3.0" />
<line x1="788.90" y1="879.60" x2="800.50" y2="879.60" stroke="#000" stroke-width="3.0" />
<line x1="788.90" y1="1007.00" x2="800.50" y2="1007.00" stroke="#000" stroke-width="3.0" />
<line x1="812.00" y1="1017.00" x2="812.00" y2="1005.20" stroke="#000" stroke-width="3.0" />
<line x1="1050.00" y1="1017.00" x2="1050.00" y2="1005.20" stroke="#000" stroke-width="3.0" />
<line x1="1289.00" y1="1017.00" x2="1289.00" y2="1005.20" stroke="#000" stroke-width="3.0" />
<polyline fill="none" stroke="#2a5363" stroke-width="8.5" stroke-linecap="square" points="811.4,791.9 819.4,795.2 827.3,798.4 835.3,801.6 843.2,804.8 851.2,808.0 859.1,811.1 867.1,814.2 875.0,817.3 883.0,820.4 890.9,823.4 898.9,826.5 906.8,829.5 914.8,832.4 922.7,835.4 930.7,838.3 938.7,841.2 946.6,844.1 954.6,847.0 962.5,849.8 970.5,852.6 978.4,855.4 986.4,858.2 994.3,860.9 1002.3,863.7 1010.2,866.4 1018.2,869.0 1026.1,871.7 1034.1,874.3 1042.0,876.9 1050.0,879.5 1058.0,882.1 1065.9,884.6 1073.9,887.1 1081.8,889.6 1089.8,892.1 1097.7,894.5 1105.7,896.9 1113.6,899.3 1121.6,901.7 1129.5,904.1 1137.5,906.4 1145.4,908.7 1153.4,911.0 1161.3,913.2 1169.3,915.5 1177.3,917.7 1185.2,919.9 1193.2,922.0 1201.1,924.2 1209.1,926.3 1217.0,928.4 1225.0,930.4 1232.9,932.5 1240.9,934.5 1248.8,936.5 1256.8,938.5 1264.7,940.5 1272.7,942.4 1280.6,944.3 1288.6,946.2"/>
<polyline fill="none" stroke="#f6e0e0" stroke-width="8.5" stroke-linecap="square" points="811.4,843.6 819.4,844.9 827.3,846.2 835.3,847.4 843.2,848.7 851.2,850.0 859.1,851.2 867.1,852.5 875.0,853.7 883.0,855.0 890.9,856.2 898.9,857.4 906.8,858.6 914.8,859.9 922.7,861.1 930.7,862.3 938.7,863.5 946.6,864.6 954.6,865.8 962.5,867.0 970.5,868.2 978.4,869.3 986.4,870.5 994.3,871.6 1002.3,872.8 1010.2,873.9 1018.2,875.0 1026.1,876.2 1034.1,877.3 1042.0,878.4 1050.0,879.5 1058.0,880.6 1065.9,881.7 1073.9,882.8 1081.8,883.9 1089.8,884.9 1097.7,886.0 1105.7,887.1 1113.6,888.1 1121.6,889.2 1129.5,890.2 1137.5,891.2 1145.4,892.3 1153.4,893.3 1161.3,894.3 1169.3,895.3 1177.3,896.3 1185.2,897.3 1193.2,898.3 1201.1,899.3 1209.1,900.3 1217.0,901.2 1225.0,902.2 1232.9,903.2 1240.9,904.1 1248.8,905.1 1256.8,906.0 1264.7,907.0 1272.7,907.9 1280.6,908.8 1288.6,909.7"/>
<line x1="859.40" y1="762.00" x2="859.40" y2="872.80" stroke="#1f3b66" stroke-width="6" />
<line x1="931.70" y1="760.20" x2="931.70" y2="826.20" stroke="#1f3b66" stroke-width="6" />
<line x1="1241.30" y1="975.00" x2="1241.30" y2="995.50" stroke="#1f3b66" stroke-width="6" />
<rect x="799.90" y="779.80" width="24.80" height="24.80" fill="#325e98" stroke="#1f3b66" stroke-width="6" />
<rect x="847.00" y="804.50" width="24.80" height="24.80" fill="#325e98" stroke="#1f3b66" stroke-width="6" />
<rect x="919.30" y="780.80" width="24.80" height="24.80" fill="#325e98" stroke="#1f3b66" stroke-width="6" />
<rect x="1157.00" y="888.40" width="24.80" height="24.80" fill="#325e98" stroke="#1f3b66" stroke-width="6" />
<rect x="1228.90" y="965.90" width="24.80" height="24.80" fill="#325e98" stroke="#1f3b66" stroke-width="6" />
<rect x="1276.80" y="985.70" width="24.80" height="24.80" fill="#325e98" stroke="#1f3b66" stroke-width="6" />
<line x1="812.30" y1="805.60" x2="812.30" y2="852.70" stroke="#f0bab2" stroke-width="6" />
<line x1="859.40" y1="818.00" x2="859.40" y2="862.70" stroke="#f0bab2" stroke-width="6" />
<line x1="931.70" y1="824.50" x2="931.70" y2="884.90" stroke="#f0bab2" stroke-width="6" />
<line x1="1169.40" y1="871.00" x2="1169.40" y2="922.70" stroke="#f0bab2" stroke-width="6" />
<polygon points="812.3,810.6 829.9,828.2 812.3,845.8000000000001 794.6999999999999,828.2" fill="#fff" stroke="#f0bab2" stroke-width="6"/>
<polygon points="859.4,822.5 877.0,840.1 859.4,857.7 841.8,840.1" fill="#fff" stroke="#f0bab2" stroke-width="6"/>
<polygon points="931.7,837.1 949.3000000000001,854.7 931.7,872.3000000000001 914.1,854.7" fill="#fff" stroke="#f0bab2" stroke-width="6"/>
<polygon points="1169.4,878.6 1187.0,896.2 1169.4,913.8000000000001 1151.8000000000002,896.2" fill="#fff" stroke="#f0bab2" stroke-width="6"/>
<polygon points="1241.0,907.6 1258.6,925.2 1241.0,942.8000000000001 1223.4,925.2" fill="#fff" stroke="#f0bab2" stroke-width="6"/>
<polygon points="1289.1,916.4 1306.6999999999998,934.0 1289.1,951.6 1271.5,934.0" fill="#fff" stroke="#f0bab2" stroke-width="6"/>
<rect x="788.90" y="748.50" width="525.60" height="268.50" fill="none" stroke="#000" stroke-width="2.5" />
<g opacity="0.999">
<text transform="matrix(0.4576 0 0 0.4965 30.46 29.62)" font-family="Liberation Sans" font-style="normal" font-weight="bold" font-size="100" fill="#000">a</text>
<text transform="matrix(0.5180 0 0 0.5392 27.69 721.37)" font-family="Liberation Sans" font-style="normal" font-weight="bold" font-size="100" fill="#000">b</text>
<text transform="matrix(0.4800 0 0 0.4953 120.78 160.70)" font-family="Liberation Serif" font-style="normal" font-weight="normal" font-size="100" fill="#000">1</text>
<line x1="84.0" y1="148.29999999999998" x2="115.8" y2="148.29999999999998" stroke="#000" stroke-width="2.4"/>
<text transform="matrix(0.5338 0 0 0.4939 120.05 296.00)" font-family="Liberation Serif" font-style="normal" font-weight="normal" font-size="100" fill="#000">2</text>
<line x1="84.0" y1="283.6" x2="115.8" y2="283.6" stroke="#000" stroke-width="2.4"/>
<text transform="matrix(0.5132 0 0 0.5001 119.94 430.71)" font-family="Liberation Serif" font-style="normal" font-weight="normal" font-size="100" fill="#000">3</text>
<line x1="84.0" y1="418.0" x2="115.8" y2="418.0" stroke="#000" stroke-width="2.4"/>
<text transform="matrix(0.5367 0 0 0.4873 138.86 586.41)" font-family="Liberation Serif" font-style="normal" font-weight="normal" font-size="100" fill="#000">0.0</text>
<text transform="matrix(0.5446 0 0 0.4873 382.23 586.41)" font-family="Liberation Serif" font-style="normal" font-weight="normal" font-size="100" fill="#000">0.2</text>
<text transform="matrix(0.5266 0 0 0.4873 625.99 586.41)" font-family="Liberation Serif" font-style="normal" font-weight="normal" font-size="100" fill="#000">0.4</text>
<text transform="matrix(0.5329 0 0 0.4873 868.67 586.41)" font-family="Liberation Serif" font-style="normal" font-weight="normal" font-size="100" fill="#000">0.6</text>
<text transform="matrix(0.6109 0 0 0.5642 492.81 646.45)" font-family="Liberation Serif" font-style="italic" font-weight="normal" font-size="100" fill="#000">V</text>
<text transform="matrix(0.4577 0 0 0.3794 524.16 652.53)" font-family="Liberation Serif" font-style="normal" font-weight="normal" font-size="100" fill="#000">0</text>
<text transform="matrix(0.6230 0 0 0.6011 569.26 647.20)" font-family="Liberation Serif" font-style="normal" font-weight="normal" font-size="100" fill="#000">(</text>
<text transform="matrix(0.6596 0 0 0.5620 595.47 646.30)" font-family="Liberation Serif" font-style="italic" font-weight="normal" font-size="100" fill="#000">E</text>
<text transform="matrix(0.4398 0 0 0.3711 634.73 652.30)" font-family="Liberation Serif" font-style="normal" font-weight="normal" font-size="100" fill="#000">R</text>
<text transform="matrix(0.6230 0 0 0.6011 668.69 647.20)" font-family="Liberation Serif" font-style="normal" font-weight="normal" font-size="100" fill="#000">)</text>
<text transform="matrix(0 -0.7191 0.6029 0 54.10 445.44)" font-family="Liberation Serif" font-style="normal" font-weight="normal" font-size="100" fill="#000">Δ</text>
<text transform="matrix(0 -0.3757 0.3274 0 16.33 433.25)" font-family="Liberation Serif" font-style="normal" font-weight="normal" font-size="100" fill="#000">~</text>
<text transform="matrix(0 -0.4267 0.3701 0 61.04 398.52)" font-family="Liberation Serif" font-style="normal" font-weight="normal" font-size="100" fill="#000">c</text>
<text transform="matrix(0 -0.7738 0.8162 0 66.50 372.60)" font-family="Liberation Serif" font-style="normal" font-weight="normal" font-size="100" fill="#000">/</text>
<text transform="matrix(0 -0.5762 0.5588 0 54.10 347.53)" font-family="Liberation Serif" font-style="normal" font-weight="normal" font-size="100" fill="#000">2</text>
<text transform="matrix(0 -0.5747 0.5184 0 54.09 318.31)" font-family="Liberation Serif" font-style="italic" font-weight="normal" font-size="100" fill="#000">π</text>
<text transform="matrix(0 -0.5568 0.6176 0 54.75 264.65)" font-family="Liberation Serif" font-style="normal" font-weight="normal" font-size="100" fill="#000">(</text>
<text transform="matrix(0 -0.5643 0.5819 0 54.10 243.43)" font-family="Liberation Serif" font-style="normal" font-weight="normal" font-size="100" fill="#000">M</text>
<text transform="matrix(0 -0.5647 0.5819 0 54.10 191.53)" font-family="Liberation Serif" font-style="normal" font-weight="normal" font-size="100" fill="#000">H</text>
<text transform="matrix(0 -0.5396 0.5294 0 54.10 149.45)" font-family="Liberation Serif" font-style="normal" font-weight="normal" font-size="100" fill="#000">z</text>
<text transform="matrix(0 -0.5568 0.6176 0 54.75 123.29)" font-family="Liberation Serif" font-style="normal" font-weight="normal" font-size="100" fill="#000">)</text>
<text transform="matrix(0.5171 0 0 0.4890 1211.95 145.22)" font-family="Liberation Serif" font-style="normal" font-weight="normal" font-size="100" fill="#000">10</text>
<text transform="matrix(0.3920 0 0 0.3636 1264.75 128.30)" font-family="Liberation Serif" font-style="normal" font-weight="normal" font-size="100" fill="#000">1</text>
<text transform="matrix(0.5171 0 0 0.4890 1211.95 333.12)" font-family="Liberation Serif" font-style="normal" font-weight="normal" font-size="100" fill="#000">10</text>
<text transform="matrix(0.4318 0 0 0.3631 1264.26 316.35)" font-family="Liberation Serif" font-style="normal" font-weight="normal" font-size="100" fill="#000">0</text>
<text transform="matrix(0.5171 0 0 0.4890 1211.95 521.22)" font-family="Liberation Serif" font-style="normal" font-weight="normal" font-size="100" fill="#000">10</text>
<text transform="matrix(0.4545 0 0 0.3636 1299.01 504.30)" font-family="Liberation Serif" font-style="normal" font-weight="normal" font-size="100" fill="#000">1</text>
<line x1="1267.8" y1="495.49999999999994" x2="1294.4" y2="495.49999999999994" stroke="#000" stroke-width="1.7"/>
<text transform="matrix(0 -0.5996 0.6209 0 1333.78 153.93)" font-family="Liberation Serif" font-style="normal" font-weight="normal" font-size="100" fill="#000">)</text>
<text transform="matrix(0 -0.5679 0.5251 0 1333.20 180.33)" font-family="Liberation Serif" font-style="normal" font-weight="normal" font-size="100" fill="#000">z</text>
<text transform="matrix(0 -0.5813 0.5803 0 1333.20 221.97)" font-family="Liberation Serif" font-style="normal" font-weight="normal" font-size="100" fill="#000">H</text>
<text transform="matrix(0 -0.5680 0.5803 0 1333.20 273.44)" font-family="Liberation Serif" font-style="normal" font-weight="normal" font-size="100" fill="#000">M</text>
<text transform="matrix(0 -0.5918 0.6209 0 1333.78 294.40)" font-family="Liberation Serif" font-style="normal" font-weight="normal" font-size="100" fill="#000">(</text>
<text transform="matrix(0 -0.5644 0.4103 0 1340.50 336.15)" font-family="Liberation Serif" font-style="normal" font-weight="normal" font-size="100" fill="#000">t</text>
<text transform="matrix(0 -0.4485 0.3743 0 1340.53 356.35)" font-family="Liberation Serif" font-style="normal" font-weight="normal" font-size="100" fill="#000">e</text>
<text transform="matrix(0 -0.4583 0.3923 0 1340.52 379.96)" font-family="Liberation Serif" font-style="normal" font-weight="normal" font-size="100" fill="#000">d</text>
<text transform="matrix(0 -0.7426 0.5412 0 1334.00 415.35)" font-family="Liberation Serif" font-style="italic" font-weight="normal" font-size="100" fill="#000">n</text>
<line x1="1301.2" y1="387.2" x2="1301.2" y2="407.3" stroke="#000" stroke-width="2.3"/>
<text transform="matrix(0.5325 0 0 0.4983 78.62 738.59)" font-family="Liberation Serif" font-style="normal" font-weight="normal" font-size="100" fill="#000">1.6</text>
<text transform="matrix(0.5260 0 0 0.4998 78.68 886.65)" font-family="Liberation Serif" font-style="normal" font-weight="normal" font-size="100" fill="#000">1.4</text>
<text transform="matrix(0.5447 0 0 0.4983 78.51 1034.71)" font-family="Liberation Serif" font-style="normal" font-weight="normal" font-size="100" fill="#000">1.2</text>
<text transform="matrix(0.5365 0 0 0.4962 78.58 1182.78)" font-family="Liberation Serif" font-style="normal" font-weight="normal" font-size="100" fill="#000">1.0</text>
<text transform="matrix(0.5324 0 0 0.4962 81.27 1330.84)" font-family="Liberation Serif" font-style="normal" font-weight="normal" font-size="100" fill="#000">0.8</text>
<text transform="matrix(0.5287 0 0 0.4962 81.29 1478.90)" font-family="Liberation Serif" font-style="normal" font-weight="normal" font-size="100" fill="#000">0.6</text>
<text transform="matrix(0.5313 0 0 0.4962 183.58 1553.70)" font-family="Liberation Serif" font-style="normal" font-weight="normal" font-size="100" fill="#000">0.010</text>
<line x1="148.25" y1="1540.2" x2="179.35" y2="1540.2" stroke="#000" stroke-width="2.4"/>
<text transform="matrix(0.5316 0 0 0.4962 448.58 1553.70)" font-family="Liberation Serif" font-style="normal" font-weight="normal" font-size="100" fill="#000">0.005</text>
<line x1="413.25" y1="1540.2" x2="444.35" y2="1540.2" stroke="#000" stroke-width="2.4"/>
<text transform="matrix(0.5309 0 0 0.4947 695.78 1548.20)" font-family="Liberation Serif" font-style="normal" font-weight="normal" font-size="100" fill="#000">0.000</text>
<text transform="matrix(0.5311 0 0 0.4947 960.98 1548.20)" font-family="Liberation Serif" font-style="normal" font-weight="normal" font-size="100" fill="#000">0.005</text>
<text transform="matrix(0.5309 0 0 0.4947 1226.28 1548.20)" font-family="Liberation Serif" font-style="normal" font-weight="normal" font-size="100" fill="#000">0.010</text>
<text transform="matrix(0.5538 0 0 0.5528 544.67 1614.40)" font-family="Liberation Serif" font-style="normal" font-weight="normal" font-size="100" fill="#000">2</text>
<text transform="matrix(0.5997 0 0 0.5461 572.98 1614.37)" font-family="Liberation Serif" font-style="italic" font-weight="normal" font-size="100" fill="#000">π</text>
<text transform="matrix(0.7990 0 0 0.8147 610.00 1627.00)" font-family="Liberation Serif" font-style="normal" font-weight="normal" font-size="100" fill="#000">/</text>
<text transform="matrix(0.7244 0 0 0.5877 636.14 1614.40)" font-family="Liberation Serif" font-style="normal" font-weight="normal" font-size="100" fill="#000">Δ</text>
<text transform="matrix(0.4358 0 0 0.4414 683.49 1620.40)" font-family="Liberation Serif" font-style="normal" font-weight="normal" font-size="100" fill="#000">m</text>
<text transform="matrix(0.5607 0 0 0.6011 743.14 1615.00)" font-family="Liberation Serif" font-style="normal" font-weight="normal" font-size="100" fill="#000">(</text>
<text transform="matrix(0.6041 0 0 0.5590 763.86 1614.40)" font-family="Liberation Serif" font-style="normal" font-weight="normal" font-size="100" fill="#000">M</text>
<text transform="matrix(0.6114 0 0 0.5590 816.04 1614.40)" font-family="Liberation Serif" font-style="normal" font-weight="normal" font-size="100" fill="#000">H</text>
<text transform="matrix(0.5139 0 0 0.5469 859.72 1614.40)" font-family="Liberation Serif" font-style="normal" font-weight="normal" font-size="100" fill="#000">z</text>
<line x1="887.8" y1="1582.2" x2="914.4" y2="1582.2" stroke="#000" stroke-width="1.8"/>
<text transform="matrix(0.4119 0 0 0.3696 918.58 1591.10)" font-family="Liberation Serif" font-style="normal" font-weight="normal" font-size="100" fill="#000">1</text>
<text transform="matrix(0.5607 0 0 0.6011 945.99 1615.00)" font-family="Liberation Serif" font-style="normal" font-weight="normal" font-size="100" fill="#000">)</text>
<path d="M25.82 1234.47 L25.54 1234.32 L25.25 1234.18 L24.98 1234.05 L24.71 1233.93 L24.45 1233.81 L24.20 1233.69 L23.95 1233.56 L23.71 1233.41 L23.47 1233.25 L23.22 1233.05 L22.96 1232.82 L22.70 1232.57 L22.43 1232.30 L22.16 1232.02 L21.90 1231.73 L21.65 1231.43 L21.40 1231.12 L21.18 1230.80 L20.96 1230.48 L20.77 1230.16 L20.59 1229.83 L20.42 1229.50 L20.27 1229.16 L20.13 1228.81 L19.99 1228.46 L19.87 1228.09 L19.76 1227.71 L19.65 1227.30 L19.54 1226.88 L19.44 1226.42 L19.34 1225.93 L19.23 1225.44 L19.12 1224.95 L19.03 1224.44 L18.94 1223.91 L18.87 1223.37 L18.81 1222.80 L18.78 1222.20 L18.77 1221.57 L18.80 1220.90 L18.85 1220.17 L18.93 1219.37 L19.04 1218.53 L19.16 1217.65 L19.31 1216.75 L19.47 1215.85 L19.64 1214.95 L19.82 1214.08 L20.01 1213.25 L20.20 1212.45 L20.40 1211.67 L20.61 1210.88 L20.83 1210.10 L21.06 1209.33 L21.30 1208.59 L21.55 1207.87 L21.79 1207.20 L22.04 1206.57 L22.29 1206.01 L22.53 1205.51 L22.76 1205.06 L22.99 1204.65 L23.23 1204.26 L23.47 1203.90 L23.72 1203.55 L23.99 1203.21 L24.28 1202.87 L24.60 1202.53 L24.95 1202.18 L25.33 1201.83 L25.72 1201.48 L26.13 1201.14 L26.55 1200.81 L26.97 1200.50 L27.39 1200.20 L27.83 1199.93 L28.27 1199.69 L28.71 1199.49 L29.15 1199.32 L29.62 1199.18 L30.13 1199.08 L30.68 1198.99 L31.24 1198.93 L31.83 1198.90 L32.42 1198.91 L33.02 1198.95 L33.63 1199.03 L34.25 1199.16 L34.87 1199.33 L35.50 1199.55 L36.15 1199.83 L36.84 1200.17 L37.55 1200.56 L38.27 1201.01 L39.00 1201.50 L39.72 1202.04 L40.44 1202.60 L41.14 1203.19 L41.81 1203.80 L42.46 1204.43 L43.09 1205.08 L43.71 1205.78 L44.32 1206.50 L44.91 1207.26 L45.49 1208.05 L46.05 1208.86 L46.58 1209.68 L47.09 1210.52 L47.57 1211.38 L48.02 1212.23 L48.44 1213.10 L48.83 1214.02 L49.19 1214.97 L49.53 1215.94 L49.85 1216.93 L50.15 1217.92 L50.43 1218.91 L50.70 1219.88 L50.94 1220.82 L51.18 1221.73 L51.38 1222.61 L51.56 1223.49 L51.72 1224.38 L51.85 1225.26 L51.97 1226.13 L52.08 1226.97 L52.19 1227.77 L52.29 1228.53 L52.39 1229.24 L52.50 1229.87 L52.61 1230.41 L52.71 1230.87 L52.81 1231.26 L52.90 1231.60 L52.99 1231.90 L53.08 1232.19 L53.16 1232.47 L53.25 1232.77 L53.34 1233.08 L53.43 1233.42 L53.84 1233.40 L53.90 1233.05 L53.97 1232.75 L54.05 1232.46 L54.12 1232.17 L54.19 1231.86 L54.26 1231.53 L54.31 1231.16 L54.35 1230.73 L54.36 1230.24 L54.36 1229.68 L54.33 1229.04 L54.30 1228.34 L54.25 1227.57 L54.20 1226.75 L54.12 1225.88 L54.02 1224.98 L53.91 1224.05 L53.77 1223.10 L53.60 1222.15 L53.40 1221.21 L53.18 1220.27 L52.93 1219.29 L52.67 1218.29 L52.38 1217.27 L52.07 1216.23 L51.73 1215.20 L51.37 1214.17 L50.98 1213.15 L50.56 1212.16 L50.11 1211.20 L49.64 1210.26 L49.13 1209.35 L48.59 1208.44 L48.03 1207.55 L47.44 1206.68 L46.84 1205.83 L46.21 1205.00 L45.57 1204.20 L44.92 1203.43 L44.25 1202.70 L43.57 1201.99 L42.85 1201.30 L42.11 1200.63 L41.35 1199.98 L40.58 1199.37 L39.79 1198.79 L39.01 1198.25 L38.23 1197.75 L37.45 1197.29 L36.68 1196.89 L35.90 1196.54 L35.12 1196.24 L34.34 1196.00 L33.56 1195.80 L32.78 1195.65 L32.02 1195.54 L31.26 1195.48 L30.52 1195.45 L29.79 1195.45 L29.06 1195.49 L28.32 1195.58 L27.57 1195.72 L26.85 1195.91 L26.14 1196.14 L25.46 1196.40 L24.81 1196.69 L24.18 1197.01 L23.57 1197.34 L23.00 1197.68 L22.45 1198.03 L21.92 1198.39 L21.39 1198.76 L20.87 1199.16 L20.35 1199.60 L19.84 1200.07 L19.35 1200.59 L18.89 1201.16 L18.44 1201.78 L18.04 1202.45 L17.67 1203.18 L17.34 1203.95 L17.05 1204.76 L16.80 1205.60 L16.59 1206.45 L16.40 1207.33 L16.24 1208.22 L16.11 1209.12 L16.00 1210.02 L15.91 1210.91 L15.84 1211.80 L15.80 1212.72 L15.78 1213.67 L15.79 1214.64 L15.83 1215.61 L15.89 1216.59 L15.96 1217.54 L16.04 1218.47 L16.13 1219.37 L16.22 1220.21 L16.31 1221.00 L16.41 1221.74 L16.52 1222.44 L16.64 1223.10 L16.77 1223.72 L16.90 1224.31 L17.04 1224.88 L17.19 1225.41 L17.34 1225.93 L17.49 1226.42 L17.64 1226.90 L17.79 1227.38 L17.95 1227.83 L18.11 1228.26 L18.28 1228.68 L18.45 1229.08 L18.63 1229.46 L18.82 1229.84 L19.01 1230.21 L19.21 1230.58 L19.43 1230.95 L19.66 1231.32 L19.90 1231.69 L20.16 1232.04 L20.42 1232.39 L20.69 1232.73 L20.96 1233.07 L21.22 1233.39 L21.48 1233.69 L21.72 1233.99 L21.96 1234.28 L22.19 1234.57 L22.42 1234.84 L22.65 1235.11 L22.87 1235.36 L23.08 1235.60 L23.29 1235.83 L23.48 1236.05 L23.67 1236.27 L23.85 1236.48 L24.03 1236.70Z M17.62 1221.96 L18.39 1222.15 L19.16 1222.34 L19.92 1222.53 L20.68 1222.72 L21.44 1222.91 L22.20 1223.09 L22.96 1223.28 L23.72 1223.46 L24.49 1223.64 L25.28 1223.82 L26.08 1223.99 L26.90 1224.15 L27.72 1224.31 L28.55 1224.46 L29.37 1224.61 L30.19 1224.76 L31.01 1224.92 L31.83 1225.08 L32.63 1225.26 L33.43 1225.44 L34.24 1225.65 L35.06 1225.87 L35.89 1226.10 L36.73 1226.34 L37.57 1226.59 L38.41 1226.84 L39.23 1227.09 L40.05 1227.33 L40.85 1227.57 L41.63 1227.80 L42.41 1228.02 L43.18 1228.22 L43.93 1228.42 L44.65 1228.61 L45.35 1228.80 L46.01 1228.98 L46.62 1229.15 L47.19 1229.32 L47.70 1229.49 L48.16 1229.65 L48.57 1229.81 L48.95 1229.98 L49.32 1230.16 L49.67 1230.35 L50.02 1230.56 L50.36 1230.78 L50.69 1231.01 L51.01 1231.25 L51.33 1231.49 L51.63 1231.71 L51.88 1231.90 L52.10 1232.07 L52.30 1232.25 L52.49 1232.43 L52.67 1232.63 L52.85 1232.84 L53.02 1233.06 L53.21 1233.28 L53.40 1233.51 L53.60 1233.73 L53.88 1233.60 L53.84 1233.31 L53.82 1233.03 L53.81 1232.75 L53.79 1232.47 L53.77 1232.17 L53.73 1231.86 L53.67 1231.53 L53.57 1231.17 L53.43 1230.80 L53.26 1230.43 L53.08 1230.07 L52.90 1229.69 L52.69 1229.29 L52.45 1228.87 L52.17 1228.44 L51.85 1227.99 L51.47 1227.55 L51.03 1227.10 L50.54 1226.67 L49.98 1226.27 L49.37 1225.90 L48.73 1225.57 L48.06 1225.26 L47.36 1224.97 L46.65 1224.70 L45.93 1224.45 L45.20 1224.20 L44.47 1223.95 L43.74 1223.70 L43.01 1223.45 L42.26 1223.18 L41.46 1222.91 L40.65 1222.63 L39.81 1222.36 L38.95 1222.08 L38.09 1221.81 L37.21 1221.55 L36.34 1221.29 L35.46 1221.05 L34.59 1220.82 L33.72 1220.60 L32.86 1220.40 L32.00 1220.20 L31.14 1220.02 L30.28 1219.84 L29.44 1219.68 L28.60 1219.52 L27.76 1219.38 L26.94 1219.25 L26.13 1219.12 L25.32 1219.01 L24.51 1218.91 L23.70 1218.83 L22.91 1218.76 L22.12 1218.69 L21.34 1218.63 L20.56 1218.57 L19.78 1218.51 L19.00 1218.45 L18.21 1218.38Z" fill="#000" fill-rule="nonzero"/><circle cx="25.29" cy="1235.48" r="1.75" fill="#000"/>
<text transform="matrix(0 -0.4271 0.3853 0 60.92 1194.53)" font-family="Liberation Serif" font-style="normal" font-weight="normal" font-size="100" fill="#000">0</text>
<text transform="matrix(0 -0.4625 0.4108 0 60.90 1171.90)" font-family="Liberation Serif" font-style="normal" font-weight="normal" font-size="100" fill="#000">C</text>
<text transform="matrix(0 -0.3290 0.4633 0 59.97 1138.15)" font-family="Liberation Serif" font-style="normal" font-weight="normal" font-size="100" fill="#000">,</text>
<text transform="matrix(0 -0.4962 0.3758 0 60.93 1126.64)" font-family="Liberation Serif" font-style="normal" font-weight="normal" font-size="100" fill="#000">a</text>
<text transform="matrix(0 -0.7738 0.8222 0 66.60 1097.90)" font-family="Liberation Serif" font-style="normal" font-weight="normal" font-size="100" fill="#000">/</text>
<path d="M25.82 1069.47 L25.54 1069.32 L25.25 1069.18 L24.98 1069.05 L24.71 1068.93 L24.45 1068.81 L24.20 1068.69 L23.95 1068.56 L23.71 1068.41 L23.47 1068.25 L23.22 1068.05 L22.96 1067.82 L22.70 1067.57 L22.43 1067.30 L22.16 1067.02 L21.90 1066.73 L21.65 1066.43 L21.40 1066.12 L21.18 1065.80 L20.96 1065.48 L20.77 1065.16 L20.59 1064.83 L20.42 1064.50 L20.27 1064.16 L20.13 1063.81 L19.99 1063.46 L19.87 1063.09 L19.76 1062.71 L19.65 1062.30 L19.54 1061.88 L19.44 1061.42 L19.34 1060.93 L19.23 1060.44 L19.12 1059.95 L19.03 1059.44 L18.94 1058.91 L18.87 1058.37 L18.81 1057.80 L18.78 1057.20 L18.77 1056.57 L18.80 1055.90 L18.85 1055.17 L18.93 1054.37 L19.04 1053.53 L19.16 1052.65 L19.31 1051.75 L19.47 1050.85 L19.64 1049.95 L19.82 1049.08 L20.01 1048.25 L20.20 1047.45 L20.40 1046.67 L20.61 1045.88 L20.83 1045.10 L21.06 1044.33 L21.30 1043.59 L21.55 1042.87 L21.79 1042.20 L22.04 1041.57 L22.29 1041.01 L22.53 1040.51 L22.76 1040.06 L22.99 1039.65 L23.23 1039.26 L23.47 1038.90 L23.72 1038.55 L23.99 1038.21 L24.28 1037.87 L24.60 1037.53 L24.95 1037.18 L25.33 1036.83 L25.72 1036.48 L26.13 1036.14 L26.55 1035.81 L26.97 1035.50 L27.39 1035.20 L27.83 1034.93 L28.27 1034.69 L28.71 1034.49 L29.15 1034.32 L29.62 1034.18 L30.13 1034.08 L30.68 1033.99 L31.24 1033.93 L31.83 1033.90 L32.42 1033.91 L33.02 1033.95 L33.63 1034.03 L34.25 1034.16 L34.87 1034.33 L35.50 1034.55 L36.15 1034.83 L36.84 1035.17 L37.55 1035.56 L38.27 1036.01 L39.00 1036.50 L39.72 1037.04 L40.44 1037.60 L41.14 1038.19 L41.81 1038.80 L42.46 1039.43 L43.09 1040.08 L43.71 1040.78 L44.32 1041.50 L44.91 1042.26 L45.49 1043.05 L46.05 1043.86 L46.58 1044.68 L47.09 1045.52 L47.57 1046.38 L48.02 1047.23 L48.44 1048.10 L48.83 1049.02 L49.19 1049.97 L49.53 1050.94 L49.85 1051.93 L50.15 1052.92 L50.43 1053.91 L50.70 1054.88 L50.94 1055.82 L51.18 1056.73 L51.38 1057.61 L51.56 1058.49 L51.72 1059.38 L51.85 1060.26 L51.97 1061.13 L52.08 1061.97 L52.19 1062.77 L52.29 1063.53 L52.39 1064.24 L52.50 1064.87 L52.61 1065.41 L52.71 1065.87 L52.81 1066.26 L52.90 1066.60 L52.99 1066.90 L53.08 1067.19 L53.16 1067.47 L53.25 1067.77 L53.34 1068.08 L53.43 1068.42 L53.84 1068.40 L53.90 1068.05 L53.97 1067.75 L54.05 1067.46 L54.12 1067.17 L54.19 1066.86 L54.26 1066.53 L54.31 1066.16 L54.35 1065.73 L54.36 1065.24 L54.36 1064.68 L54.33 1064.04 L54.30 1063.34 L54.25 1062.57 L54.20 1061.75 L54.12 1060.88 L54.02 1059.98 L53.91 1059.05 L53.77 1058.10 L53.60 1057.15 L53.40 1056.21 L53.18 1055.27 L52.93 1054.29 L52.67 1053.29 L52.38 1052.27 L52.07 1051.23 L51.73 1050.20 L51.37 1049.17 L50.98 1048.15 L50.56 1047.16 L50.11 1046.20 L49.64 1045.26 L49.13 1044.35 L48.59 1043.44 L48.03 1042.55 L47.44 1041.68 L46.84 1040.83 L46.21 1040.00 L45.57 1039.20 L44.92 1038.43 L44.25 1037.70 L43.57 1036.99 L42.85 1036.30 L42.11 1035.63 L41.35 1034.98 L40.58 1034.37 L39.79 1033.79 L39.01 1033.25 L38.23 1032.75 L37.45 1032.29 L36.68 1031.89 L35.90 1031.54 L35.12 1031.24 L34.34 1031.00 L33.56 1030.80 L32.78 1030.65 L32.02 1030.54 L31.26 1030.48 L30.52 1030.45 L29.79 1030.45 L29.06 1030.49 L28.32 1030.58 L27.57 1030.72 L26.85 1030.91 L26.14 1031.14 L25.46 1031.40 L24.81 1031.69 L24.18 1032.01 L23.57 1032.34 L23.00 1032.68 L22.45 1033.03 L21.92 1033.39 L21.39 1033.76 L20.87 1034.16 L20.35 1034.60 L19.84 1035.07 L19.35 1035.59 L18.89 1036.16 L18.44 1036.78 L18.04 1037.45 L17.67 1038.18 L17.34 1038.95 L17.05 1039.76 L16.80 1040.60 L16.59 1041.45 L16.40 1042.33 L16.24 1043.22 L16.11 1044.12 L16.00 1045.02 L15.91 1045.91 L15.84 1046.80 L15.80 1047.72 L15.78 1048.67 L15.79 1049.64 L15.83 1050.61 L15.89 1051.59 L15.96 1052.54 L16.04 1053.47 L16.13 1054.37 L16.22 1055.21 L16.31 1056.00 L16.41 1056.74 L16.52 1057.44 L16.64 1058.10 L16.77 1058.72 L16.90 1059.31 L17.04 1059.88 L17.19 1060.41 L17.34 1060.93 L17.49 1061.42 L17.64 1061.90 L17.79 1062.38 L17.95 1062.83 L18.11 1063.26 L18.28 1063.68 L18.45 1064.08 L18.63 1064.46 L18.82 1064.84 L19.01 1065.21 L19.21 1065.58 L19.43 1065.95 L19.66 1066.32 L19.90 1066.69 L20.16 1067.04 L20.42 1067.39 L20.69 1067.73 L20.96 1068.07 L21.22 1068.39 L21.48 1068.69 L21.72 1068.99 L21.96 1069.28 L22.19 1069.57 L22.42 1069.84 L22.65 1070.11 L22.87 1070.36 L23.08 1070.60 L23.29 1070.83 L23.48 1071.05 L23.67 1071.27 L23.85 1071.48 L24.03 1071.70Z M17.62 1056.96 L18.39 1057.15 L19.16 1057.34 L19.92 1057.53 L20.68 1057.72 L21.44 1057.91 L22.20 1058.09 L22.96 1058.28 L23.72 1058.46 L24.49 1058.64 L25.28 1058.82 L26.08 1058.99 L26.90 1059.15 L27.72 1059.31 L28.55 1059.46 L29.37 1059.61 L30.19 1059.76 L31.01 1059.92 L31.83 1060.08 L32.63 1060.26 L33.43 1060.44 L34.24 1060.65 L35.06 1060.87 L35.89 1061.10 L36.73 1061.34 L37.57 1061.59 L38.41 1061.84 L39.23 1062.09 L40.05 1062.33 L40.85 1062.57 L41.63 1062.80 L42.41 1063.02 L43.18 1063.22 L43.93 1063.42 L44.65 1063.61 L45.35 1063.80 L46.01 1063.98 L46.62 1064.15 L47.19 1064.32 L47.70 1064.49 L48.16 1064.65 L48.57 1064.81 L48.95 1064.98 L49.32 1065.16 L49.67 1065.35 L50.02 1065.56 L50.36 1065.78 L50.69 1066.01 L51.01 1066.25 L51.33 1066.49 L51.63 1066.71 L51.88 1066.90 L52.10 1067.07 L52.30 1067.25 L52.49 1067.43 L52.67 1067.63 L52.85 1067.84 L53.02 1068.06 L53.21 1068.28 L53.40 1068.51 L53.60 1068.73 L53.88 1068.60 L53.84 1068.31 L53.82 1068.03 L53.81 1067.75 L53.79 1067.47 L53.77 1067.17 L53.73 1066.86 L53.67 1066.53 L53.57 1066.17 L53.43 1065.80 L53.26 1065.43 L53.08 1065.07 L52.90 1064.69 L52.69 1064.29 L52.45 1063.87 L52.17 1063.44 L51.85 1062.99 L51.47 1062.55 L51.03 1062.10 L50.54 1061.67 L49.98 1061.27 L49.37 1060.90 L48.73 1060.57 L48.06 1060.26 L47.36 1059.97 L46.65 1059.70 L45.93 1059.45 L45.20 1059.20 L44.47 1058.95 L43.74 1058.70 L43.01 1058.45 L42.26 1058.18 L41.46 1057.91 L40.65 1057.63 L39.81 1057.36 L38.95 1057.08 L38.09 1056.81 L37.21 1056.55 L36.34 1056.29 L35.46 1056.05 L34.59 1055.82 L33.72 1055.60 L32.86 1055.40 L32.00 1055.20 L31.14 1055.02 L30.28 1054.84 L29.44 1054.68 L28.60 1054.52 L27.76 1054.38 L26.94 1054.25 L26.13 1054.12 L25.32 1054.01 L24.51 1053.91 L23.70 1053.83 L22.91 1053.76 L22.12 1053.69 L21.34 1053.63 L20.56 1053.57 L19.78 1053.51 L19.00 1053.45 L18.21 1053.38Z" fill="#000" fill-rule="nonzero"/><circle cx="25.29" cy="1070.48" r="1.75" fill="#000"/>
<text transform="matrix(0 -0.4271 0.3853 0 60.92 1029.53)" font-family="Liberation Serif" font-style="normal" font-weight="normal" font-size="100" fill="#000">0</text>
<text transform="matrix(0 -0.4625 0.4108 0 60.90 1006.90)" font-family="Liberation Serif" font-style="normal" font-weight="normal" font-size="100" fill="#000">C</text>
<text transform="matrix(0.5298 0 0 0.4968 705.24 768.30)" font-family="Liberation Serif" font-style="normal" font-weight="normal" font-size="100" fill="#000">1.5</text>
<text transform="matrix(0.5293 0 0 0.4932 705.25 895.70)" font-family="Liberation Serif" font-style="normal" font-weight="normal" font-size="100" fill="#000">1.0</text>
<text transform="matrix(0.5201 0 0 0.4932 706.42 1023.10)" font-family="Liberation Serif" font-style="normal" font-weight="normal" font-size="100" fill="#000">0.5</text>
<text transform="matrix(0.5176 0 0 0.4667 783.63 1067.34)" font-family="Liberation Serif" font-style="normal" font-weight="normal" font-size="100" fill="#000">0.01</text>
<line x1="746.7" y1="1055.4" x2="776.7" y2="1055.4" stroke="#000" stroke-width="2.4"/>
<text transform="matrix(0.5317 0 0 0.4756 1003.17 1062.83)" font-family="Liberation Serif" font-style="normal" font-weight="normal" font-size="100" fill="#000">0.00</text>
<text transform="matrix(0.5049 0 0 0.4726 1241.38 1062.63)" font-family="Liberation Serif" font-style="normal" font-weight="normal" font-size="100" fill="#000">0.01</text>
<text transform="matrix(0.4989 0 0 0.4803 851.11 1123.30)" font-family="Liberation Serif" font-style="normal" font-weight="normal" font-size="100" fill="#000">2</text>
<text transform="matrix(0.5361 0 0 0.4715 877.51 1123.24)" font-family="Liberation Serif" font-style="italic" font-weight="normal" font-size="100" fill="#000">π</text>
<text transform="matrix(0.7199 0 0 0.7146 911.10 1134.90)" font-family="Liberation Serif" font-style="normal" font-weight="normal" font-size="100" fill="#000">/</text>
<text transform="matrix(0.6645 0 0 0.5044 934.17 1123.30)" font-family="Liberation Serif" font-style="normal" font-weight="normal" font-size="100" fill="#000">Δ</text>
<text transform="matrix(0.4493 0 0 0.3905 977.96 1128.90)" font-family="Liberation Serif" font-style="normal" font-weight="normal" font-size="100" fill="#000">m</text>
<text transform="matrix(0.5178 0 0 0.5316 1035.52 1124.68)" font-family="Liberation Serif" font-style="normal" font-weight="normal" font-size="100" fill="#000">(</text>
<text transform="matrix(0.5607 0 0 0.4918 1053.98 1123.30)" font-family="Liberation Serif" font-style="normal" font-weight="normal" font-size="100" fill="#000">M</text>
<text transform="matrix(0.5361 0 0 0.4918 1102.86 1123.30)" font-family="Liberation Serif" font-style="normal" font-weight="normal" font-size="100" fill="#000">H</text>
<text transform="matrix(0.4857 0 0 0.4728 1142.00 1123.30)" font-family="Liberation Serif" font-style="normal" font-weight="normal" font-size="100" fill="#000">z</text>
<line x1="1168.9" y1="1096.7" x2="1195.6" y2="1096.7" stroke="#000" stroke-width="1.7"/>
<text transform="matrix(0.4119 0 0 0.3545 1200.78 1105.60)" font-family="Liberation Serif" font-style="normal" font-weight="normal" font-size="100" fill="#000">1</text>
<text transform="matrix(0.5178 0 0 0.5316 1226.13 1124.68)" font-family="Liberation Serif" font-style="normal" font-weight="normal" font-size="100" fill="#000">)</text>
<path d="M655.06 1007.60 L654.81 1007.46 L654.56 1007.33 L654.32 1007.21 L654.09 1007.09 L653.87 1006.98 L653.65 1006.87 L653.43 1006.75 L653.22 1006.62 L653.01 1006.47 L652.79 1006.29 L652.57 1006.08 L652.34 1005.85 L652.10 1005.61 L651.87 1005.35 L651.64 1005.09 L651.42 1004.81 L651.21 1004.53 L651.01 1004.24 L650.83 1003.95 L650.66 1003.66 L650.50 1003.36 L650.36 1003.06 L650.22 1002.75 L650.10 1002.44 L649.98 1002.12 L649.88 1001.78 L649.78 1001.43 L649.68 1001.07 L649.59 1000.68 L649.50 1000.26 L649.41 999.83 L649.32 999.38 L649.23 998.93 L649.14 998.47 L649.07 997.99 L649.00 997.50 L648.96 996.98 L648.93 996.44 L648.92 995.87 L648.94 995.26 L648.99 994.59 L649.06 993.87 L649.15 993.10 L649.26 992.30 L649.38 991.49 L649.52 990.67 L649.67 989.86 L649.83 989.06 L650.00 988.30 L650.16 987.58 L650.33 986.87 L650.52 986.15 L650.71 985.44 L650.91 984.74 L651.12 984.06 L651.33 983.41 L651.55 982.79 L651.77 982.22 L651.99 981.70 L652.20 981.24 L652.40 980.82 L652.61 980.44 L652.81 980.09 L653.02 979.76 L653.24 979.44 L653.48 979.13 L653.73 978.82 L654.01 978.51 L654.32 978.20 L654.64 977.89 L654.99 977.58 L655.34 977.27 L655.70 976.97 L656.06 976.69 L656.43 976.43 L656.81 976.18 L657.18 975.97 L657.56 975.79 L657.94 975.63 L658.34 975.52 L658.78 975.42 L659.26 975.35 L659.75 975.30 L660.25 975.27 L660.76 975.28 L661.28 975.32 L661.81 975.39 L662.34 975.50 L662.88 975.66 L663.42 975.86 L663.99 976.11 L664.59 976.42 L665.20 976.78 L665.83 977.19 L666.46 977.64 L667.09 978.12 L667.71 978.63 L668.32 979.16 L668.91 979.72 L669.47 980.29 L670.01 980.88 L670.55 981.51 L671.08 982.17 L671.60 982.86 L672.10 983.57 L672.58 984.31 L673.05 985.06 L673.49 985.82 L673.91 986.59 L674.30 987.37 L674.67 988.16 L675.00 988.99 L675.32 989.85 L675.62 990.73 L675.90 991.63 L676.16 992.53 L676.40 993.42 L676.63 994.30 L676.84 995.16 L677.05 995.98 L677.23 996.78 L677.38 997.58 L677.52 998.39 L677.63 999.19 L677.74 999.98 L677.84 1000.74 L677.92 1001.47 L678.01 1002.15 L678.10 1002.79 L678.20 1003.37 L678.29 1003.86 L678.38 1004.27 L678.46 1004.62 L678.54 1004.93 L678.62 1005.21 L678.70 1005.47 L678.77 1005.73 L678.85 1005.99 L678.93 1006.28 L679.00 1006.58 L679.36 1006.57 L679.42 1006.26 L679.47 1005.98 L679.54 1005.71 L679.60 1005.45 L679.67 1005.18 L679.72 1004.88 L679.77 1004.54 L679.80 1004.16 L679.82 1003.71 L679.81 1003.20 L679.79 1002.63 L679.76 1001.99 L679.72 1001.30 L679.67 1000.55 L679.60 999.77 L679.52 998.95 L679.42 998.11 L679.30 997.26 L679.15 996.40 L678.98 995.55 L678.79 994.70 L678.58 993.82 L678.35 992.91 L678.10 991.99 L677.83 991.05 L677.54 990.11 L677.22 989.18 L676.88 988.26 L676.52 987.36 L676.13 986.50 L675.72 985.66 L675.28 984.83 L674.82 984.01 L674.33 983.20 L673.82 982.41 L673.29 981.65 L672.75 980.90 L672.20 980.18 L671.63 979.48 L671.05 978.82 L670.46 978.18 L669.84 977.55 L669.19 976.95 L668.54 976.37 L667.86 975.81 L667.19 975.28 L666.51 974.79 L665.83 974.34 L665.15 973.93 L664.48 973.57 L663.80 973.25 L663.12 972.98 L662.44 972.76 L661.76 972.59 L661.09 972.45 L660.42 972.35 L659.76 972.30 L659.11 972.27 L658.48 972.28 L657.84 972.31 L657.19 972.40 L656.54 972.53 L655.90 972.70 L655.29 972.91 L654.70 973.15 L654.13 973.42 L653.58 973.71 L653.05 974.01 L652.55 974.32 L652.08 974.64 L651.62 974.96 L651.16 975.30 L650.71 975.67 L650.26 976.06 L649.82 976.49 L649.40 976.96 L648.99 977.48 L648.61 978.03 L648.26 978.63 L647.94 979.28 L647.66 979.97 L647.41 980.70 L647.20 981.45 L647.02 982.22 L646.86 983.01 L646.72 983.81 L646.61 984.62 L646.51 985.43 L646.43 986.23 L646.37 987.04 L646.33 987.86 L646.32 988.72 L646.33 989.59 L646.37 990.47 L646.41 991.35 L646.47 992.22 L646.55 993.06 L646.62 993.86 L646.70 994.63 L646.78 995.34 L646.87 996.00 L646.96 996.64 L647.06 997.23 L647.18 997.79 L647.29 998.33 L647.42 998.84 L647.54 999.32 L647.67 999.78 L647.80 1000.23 L647.93 1000.67 L648.07 1001.10 L648.21 1001.51 L648.35 1001.90 L648.49 1002.27 L648.64 1002.63 L648.80 1002.98 L648.96 1003.32 L649.12 1003.66 L649.30 1003.99 L649.48 1004.32 L649.68 1004.66 L649.89 1004.99 L650.12 1005.31 L650.34 1005.63 L650.58 1005.94 L650.81 1006.24 L651.04 1006.52 L651.26 1006.80 L651.47 1007.07 L651.67 1007.33 L651.88 1007.59 L652.08 1007.84 L652.27 1008.07 L652.46 1008.30 L652.65 1008.51 L652.82 1008.72 L652.99 1008.92 L653.15 1009.11 L653.31 1009.30 L653.47 1009.50Z M647.91 996.14 L648.58 996.31 L649.24 996.48 L649.90 996.65 L650.56 996.82 L651.22 996.99 L651.88 997.15 L652.54 997.32 L653.20 997.48 L653.87 997.64 L654.55 997.80 L655.25 997.95 L655.96 998.10 L656.67 998.24 L657.39 998.38 L658.10 998.52 L658.82 998.66 L659.53 998.80 L660.23 998.95 L660.93 999.11 L661.63 999.27 L662.32 999.46 L663.04 999.66 L663.76 999.87 L664.49 1000.08 L665.21 1000.31 L665.94 1000.53 L666.66 1000.76 L667.37 1000.98 L668.06 1001.20 L668.74 1001.41 L669.41 1001.61 L670.08 1001.80 L670.73 1001.98 L671.36 1002.15 L671.97 1002.32 L672.54 1002.48 L673.07 1002.64 L673.57 1002.80 L674.01 1002.95 L674.40 1003.09 L674.76 1003.24 L675.09 1003.40 L675.41 1003.56 L675.72 1003.74 L676.03 1003.94 L676.32 1004.14 L676.61 1004.35 L676.89 1004.57 L677.17 1004.80 L677.43 1005.00 L677.65 1005.18 L677.84 1005.34 L678.02 1005.50 L678.19 1005.67 L678.34 1005.86 L678.50 1006.05 L678.65 1006.25 L678.81 1006.45 L678.98 1006.66 L679.15 1006.87 L679.40 1006.76 L679.36 1006.49 L679.35 1006.24 L679.34 1005.99 L679.32 1005.74 L679.31 1005.47 L679.27 1005.19 L679.22 1004.90 L679.13 1004.58 L679.01 1004.25 L678.87 1003.92 L678.71 1003.59 L678.56 1003.26 L678.38 1002.90 L678.17 1002.53 L677.93 1002.14 L677.65 1001.74 L677.33 1001.34 L676.95 1000.94 L676.52 1000.55 L676.03 1000.19 L675.50 999.86 L674.95 999.56 L674.36 999.28 L673.76 999.02 L673.15 998.78 L672.52 998.55 L671.88 998.32 L671.25 998.10 L670.61 997.87 L669.98 997.65 L669.33 997.41 L668.64 997.16 L667.93 996.91 L667.21 996.66 L666.46 996.41 L665.71 996.17 L664.95 995.93 L664.19 995.70 L663.43 995.48 L662.67 995.27 L661.92 995.07 L661.17 994.89 L660.42 994.71 L659.67 994.54 L658.93 994.39 L658.19 994.24 L657.46 994.10 L656.74 993.97 L656.03 993.85 L655.32 993.73 L654.62 993.63 L653.91 993.54 L653.21 993.46 L652.52 993.39 L651.84 993.33 L651.16 993.27 L650.48 993.22 L649.80 993.16 L649.13 993.10 L648.44 993.04Z" fill="#000" fill-rule="nonzero"/><circle cx="654.58" cy="1008.46" r="1.52" fill="#000"/>
<text transform="matrix(0 -0.3893 0.3779 0 688.63 969.78)" font-family="Liberation Serif" font-style="normal" font-weight="normal" font-size="100" fill="#000">0</text>
<text transform="matrix(0 -0.4520 0.4063 0 688.60 947.45)" font-family="Liberation Serif" font-style="normal" font-weight="normal" font-size="100" fill="#000">C</text>
<text transform="matrix(0 -0.3022 0.4672 0 688.31 913.85)" font-family="Liberation Serif" font-style="normal" font-weight="normal" font-size="100" fill="#000">,</text>
<text transform="matrix(0 -0.4835 0.3653 0 688.64 902.40)" font-family="Liberation Serif" font-style="normal" font-weight="normal" font-size="100" fill="#000">a</text>
<text transform="matrix(0 -0.7199 0.7250 0 690.79 875.00)" font-family="Liberation Serif" font-style="normal" font-weight="normal" font-size="100" fill="#000">/</text>
<path d="M655.06 848.50 L654.81 848.36 L654.56 848.23 L654.32 848.11 L654.09 847.99 L653.87 847.88 L653.65 847.77 L653.43 847.65 L653.22 847.52 L653.01 847.37 L652.79 847.19 L652.57 846.98 L652.34 846.75 L652.10 846.51 L651.87 846.25 L651.64 845.99 L651.42 845.71 L651.21 845.43 L651.01 845.14 L650.83 844.85 L650.66 844.56 L650.50 844.26 L650.36 843.96 L650.22 843.65 L650.10 843.34 L649.98 843.02 L649.88 842.68 L649.78 842.33 L649.68 841.97 L649.59 841.58 L649.50 841.16 L649.41 840.73 L649.32 840.28 L649.23 839.83 L649.14 839.37 L649.07 838.89 L649.00 838.40 L648.96 837.88 L648.93 837.34 L648.92 836.77 L648.94 836.16 L648.99 835.49 L649.06 834.77 L649.15 834.00 L649.26 833.20 L649.38 832.39 L649.52 831.57 L649.67 830.76 L649.83 829.96 L650.00 829.20 L650.16 828.48 L650.33 827.77 L650.52 827.05 L650.71 826.34 L650.91 825.64 L651.12 824.96 L651.33 824.31 L651.55 823.69 L651.77 823.12 L651.99 822.60 L652.20 822.14 L652.40 821.72 L652.61 821.34 L652.81 820.99 L653.02 820.66 L653.24 820.34 L653.48 820.03 L653.73 819.72 L654.01 819.41 L654.32 819.10 L654.64 818.79 L654.99 818.48 L655.34 818.17 L655.70 817.87 L656.06 817.59 L656.43 817.33 L656.81 817.08 L657.18 816.87 L657.56 816.69 L657.94 816.53 L658.34 816.42 L658.78 816.32 L659.26 816.25 L659.75 816.20 L660.25 816.17 L660.76 816.18 L661.28 816.22 L661.81 816.29 L662.34 816.40 L662.88 816.56 L663.42 816.76 L663.99 817.01 L664.59 817.32 L665.20 817.68 L665.83 818.09 L666.46 818.54 L667.09 819.02 L667.71 819.53 L668.32 820.06 L668.91 820.62 L669.47 821.19 L670.01 821.78 L670.55 822.41 L671.08 823.07 L671.60 823.76 L672.10 824.47 L672.58 825.21 L673.05 825.96 L673.49 826.72 L673.91 827.49 L674.30 828.27 L674.67 829.06 L675.00 829.89 L675.32 830.75 L675.62 831.63 L675.90 832.53 L676.16 833.43 L676.40 834.32 L676.63 835.20 L676.84 836.06 L677.05 836.88 L677.23 837.68 L677.38 838.48 L677.52 839.29 L677.63 840.09 L677.74 840.88 L677.84 841.64 L677.92 842.37 L678.01 843.05 L678.10 843.69 L678.20 844.27 L678.29 844.76 L678.38 845.17 L678.46 845.52 L678.54 845.83 L678.62 846.11 L678.70 846.37 L678.77 846.63 L678.85 846.89 L678.93 847.18 L679.00 847.48 L679.36 847.47 L679.42 847.16 L679.47 846.88 L679.54 846.61 L679.60 846.35 L679.67 846.08 L679.72 845.78 L679.77 845.44 L679.80 845.06 L679.82 844.61 L679.81 844.10 L679.79 843.53 L679.76 842.89 L679.72 842.20 L679.67 841.45 L679.60 840.67 L679.52 839.85 L679.42 839.01 L679.30 838.16 L679.15 837.30 L678.98 836.45 L678.79 835.60 L678.58 834.72 L678.35 833.81 L678.10 832.89 L677.83 831.95 L677.54 831.01 L677.22 830.08 L676.88 829.16 L676.52 828.26 L676.13 827.40 L675.72 826.56 L675.28 825.73 L674.82 824.91 L674.33 824.10 L673.82 823.31 L673.29 822.55 L672.75 821.80 L672.20 821.08 L671.63 820.38 L671.05 819.72 L670.46 819.08 L669.84 818.45 L669.19 817.85 L668.54 817.27 L667.86 816.71 L667.19 816.18 L666.51 815.69 L665.83 815.24 L665.15 814.83 L664.48 814.47 L663.80 814.15 L663.12 813.88 L662.44 813.66 L661.76 813.49 L661.09 813.35 L660.42 813.25 L659.76 813.20 L659.11 813.17 L658.48 813.18 L657.84 813.21 L657.19 813.30 L656.54 813.43 L655.90 813.60 L655.29 813.81 L654.70 814.05 L654.13 814.32 L653.58 814.61 L653.05 814.91 L652.55 815.22 L652.08 815.54 L651.62 815.86 L651.16 816.20 L650.71 816.57 L650.26 816.96 L649.82 817.39 L649.40 817.86 L648.99 818.38 L648.61 818.93 L648.26 819.53 L647.94 820.18 L647.66 820.87 L647.41 821.60 L647.20 822.35 L647.02 823.12 L646.86 823.91 L646.72 824.71 L646.61 825.52 L646.51 826.33 L646.43 827.13 L646.37 827.94 L646.33 828.76 L646.32 829.62 L646.33 830.49 L646.37 831.37 L646.41 832.25 L646.47 833.12 L646.55 833.96 L646.62 834.76 L646.70 835.53 L646.78 836.24 L646.87 836.90 L646.96 837.54 L647.06 838.13 L647.18 838.69 L647.29 839.23 L647.42 839.74 L647.54 840.22 L647.67 840.68 L647.80 841.13 L647.93 841.57 L648.07 842.00 L648.21 842.41 L648.35 842.80 L648.49 843.17 L648.64 843.53 L648.80 843.88 L648.96 844.22 L649.12 844.56 L649.30 844.89 L649.48 845.22 L649.68 845.56 L649.89 845.89 L650.12 846.21 L650.34 846.53 L650.58 846.84 L650.81 847.14 L651.04 847.42 L651.26 847.70 L651.47 847.97 L651.67 848.23 L651.88 848.49 L652.08 848.74 L652.27 848.97 L652.46 849.20 L652.65 849.41 L652.82 849.62 L652.99 849.82 L653.15 850.01 L653.31 850.20 L653.47 850.40Z M647.91 837.04 L648.58 837.21 L649.24 837.38 L649.90 837.55 L650.56 837.72 L651.22 837.89 L651.88 838.05 L652.54 838.22 L653.20 838.38 L653.87 838.54 L654.55 838.70 L655.25 838.85 L655.96 839.00 L656.67 839.14 L657.39 839.28 L658.10 839.42 L658.82 839.56 L659.53 839.70 L660.23 839.85 L660.93 840.01 L661.63 840.17 L662.32 840.36 L663.04 840.56 L663.76 840.77 L664.49 840.98 L665.21 841.21 L665.94 841.43 L666.66 841.66 L667.37 841.88 L668.06 842.10 L668.74 842.31 L669.41 842.51 L670.08 842.70 L670.73 842.88 L671.36 843.05 L671.97 843.22 L672.54 843.38 L673.07 843.54 L673.57 843.70 L674.01 843.85 L674.40 843.99 L674.76 844.14 L675.09 844.30 L675.41 844.46 L675.72 844.64 L676.03 844.84 L676.32 845.04 L676.61 845.25 L676.89 845.47 L677.17 845.70 L677.43 845.90 L677.65 846.08 L677.84 846.24 L678.02 846.40 L678.19 846.57 L678.34 846.76 L678.50 846.95 L678.65 847.15 L678.81 847.35 L678.98 847.56 L679.15 847.77 L679.40 847.66 L679.36 847.39 L679.35 847.14 L679.34 846.89 L679.32 846.64 L679.31 846.37 L679.27 846.09 L679.22 845.80 L679.13 845.48 L679.01 845.15 L678.87 844.82 L678.71 844.49 L678.56 844.16 L678.38 843.80 L678.17 843.43 L677.93 843.04 L677.65 842.64 L677.33 842.24 L676.95 841.84 L676.52 841.45 L676.03 841.09 L675.50 840.76 L674.95 840.46 L674.36 840.18 L673.76 839.92 L673.15 839.68 L672.52 839.45 L671.88 839.22 L671.25 839.00 L670.61 838.77 L669.98 838.55 L669.33 838.31 L668.64 838.06 L667.93 837.81 L667.21 837.56 L666.46 837.31 L665.71 837.07 L664.95 836.83 L664.19 836.60 L663.43 836.38 L662.67 836.17 L661.92 835.97 L661.17 835.79 L660.42 835.61 L659.67 835.44 L658.93 835.29 L658.19 835.14 L657.46 835.00 L656.74 834.87 L656.03 834.75 L655.32 834.63 L654.62 834.53 L653.91 834.44 L653.21 834.36 L652.52 834.29 L651.84 834.23 L651.16 834.17 L650.48 834.12 L649.80 834.06 L649.13 834.00 L648.44 833.94Z" fill="#000" fill-rule="nonzero"/><circle cx="654.58" cy="849.36" r="1.52" fill="#000"/>
<text transform="matrix(0 -0.3987 0.3779 0 688.63 810.62)" font-family="Liberation Serif" font-style="normal" font-weight="normal" font-size="100" fill="#000">0</text>
<text transform="matrix(0 -0.4520 0.4063 0 688.60 788.35)" font-family="Liberation Serif" font-style="normal" font-weight="normal" font-size="100" fill="#000">C</text>
</g>
</svg>
</body></html>
